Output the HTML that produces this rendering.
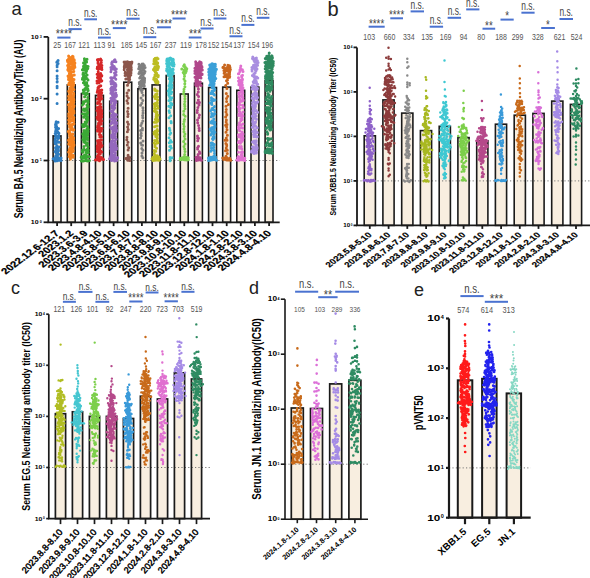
<!DOCTYPE html>
<html><head><meta charset="utf-8"><style>html,body{margin:0;padding:0;background:#fff;overflow:hidden}svg{display:block}text{font-family:"Liberation Sans",sans-serif}</style></head><body>
<svg width="590" height="578" viewBox="0 0 590 578" font-family="Liberation Sans, sans-serif">
<rect width="590" height="578" fill="#fff"/>
<rect x="53.1" y="135.9" width="7.9" height="86.4" fill="#f8eee0"/>
<rect x="67.3" y="84.9" width="7.9" height="137.4" fill="#f8eee0"/>
<rect x="81.4" y="93.6" width="7.9" height="128.7" fill="#f8eee0"/>
<rect x="95.5" y="95.4" width="7.9" height="126.9" fill="#f8eee0"/>
<rect x="109.7" y="101.2" width="7.9" height="121.1" fill="#f8eee0"/>
<rect x="123.8" y="82.2" width="7.9" height="140.1" fill="#f8eee0"/>
<rect x="137.9" y="88.7" width="7.9" height="133.6" fill="#f8eee0"/>
<rect x="152.1" y="84.9" width="7.9" height="137.4" fill="#f8eee0"/>
<rect x="166.2" y="75.5" width="7.9" height="146.8" fill="#f8eee0"/>
<rect x="180.3" y="94" width="7.9" height="128.3" fill="#f8eee0"/>
<rect x="194.5" y="83.2" width="7.9" height="139.1" fill="#f8eee0"/>
<rect x="208.6" y="87.5" width="7.9" height="134.8" fill="#f8eee0"/>
<rect x="222.7" y="87.1" width="7.9" height="135.2" fill="#f8eee0"/>
<rect x="236.8" y="90.3" width="7.9" height="132" fill="#f8eee0"/>
<rect x="251" y="87.1" width="7.9" height="135.2" fill="#f8eee0"/>
<rect x="265.1" y="80.6" width="7.9" height="141.7" fill="#f8eee0"/>
<line x1="48.3" y1="160.5" x2="279.7" y2="160.5" stroke="#777" stroke-width="1" stroke-dasharray="1.2 2.2"/>
<rect x="53.1" y="135.9" width="7.9" height="86.4" fill="none" stroke="#1a1a1a" stroke-width="1.6"/>
<rect x="67.3" y="84.9" width="7.9" height="137.4" fill="none" stroke="#1a1a1a" stroke-width="1.6"/>
<rect x="81.4" y="93.6" width="7.9" height="128.7" fill="none" stroke="#1a1a1a" stroke-width="1.6"/>
<rect x="95.5" y="95.4" width="7.9" height="126.9" fill="none" stroke="#1a1a1a" stroke-width="1.6"/>
<rect x="109.7" y="101.2" width="7.9" height="121.1" fill="none" stroke="#1a1a1a" stroke-width="1.6"/>
<rect x="123.8" y="82.2" width="7.9" height="140.1" fill="none" stroke="#1a1a1a" stroke-width="1.6"/>
<rect x="137.9" y="88.7" width="7.9" height="133.6" fill="none" stroke="#1a1a1a" stroke-width="1.6"/>
<rect x="152.1" y="84.9" width="7.9" height="137.4" fill="none" stroke="#1a1a1a" stroke-width="1.6"/>
<rect x="166.2" y="75.5" width="7.9" height="146.8" fill="none" stroke="#1a1a1a" stroke-width="1.6"/>
<rect x="180.3" y="94" width="7.9" height="128.3" fill="none" stroke="#1a1a1a" stroke-width="1.6"/>
<rect x="194.5" y="83.2" width="7.9" height="139.1" fill="none" stroke="#1a1a1a" stroke-width="1.6"/>
<rect x="208.6" y="87.5" width="7.9" height="134.8" fill="none" stroke="#1a1a1a" stroke-width="1.6"/>
<rect x="222.7" y="87.1" width="7.9" height="135.2" fill="none" stroke="#1a1a1a" stroke-width="1.6"/>
<rect x="236.8" y="90.3" width="7.9" height="132" fill="none" stroke="#1a1a1a" stroke-width="1.6"/>
<rect x="251" y="87.1" width="7.9" height="135.2" fill="none" stroke="#1a1a1a" stroke-width="1.6"/>
<rect x="265.1" y="80.6" width="7.9" height="141.7" fill="none" stroke="#1a1a1a" stroke-width="1.6"/>
<path fill="none" stroke="#2f7dc0" stroke-width="3" stroke-linecap="round" d="M57.1 61.7h0M57.1 78.4h0M57.1 158.2h0M56.8 62.3h0M58.1 159.3h0M57.1 62.4h0M59.1 158h0M58.1 60.5h0M55.1 158h0M57.1 70.7h0M57.1 82.1h0M57.1 94h0M57.2 81.6h0M57.1 86.2h0M61.1 158h0M57.1 76.1h0M53.1 158.7h0M57.1 160.7h0M56.1 159.6h0M59.4 158.7h0M59.1 160.3h0M57.1 103.6h0M55.1 160.9h0M53.9 159.1h0M61.1 160.5h0M57.1 65.2h0M58.1 63.4h0M57.6 157.8h0M57.1 66.7h0M57.1 87.7h0M59 142.3h0M55.6 131.6h0M55.9 132.3h0M56.6 142.4h0M55.3 141.2h0M56.8 128.5h0M56.9 132.5h0M57.9 132h0M57.2 129.9h0M56.2 153.4h0M56.7 157.3h0M57.1 149h0M58.1 122.3h0M56.3 142.1h0M57.4 146.7h0M58.9 137.8h0M55.4 138.4h0M59.2 146.9h0M56.6 151.4h0M56.9 145.7h0M55.5 127.1h0M56 149.4h0M55.5 135.3h0M58.6 137.5h0M56.2 151.3h0M58.6 136.2h0M55.7 156.4h0M57 129.4h0M55.1 142.7h0M57.4 136.4h0M57.2 156.3h0M55.3 143.8h0M58.7 154.3h0M56.7 150.5h0M55.5 124.7h0M55.9 123.3h0M55.2 133.4h0M56.6 126.4h0M56.1 143.6h0M55.6 133.7h0M55.5 138.1h0M56.2 124.6h0M55.1 151.6h0M55.6 156.2h0M57.2 141h0M58 157.2h0M55.8 130.5h0M58.3 149.5h0M58.3 133.1h0M58.4 157.4h0M55.9 151.2h0M55.2 140.1h0M56.2 121.8h0M56.5 157.6h0M56 129h0M58.6 128.4h0M57.8 152.1h0M57.8 150.5h0M58.2 154.6h0M58.3 138.6h0M58.9 133.2h0M58.8 135.5h0M55.5 147.8h0M58.5 150.8h0M56.4 157.3h0M55.1 141.2h0"/>
<path fill="none" stroke="#f5821f" stroke-width="3" stroke-linecap="round" d="M73 56.5h0M73.1 57.7h0M72.1 59.6h0M72.6 57.7h0M71.1 57.5h0M74.2 59.7h0M71.7 59.7h0M68.4 59.7h0M68.6 56h0M72.3 56.5h0M68.6 59h0M68.6 58.7h0M69.1 59.5h0M71.1 59.8h0M68.5 60h0M70.1 57.4h0M72.6 56.3h0M70.8 60.3h0M72.2 60.3h0M74.9 67.2h0M67.6 61.5h0M68.6 70.9h0M73.6 65.9h0M74.5 63.6h0M68.2 68h0M70.6 60.8h0M72.3 61h0M73.8 71.2h0M70.9 60.9h0M74.5 64.7h0M71.4 63.8h0M68.6 63.3h0M69.7 60.7h0M69.6 64.3h0M70.1 67h0M67.4 60.3h0M69 70.3h0M68.3 66.6h0M71.2 71.5h0M71.3 71.7h0M72.8 64.8h0M70.1 68.9h0M67.8 60.8h0M68.8 70.4h0M74.2 61.2h0M69.3 69.4h0M68.6 64.1h0M74.7 66.2h0M69.4 73.6h0M70.2 73.5h0M71 60h0M71.3 67h0M68 60.1h0M67.6 65.6h0M71.9 64.3h0M72.4 67.4h0M70.4 70h0M72.4 62.1h0M74.3 60.6h0M73.5 68.8h0M71.3 62h0M73.6 71.7h0M72.6 68.2h0M67.8 69.7h0M68.1 61.9h0M72.1 71.7h0M71.2 68.8h0M73.2 60h0M72.4 67h0M69.3 60.9h0M73 61h0M74.9 62.9h0M71.1 66.9h0M71.9 78.1h0M69.1 77.9h0M69.9 75.5h0M68.5 77.4h0M72.5 75.6h0M71.3 78.1h0M68.8 76.8h0M74 79.4h0M71 79.6h0M69.4 76.7h0M71.7 79.7h0M74.3 74.9h0M71.3 74.8h0M69.7 79.3h0M68.5 79.4h0M70.9 74h0M70.2 75.8h0M68 75.9h0M69 78.5h0M73.5 79.6h0M70.6 102.9h0M70.4 158.9h0M68.7 113.8h0M70 88h0M69.9 153.9h0M70.5 120.4h0M73 155.5h0M73.7 129.8h0M68.7 123.4h0M72.6 137.9h0M68.7 130.9h0M71.1 153.2h0M72.6 107.1h0M72.1 157.1h0M70.6 103.8h0M69.6 93.2h0M69.7 151.6h0M70.9 151.6h0M68.9 91h0M69.8 107h0M73.4 100.4h0M70.7 139.2h0M70.3 121.4h0M73.8 84.9h0M72 89.9h0M69.9 148.2h0M70.9 99.6h0M73.3 155.4h0M72.4 81.7h0M71.7 150.8h0M73.6 80h0M73.9 145.2h0M69.3 99.6h0M73.7 121.3h0M72.7 137h0M68.7 116.1h0M73.6 141.8h0M69.1 131h0M72.3 99.9h0M71.4 88.9h0M69.7 126h0M70.1 127.5h0M72 116.4h0M69.7 149.8h0M72.4 99.5h0M71.2 104.3h0M69.9 133.3h0M69.7 132.7h0M70.8 82.7h0M72.9 133.9h0M69.6 138.4h0M73 156.6h0M72.7 98.2h0M71.2 103.3h0M70.8 94.8h0M69.2 132.6h0M73.9 111.1h0M68.8 91.2h0M73.4 111.1h0M73.6 137.9h0M73.7 106h0M72.2 139h0M70.3 109.9h0M70 93.4h0M69.1 107.8h0M70.4 156.2h0M70.9 144.9h0M70.5 83.9h0M70.5 152.6h0M70.7 150.9h0M68.7 144.1h0M73.6 82.8h0M73.5 100.3h0M73.8 106.8h0M72.4 128.7h0M68.5 105h0M72 139.7h0M69.7 154.5h0M73.8 117.5h0M70.8 110.5h0M69.5 119h0M73 143.4h0M70.3 141.1h0M72.8 105.2h0M72.6 86.2h0M68.6 99.5h0M73.9 123.7h0M69.9 149.8h0M71.2 86.6h0M69.7 136.1h0M72.2 112.9h0M72.2 139.1h0M70.1 89.6h0M72.6 124.8h0M69.8 95.7h0M71.7 92.1h0M74 105.8h0M73 120.1h0M69 131.6h0M73.1 117.5h0M70.1 152.2h0M73.9 89.4h0M70.5 126.1h0M69.9 148.4h0M69 141.4h0M69.6 127.1h0M69.6 109.1h0M72.1 100.1h0M70.3 96.1h0M70.2 133.6h0M71.5 96.1h0M70.6 85h0M68.9 123.5h0M70.7 92.9h0M73.8 102.4h0M70.4 104.7h0M74 112.9h0M72.5 108.7h0M73.5 96.1h0M70.7 113.5h0M69.3 149.7h0M72 81.2h0M71.9 151.9h0M69.2 109.3h0M73.6 102.4h0M72.9 88.6h0M69.1 156.4h0M71.1 154.5h0M70.6 84.2h0M73 151.4h0M69.7 92.7h0M73.1 112h0M70.7 94.5h0M69.1 120.9h0M73.5 99.5h0M72.7 83.2h0M69.1 83h0M71.9 127.4h0M71.7 104.2h0M70.9 113.6h0M71.9 114.6h0M72.7 118.7h0M69.4 141.6h0M69.1 117.4h0M70.9 114h0M72 120.3h0M72.8 86.5h0M71.3 120.4h0M69.2 109.9h0M72.5 147.7h0M73.9 144.4h0M73.6 118.9h0M73.6 93h0M72.7 85.2h0M70 92.5h0M71.2 144.4h0M69.9 152.7h0M68.6 120h0M73.7 94.4h0M69.4 133.7h0M71.4 142h0M73.3 130.3h0M73.4 123.9h0M72 88.3h0M69.9 111.1h0M70.4 158.2h0M69.4 140.4h0M73 138.7h0M73.9 100h0M70.2 126.3h0M69.3 80.1h0M71.3 128.7h0M69.7 150.7h0M68.4 131.6h0M70.4 108h0M71.7 97.7h0M71.1 96.1h0M69.8 90.6h0M72 91.8h0M70.7 148.8h0M72 100.9h0M72 124.4h0M72.5 115.1h0M68.7 99.6h0M69.8 122h0M68.5 84.6h0M69.2 123.5h0M71.3 95.8h0M69.4 130.7h0M68.7 104.4h0M72.4 150.3h0M72.6 80.5h0M71 116.8h0M69.7 97.8h0M72.6 83.1h0M72.4 134.9h0M70.9 101h0M69.9 142.3h0M69.6 130.7h0M69.9 149.5h0M73.7 98.7h0M73.4 138.9h0M73.5 106h0M72.2 129.8h0M73.1 157.3h0M70.9 135.1h0M70.2 137.2h0M68.9 96.7h0M68.6 152h0M70.4 88.4h0M68.7 91.2h0M72.3 134.7h0M71.7 138.2h0M73 108.7h0M73.3 150.4h0M69 152.2h0M68.6 96.3h0M72 147h0M70 145.2h0M72.7 87.9h0M70.8 96.2h0M70 81.7h0M70.2 136.5h0M73.2 156.2h0M70.7 128.8h0M70.4 114.5h0M69.6 135.7h0M73 148.1h0M69.6 93.5h0M68.5 140.2h0M72.9 118.8h0M70.4 94.6h0M73.7 145.7h0M72.3 102.4h0M72 119.4h0M72.3 86.4h0M70.4 142.2h0M73.4 111.7h0"/>
<path fill="none" stroke="#3aa935" stroke-width="3" stroke-linecap="round" d="M85.4 156.7h0M85.4 160.4h0M87.4 156.5h0M86.4 157.9h0M86.4 155.6h0M83.4 156.2h0M87.4 160.9h0M83.4 160.9h0M89.4 156.8h0M81.4 156.7h0M86.4 159.4h0M81.2 157.2h0M89.4 160.6h0M84.4 155.3h0M81.4 161h0M84.5 156.3h0M84.4 58.7h0M84.7 64.4h0M85.1 64.2h0M86.6 62h0M84.4 62.7h0M83.6 62.8h0M85.7 61.4h0M87 59.3h0M84.5 60h0M83.5 63.1h0M84.3 79.7h0M84.3 114.1h0M86.7 82.8h0M83 74.6h0M87.1 101.1h0M83.5 133.9h0M83.6 125h0M84.8 101.5h0M85.4 139.4h0M83.2 124.4h0M86.8 121.7h0M85.8 150.4h0M83.7 135.4h0M87 132.9h0M86.4 130.8h0M84.2 125.3h0M84.9 124.1h0M86.1 138.5h0M85.1 88.5h0M86.4 123.4h0M86.3 152.4h0M85.3 138.1h0M85.6 156.6h0M88 80.1h0M85.8 113.8h0M85.4 115.9h0M85.5 125.1h0M83.6 103.6h0M86.9 129.3h0M84.5 76.5h0M84.8 70.3h0M84.9 66.3h0M84 130.6h0M88 86.1h0M87.2 114.5h0M83.1 101.8h0M86.2 138h0M83.7 109.1h0M86.2 155.6h0M85.2 142h0M83.1 92.7h0M87.5 143.4h0M83.9 90.1h0M82.4 105.1h0M83.8 132.8h0M84.9 93.4h0M84.5 124.9h0M82.7 152.3h0M87.1 142.8h0M86.2 78.2h0M88.1 66.4h0M83 126.7h0M87 78.4h0M87.8 97.6h0M87.7 139.4h0M86.4 122.2h0M87.4 149h0M85.5 83.6h0M87.7 134.7h0M83.8 117.2h0M82.7 78.1h0M85.3 108.9h0M87.5 111.8h0M85.2 65.6h0M87.4 117.9h0M88.1 100.2h0M86.2 72.1h0M86.5 67.7h0M88.3 152.6h0M87.7 113h0M86.1 68.2h0M84.6 96.8h0M87 109.6h0M84.9 84.8h0M84.1 117.1h0M85.4 142.8h0M88.2 90.5h0M84.3 126.5h0M85.9 94.8h0M82.6 124.7h0M85.6 132.9h0M82.4 69.7h0M86 82.9h0M87.8 126.9h0M86.1 122.5h0M86.4 130.5h0M85.1 85h0M83.4 136.7h0M87.8 68.5h0M87.3 126.6h0M83.9 138.9h0M84.3 93.4h0M88 105.5h0M82.6 70.1h0M85.8 76.2h0M82.4 151.4h0M88 101.4h0M84.8 157.2h0M83.6 74.6h0M82.4 79.3h0M88.2 129.3h0M83.1 73.3h0M83.8 66.7h0M82.7 134h0M87.5 137.8h0M86.1 133.6h0M88 131.7h0M86.7 88.9h0M86.3 66.1h0M84.2 141.8h0M87.5 133.6h0M84.6 110.7h0M86.4 119h0M84.5 78.6h0M84.9 125.6h0M88 101.3h0M84.1 138.8h0M86.6 70.7h0M86 142.8h0M86 156.9h0M87.7 94h0M86 100.4h0M84.1 149.2h0M84.9 65.2h0M87.7 120.1h0M87.2 69h0M84 146.5h0M86.5 145h0M82.9 150.9h0M83.6 117h0M83.8 135.5h0M85.2 122h0M86.9 84.4h0M82.9 139.4h0M83.8 140.8h0M87.7 119.5h0M85.9 114.1h0M83.4 82.8h0M85.7 130.9h0M83.3 102.8h0M84.6 69.2h0M87.1 75h0M84.4 79.7h0M82.6 113.8h0M85.3 158.1h0M87 118.3h0M87 105h0M83.9 142h0M83.4 68.6h0M85.7 72.9h0M88 146.8h0M85.9 150.5h0M88.1 102.4h0M86.2 89.2h0M84.7 154.9h0M88.2 107.1h0M82.6 158.2h0M87.8 89.1h0M82.6 150h0M86.2 138.9h0M83.2 157.6h0M86.4 136h0M86.9 93.1h0M83.9 74.9h0M83.4 76.7h0M86.4 87.4h0M83.5 66.2h0M83.7 68.4h0M87.7 152.8h0M82.9 78.1h0M86.1 152.3h0M87.3 107.5h0M83.2 109.9h0M86.6 85.8h0M87.6 117h0M83.3 90h0M84.4 90.5h0M84.3 80.8h0M88.2 149.9h0M86.4 70.3h0"/>
<path fill="none" stroke="#d62728" stroke-width="3" stroke-linecap="round" d="M99.5 157.1h0M99.5 158.6h0M100.5 159.5h0M101.5 157.6h0M97.5 159.1h0M102.5 158.5h0M103.5 159.6h0M98.5 160h0M97.5 157.3h0M95.5 159.9h0M96.2 159.8h0M99.5 160.8h0M101 60.3h0M98 61.9h0M101.3 62.4h0M98 63.3h0M100 59.4h0M97.4 59.7h0M101.1 63h0M98.7 64.5h0M101.4 60.3h0M100.6 59.1h0M98.4 59.4h0M97.2 117.9h0M101.3 131h0M101.8 98.5h0M98.2 71.7h0M100.9 143h0M101.5 146.6h0M100.6 92.4h0M101 107h0M97.4 77.6h0M98.5 123.2h0M97.1 117.2h0M98.3 152.1h0M99.3 143.7h0M98.7 87.4h0M98.4 73.8h0M100.8 108.7h0M101.4 75.3h0M98.1 115.9h0M99 127.9h0M100.2 154.1h0M100 130.2h0M97.2 68.4h0M101.2 99.1h0M99.8 132.3h0M99 157.7h0M97.7 117.7h0M101.3 128.9h0M97.5 127.3h0M98 82.6h0M99.1 127.9h0M99.3 102.3h0M101.9 69.4h0M100.1 68.8h0M100.1 151.3h0M97.5 140.8h0M98.2 76.4h0M98.7 68.7h0M101.8 80.7h0M97.4 151.6h0M99.2 120.5h0M101.6 113.1h0M100.7 119.3h0M99.3 134.6h0M98.9 130.3h0M101.4 116.6h0M101.1 93.5h0M97.9 67.9h0M99 116.3h0M101.8 151.9h0M98.3 95.5h0M97.3 147.6h0M100 67h0M99.6 97.7h0M100.8 143.4h0M100.4 114h0M100.3 152.8h0M100 78.2h0M97.5 91h0M102 145.5h0M100.2 90.3h0M97.5 131.1h0M97.6 103.6h0M97.7 102.4h0M100.1 144.9h0M100.5 75.4h0M98.8 92.1h0M100.2 114.5h0M101.9 65.6h0M99.7 100.8h0M98.9 140.5h0M98.6 86.8h0M98.2 156.1h0M101.4 95.6h0M98.3 154.9h0M99.7 149.2h0M99.2 94.4h0M99.1 142.6h0M100.4 108.6h0M97.3 107.6h0M99.5 86.6h0M97.8 126h0M99 82.7h0M99.9 137.1h0M97.5 130h0M97.4 99.1h0M100.3 94.2h0M101.7 92.7h0M100.1 112.8h0M98 114.3h0M97.3 149h0M99.8 118.1h0M100.4 124.3h0M100.5 66h0M99 117h0M97.1 74.3h0M99.8 81.5h0M99.6 146.9h0M100 78.5h0M99.5 78.7h0M101.7 67.7h0M99.1 111.1h0M100.4 140.2h0M98.2 119.4h0M100.1 90.9h0M97.3 145.8h0M97.1 83h0M100.8 85.7h0M98.2 69.1h0M99.9 86h0M101.3 81.3h0M98.2 107.8h0M97.3 148.4h0M99.9 128.7h0M100.5 103.9h0M97.4 67.1h0M97 81h0M98.8 147.9h0M98.7 96.5h0M99.1 126.2h0M98.9 150.8h0M99.2 108.9h0M101 91.2h0M98 87.7h0M99.8 116.2h0M98.2 108.9h0M99 99.6h0M98.5 124.2h0M101.3 109.7h0M102 128.5h0M101.9 121h0M99.5 115.3h0M100.4 76.8h0M100.7 73.6h0M100.6 136.9h0M100.5 78.6h0M98.1 130.3h0M97.3 82.7h0M100.8 150.9h0M97.4 83.1h0M99 92.1h0M99.3 98.5h0M101.3 124h0M98.8 153.1h0M101.5 140.1h0M99.3 67.4h0M101.5 159h0M98.3 74.2h0M100.4 122.2h0M99.1 103h0M100.7 136.2h0M101.7 116.9h0M99.5 118.1h0M100.3 114h0M97.5 119.1h0M101.5 136.8h0M100.5 147.3h0M97.2 156.6h0M98.7 94.9h0M100.7 150.9h0M98.1 158.8h0M101.7 114.6h0M99.5 106.6h0M100.1 129.7h0M98 112.8h0M100.9 128.3h0M101.8 111h0M97.9 142.6h0M98.2 80.4h0M97.8 89.5h0M100.2 97.6h0M99.4 77.9h0M97 110.4h0M100.2 130h0M100.5 130.6h0M100.1 120.2h0M101.7 76.1h0M101.9 128.6h0M98 143.9h0M99.4 129.9h0M98.5 69.1h0M101.8 75.4h0M99.8 80.2h0M97.2 92.2h0M99.4 109h0M100.7 135.2h0M101.8 89.9h0M98.6 110.9h0M98.4 98.8h0"/>
<path fill="none" stroke="#9467bd" stroke-width="3" stroke-linecap="round" d="M113.6 159.9h0M113.6 157.5h0M115.6 159.4h0M112.6 158.6h0M115.6 157.5h0M110.6 157.8h0M114.6 160.9h0M111.6 160.4h0M117.6 157.8h0M109.6 158.8h0M110.4 157.8h0M117.4 157.8h0M111 157.7h0M116.6 160.5h0M112.3 64.6h0M114.9 59.8h0M112.3 61.7h0M115.9 61.8h0M111.8 62.8h0M114.2 60.8h0M112.1 64.2h0M114.1 61.5h0M111.7 64.1h0M114.5 59.9h0M110.7 148.7h0M115 154.9h0M115.4 100.6h0M113.4 128.5h0M113.2 116h0M111.6 115.3h0M111.2 102.7h0M112.6 141.1h0M113.2 126.9h0M111.5 99.7h0M114.4 146.3h0M115 144.7h0M114.1 130h0M112.8 117.2h0M112.3 87.6h0M112 84.1h0M111.8 143.7h0M112 128h0M114.8 108.1h0M114 134.1h0M115.4 145h0M113.7 77.6h0M114.4 143.8h0M113.4 155.3h0M116.4 129.5h0M111.3 83h0M113.1 100.1h0M114.8 69.4h0M111.3 154.8h0M111.3 77.7h0M111.3 157.9h0M112.8 133.5h0M115 144.1h0M112.2 66.1h0M112.8 113.2h0M112.8 111h0M114.2 98.4h0M112.2 68.2h0M110.9 98.3h0M115.4 157.9h0M112.2 110.9h0M115.7 79.1h0M114.1 127.9h0M113.3 136.6h0M110.9 110.8h0M114.3 143.7h0M115.6 125.6h0M113.3 155.9h0M113.8 113.6h0M114.3 94.3h0M114.9 84.9h0M116.1 96.1h0M113.5 94.5h0M115.8 86.3h0M114.9 122.2h0M111.2 78.5h0M114.1 158.2h0M114.8 119.9h0M111.2 151h0M114 83.7h0M115.3 74.3h0M111.6 87.4h0M115.6 97.1h0M114.8 88h0M114.6 96.4h0M113.6 148.1h0M116.6 149.1h0M115.8 79.2h0M113 128.1h0M114.1 137.6h0M112.2 78.5h0M116.3 118.8h0M116 71.9h0M112.8 120h0M116.1 129.9h0M111.7 143.8h0M115.2 149.4h0M110.8 123.9h0M115.8 69.5h0M111.3 91.6h0M111.5 87.7h0M115.4 69.6h0M110.7 119.1h0M110.9 90.4h0M112.6 95.4h0M113.5 146.6h0M111.7 122.3h0M111.2 146.2h0M116.5 122.6h0M115.8 102.6h0M114.5 67.4h0M114.8 94.5h0M110.8 143.5h0M115.6 84.8h0M112.7 98.6h0M111.6 128.9h0M112 157.3h0M113.5 123.2h0M114.5 68h0M114 116.7h0M112.3 99h0M111.3 88.8h0M111.6 141.1h0M116.4 124.1h0M111.4 153.1h0M115.2 116.1h0M115 89.4h0M115.7 149.9h0M112.7 138.2h0M115.7 131.7h0M115.9 85h0M115.3 101.6h0M110.9 67.5h0M114.7 140.8h0M112.9 98h0M114.6 150.3h0M110.8 145.9h0M112.8 131.7h0M112.4 95.6h0M116.5 147.7h0M116.2 139.3h0M111.5 137.3h0M110.8 93.2h0M112.5 147h0M111.9 122.4h0M115.6 69.9h0M115.2 134.1h0M111.5 106.3h0M115.4 153h0M111.5 79.3h0M112.8 93.5h0M113 135.6h0M114.6 103.9h0M115.9 102.3h0M114.4 120h0M114.2 66.4h0M115 119h0M111.2 69.5h0M110.6 156.2h0M114.4 86h0M116.3 114.8h0M112 145.2h0M110.9 71.8h0M115.3 83.5h0M112.6 154.5h0M112.4 68.9h0M116.4 96.1h0M113.2 135.1h0M111.6 115.8h0M115.4 136.5h0M112.1 149.4h0M116.5 130.2h0M111.2 142.6h0M114.9 123.4h0M114.7 103.1h0M113.4 106.6h0M114.5 119.3h0M113.9 109.2h0M115.3 100.7h0M111 146.7h0M114.6 156.7h0M115.4 142.7h0M115.2 127.4h0M115.7 89.7h0M114 97.7h0M115.2 158.9h0M111.7 99.2h0M111.6 99.4h0M116.2 127.2h0M116.1 145.4h0M115.7 95.3h0M114.8 105.2h0M114.6 100.3h0M114.6 114.1h0M113.3 90.9h0M114.9 75.5h0M110.8 81.4h0M114.5 77.3h0M115.4 123.5h0M110.8 88.8h0M112.5 89.4h0M112.2 116.2h0M113.8 89.9h0M111.5 111.4h0M115.3 155.1h0M112.9 151.5h0M116.3 68.9h0M112.2 105.5h0M111.5 87.4h0M111 145.1h0M111.2 84.1h0M113.1 106.9h0M115.4 153h0M116.1 75.1h0M116.5 130.9h0M113 81.6h0M110.8 77.7h0M113.9 86.8h0M112.6 152h0M111.3 101.4h0M110.7 144.7h0M112 111.7h0M111.9 107.7h0M113.9 96.5h0M111.5 135.3h0M114.3 103.3h0M116.4 95.1h0M113.7 82.5h0M114.5 73.1h0M115.8 93.1h0M112.1 129h0M113.8 100.7h0M111.9 93.7h0M114.5 126.3h0M116.2 131.7h0M114.8 97.1h0M110.7 127.4h0M112 142.4h0"/>
<path fill="none" stroke="#8c564b" stroke-width="3" stroke-linecap="round" d="M127.8 160.2h0M128.8 159.1h0M127.8 157.6h0M125.8 158.4h0M129.8 160.5h0M129.8 157.6h0M130.3 62.6h0M129 71.5h0M129.4 64.3h0M129.5 63.2h0M125.9 62h0M126.2 64h0M131.2 67.4h0M124.7 65h0M126.7 65.7h0M128.1 68.3h0M129.8 62.6h0M124.4 66.1h0M131.2 70.2h0M126.5 67.1h0M131.3 69.4h0M131 62.6h0M124.3 67.8h0M131.2 63.1h0M131.2 70.4h0M131.9 61.9h0M129.1 65.2h0M127.3 62.1h0M124.9 64.2h0M124.2 69.8h0M128.2 67.4h0M127.4 69.8h0M124.1 62h0M128.4 68.3h0M129.2 65.3h0M131.7 63.3h0M131 65h0M124.3 66.6h0M127.7 70.7h0M127.5 67.2h0M127.8 63.3h0M126.9 65.4h0M125.5 63.7h0M130.9 70.7h0M127.6 61.8h0M129.3 69.8h0M124.7 64h0M126.8 64.3h0M131.1 67h0M125.4 62.5h0M129.5 67.8h0M128.6 62.2h0M128.7 71.8h0M127.5 74.8h0M129.7 79.6h0M125.1 75.4h0M129 74h0M125.1 73.3h0M126.5 73.6h0M127.7 78.6h0M130.2 73.7h0M128.8 78.5h0M130.8 74.9h0M131 73.1h0M129.6 76.9h0M129.4 78.5h0M127.5 73.9h0M130.6 74h0M129.6 75.3h0M125.8 78.9h0M130 74.8h0M127.7 78.6h0M130.2 72.1h0M127.5 75.5h0M126.8 74.8h0M126.2 74.4h0M128.6 77.8h0M128.6 78.7h0M125.3 72.3h0M128.7 79.9h0M128.5 82.7h0M127.5 85.2h0M128.7 90.2h0M127.1 93h0M127.1 96h0M128.4 98h0M127 100.8h0M127.8 103.3h0M128.1 108.3h0M127.6 111.6h0M128.1 113.9h0M127.8 116.5h0M127.5 122h0M128.4 124.3h0M127.6 127h0M128.2 129.6h0M127.4 131.7h0M127 137.3h0M126.8 139.7h0M128 142.2h0M127.3 145h0M128.7 147.7h0M128.1 150.1h0M128.1 155.2h0M127.9 158.3h0"/>
<path fill="none" stroke="#7f7f7f" stroke-width="3" stroke-linecap="round" d="M145.1 67.6h0M143.2 67h0M141.7 64.9h0M141.2 66.4h0M140.7 66.6h0M139.2 67.1h0M141.9 67.7h0M144.4 65.5h0M142.1 63.9h0M141.3 66.5h0M143.2 64h0M144.1 65.4h0M138.9 64.2h0M140.6 71.2h0M145 71.6h0M144.1 68.6h0M144.5 73h0M143.4 69h0M141.3 72.5h0M144 73h0M140.8 70.4h0M139.7 73.2h0M144.6 72.4h0M143.1 69.7h0M138.9 73.5h0M141.4 71.4h0M143.8 69.3h0M139.6 72.1h0M140.1 69.3h0M138.7 68.7h0M142.9 70.3h0M144.3 73.3h0M142.4 84.4h0M144.1 81.4h0M142.3 78.5h0M139.4 87h0M144.4 81.6h0M143.4 77.2h0M144.5 80.5h0M139.3 82.6h0M141.8 81.9h0M144.5 78.3h0M142.2 81.7h0M144.3 86h0M140.4 82.4h0M140.5 76.5h0M139.7 78h0M144 80h0M142.1 74.8h0M142.6 83.6h0M144.4 82.4h0M140.3 86.9h0M140.1 83h0M144 85.1h0M143.6 74.2h0M140.3 84.8h0M140.8 85h0M143.1 85.5h0M141.1 83h0M142.7 80.1h0M142.2 84.9h0M140.9 83.2h0M143.2 79.2h0M139.4 84.1h0M141 84.4h0M143.9 86.5h0M141 81.1h0M144.6 78.7h0M140.6 86.4h0M142.8 79.7h0M140.8 87.7h0M143.3 85.9h0M141 88.3h0M140.9 90.2h0M142 92.6h0M143.1 95.2h0M141.1 98.1h0M142.8 100.4h0M141.8 103.2h0M140.6 105.3h0M142.9 107.7h0M143 110.5h0M143 113.1h0M142.6 115.6h0M142.8 117.7h0M142.8 120.9h0M141.8 123.3h0M140.9 125.5h0M142.4 128.2h0M140.6 130.6h0M141.2 133.2h0M141.2 135.8h0M140.6 138h0M143 140.9h0M140.7 143h0M141.7 145.1h0M141.8 148.4h0M142.9 150.2h0M142 153.1h0M141.9 155.9h0M142.9 157.7h0M142.3 89.7h0M142.4 130h0M140.9 135h0M142.5 145.2h0"/>
<path fill="none" stroke="#bcbd22" stroke-width="3" stroke-linecap="round" d="M156 158.8h0M158 158.2h0M156 157.3h0M154 158.2h0M159 157.1h0M160 158.9h0M157 160h0M152 158.7h0M153 157.3h0M155 160.3h0M153.7 158.9h0M159 160.2h0M153 160.4h0M153.8 157.6h0M156.1 60.4h0M154.8 60.7h0M155.2 58.3h0M156.3 59.1h0M154.2 59.3h0M157.1 58.1h0M158 58.8h0M154.6 61.7h0M154 61h0M157.2 62.5h0M158.1 76.7h0M156.6 79.6h0M154.2 68.5h0M153.7 79.3h0M154.3 70.4h0M155.9 82.8h0M157.3 75.7h0M153.6 69.2h0M156.2 73.8h0M153.5 69.8h0M155.2 79h0M153.7 63.7h0M155.2 80.7h0M155.8 63.4h0M156.8 66.7h0M158.2 67.4h0M156.7 73.4h0M157.3 76.3h0M155.7 81.5h0M156.6 64.6h0M158.3 75.5h0M155.2 68.3h0M157.8 83.1h0M156.8 76.1h0M153.9 78.3h0M153.9 63.5h0M153.9 78.1h0M157.1 63.6h0M157.9 76.3h0M158 82.3h0M157 67.6h0M157.9 65.8h0M155.1 80.9h0M157.4 66.5h0M155.3 64.3h0M157.7 69.4h0M157.4 63.6h0M154.8 76.6h0M157.7 63h0M154 63.3h0M155 74.8h0M158.2 67.9h0M154.4 69.8h0M155.4 70.1h0M157.9 65.7h0M157.3 82h0M156.8 82.5h0M157.8 81.5h0M154.8 67.3h0M155.4 62.2h0M155.9 70.1h0M156.3 72.7h0M155.9 72.8h0M155.6 82.3h0M154.8 63.3h0M155.2 71.8h0M155.9 63.3h0M158.5 66.7h0M154.2 153.6h0M156.1 116.4h0M154.4 122.3h0M157.8 119.8h0M157.2 142.9h0M155.1 131.3h0M156.8 143.2h0M156 119.6h0M157.6 131.1h0M154.1 132.3h0M156.7 132.6h0M155.6 94.4h0M154.2 150.5h0M156.6 148.3h0M155.8 136.5h0M157.4 138.3h0M157.4 105.4h0M154.8 106.8h0M154.7 89h0M154.3 111h0M157 112h0M157.6 134.4h0M155.2 98.4h0M157.9 142.8h0M154.7 140.7h0M156.3 115h0M157.4 141.8h0M156.4 95.6h0M155.6 119.6h0M155.1 103.6h0M158 115.2h0M157 94.1h0M154.3 96.6h0M155 145.5h0M154.6 126.8h0M156.9 139.8h0M157.3 91.1h0M154.3 156.6h0M154.6 140.5h0M155.2 89.5h0M156.3 133.7h0M156.1 117.5h0M156.1 135h0M156.4 125.9h0M157.4 103h0M155.7 155.7h0M157.3 155.7h0M156.7 136.6h0M157.7 99.9h0M157.1 117.4h0M155.9 155.7h0M157.9 108.3h0M156.2 90.7h0M157 114.1h0M155.5 111.8h0M158 121.1h0M154.5 132h0M156.5 122.2h0M155.8 132.5h0M155.4 108.9h0M157.3 140.9h0M157.1 136h0M156.5 113.6h0M154.8 105.9h0M157.1 102.6h0M156.6 111.7h0M155.8 96.3h0M154.2 133.9h0M155.7 151.3h0M157.2 126h0M155 146.8h0M157.6 97h0M154.1 142.9h0M154.8 90.2h0M155.4 119.2h0M157.5 105.9h0M155.1 109h0M154.2 103.9h0M157.5 157h0M154.6 108.6h0M157.2 129.4h0"/>
<path fill="none" stroke="#40c4cf" stroke-width="3" stroke-linecap="round" d="M170.1 159.2h0M170.1 157.6h0M170.1 160.7h0M172.1 157.7h0M171.7 59.4h0M171.1 58.5h0M173.2 60.6h0M171.2 58.4h0M168.3 58.7h0M171.8 61h0M168.6 61.8h0M167.1 58.9h0M166.8 60.2h0M173.3 59.8h0M167.7 61.4h0M170.3 58h0M170.3 59.1h0M166.8 61h0M168.4 59.2h0M168.8 60.5h0M172.1 59.6h0M173.1 59.2h0M167.3 71.3h0M168.4 66.6h0M173.6 62.4h0M171.1 63.3h0M172.1 65h0M167.1 69.7h0M173.8 65.9h0M172.4 62.5h0M166.6 63.4h0M172.9 63.6h0M172.3 63.7h0M167.2 66.3h0M172.1 63.2h0M169.9 68h0M167.4 69.2h0M166.9 63.9h0M168.3 70.1h0M174.1 64.6h0M168.7 63.5h0M168.8 63.7h0M172.8 63.9h0M166.6 70.6h0M173.1 69.6h0M172.6 71.5h0M169.2 70.2h0M169.2 65.7h0M173.5 63.1h0M173.2 66.1h0M173.2 69.6h0M172.5 69.3h0M169.2 64.5h0M170.4 70.4h0M168.9 65.4h0M172.9 70.4h0M172.1 63.4h0M166.8 68.8h0M169.8 70.7h0M172.4 65.4h0M169 70.7h0M168.7 64.5h0M167.9 62.3h0M172.1 62.7h0M169.3 64h0M173.3 65.1h0M171.9 74.9h0M170.6 74.3h0M170.1 75.3h0M169.5 74.7h0M172.2 74.8h0M169.7 72.1h0M168.2 74.9h0M168.9 75.2h0M173.3 72.9h0M171.3 73.7h0M169.3 75.7h0M168.3 73.3h0M170.8 93.5h0M172.1 80.6h0M168.9 94h0M171.2 105.1h0M171.8 103.8h0M170.1 82.6h0M172 104.8h0M170.4 92.3h0M171.4 80.6h0M169.2 89.6h0M170.2 84.8h0M168.2 91h0M171.1 86.9h0M170.2 83.6h0M171.8 81.6h0M171 82.5h0M171 100h0M171.8 84.7h0M169.9 77.7h0M171.3 78.8h0M170 97.7h0M169.5 96.4h0M168.9 100.5h0M170.6 81.2h0M169 85.7h0M169.4 78.7h0M170.1 92.1h0M170.1 90.1h0M168.9 106.2h0M168.8 94.9h0M172 78.3h0M169.8 88.9h0M169.7 87.3h0M170.4 80.9h0M171.1 76.2h0M171.8 87.3h0M169.3 88.9h0M171.1 93.7h0M169.6 106.4h0M170.5 103.3h0M171.9 97.7h0M168.9 93.6h0M171.3 79.7h0M170.1 76.9h0M171.7 91.9h0M171.9 87.2h0M169.5 96.5h0M171.3 88.4h0M169.7 84.3h0M170.3 87.6h0M171.4 84.8h0M170.6 107.6h0M169.1 110.7h0M169.5 112.6h0M170.7 115.7h0M171.2 122.7h0M169.4 128.2h0M169.9 130.2h0M170.7 133.1h0M169.1 137.7h0M170.6 140.6h0M169.3 142.7h0M170.6 145.9h0M171.3 147.9h0M169.5 150.3h0M169 117.7h0M171 121.6h0M169.9 134.2h0M171.5 142.1h0M169.8 146.4h0"/>
<path fill="none" stroke="#7ed14f" stroke-width="3" stroke-linecap="round" d="M184.3 159.8h0M185.3 158.7h0M186.3 160h0M184.3 157.8h0M182.3 159.3h0M186.3 157.3h0M182.3 157.8h0M188.3 159.7h0M188.3 157.7h0M180.3 158.2h0M184.4 157.9h0M180.3 159.8h0M182.9 159.1h0M186.2 157.8h0M184.3 64.7h0M186.8 68.8h0M185.4 68.5h0M185 66.6h0M184.6 67h0M186.6 68.9h0M184.8 66.6h0M183.6 66h0M185.9 67.9h0M184.5 70h0M185.9 72h0M181.8 69.1h0M184.3 70.2h0M184.7 71.1h0M186.5 69.4h0M186.3 70.8h0M184 71.4h0M185.6 72.7h0M183.2 72.6h0M184.3 73.6h0M184.3 74.2h0M184.5 76.3h0M184 79.1h0M185 81.1h0M184.8 83.8h0M184.9 86.7h0M184 89.3h0M183.9 91.5h0M183.5 93.7h0M184.9 96.3h0M184.9 98.7h0M184.8 101.6h0M184.5 104.2h0M184.8 106.3h0M184.9 108.8h0M183.8 111.3h0M183.7 114.4h0M185.1 116.2h0M184.5 119.4h0M184.1 121.5h0M183.6 123.9h0M184.2 126.5h0M183.9 129h0M184 131.8h0M184.9 134h0M184.4 136.2h0M185 138.9h0M183.6 141.4h0M185 144h0M184 146.6h0M184.7 148.9h0M185 151.5h0M184.7 154.4h0M184.2 156.8h0M185 159.1h0"/>
<path fill="none" stroke="#b0468a" stroke-width="3" stroke-linecap="round" d="M198.4 160h0M200.4 159.2h0M198.4 158.3h0M200.4 157.7h0M196.4 159h0M196.4 160.4h0M196.4 157.5h0M201.4 160.3h0M196.1 157.2h0M200.7 159.7h0M198.9 66.1h0M196.2 69.9h0M198.9 63.4h0M202 67.3h0M199.6 61.8h0M201.1 65.2h0M201 65.9h0M195.7 61.8h0M197.6 65.2h0M195.9 64.7h0M198.7 69.3h0M195.9 63h0M197 68.3h0M198.4 66.4h0M200 65.5h0M201.2 63.6h0M200.6 64.6h0M198.2 66.5h0M202.3 69.9h0M201.2 63.6h0M200.2 63.3h0M195.2 67.9h0M200.5 67.9h0M196.1 65.4h0M201.1 62.5h0M201.9 66.5h0M200.8 67.8h0M194.9 68.2h0M199.9 62h0M196.7 63.2h0M198.1 63.4h0M199.9 74h0M197.8 80.9h0M197.5 78.8h0M197.1 74.1h0M201.1 70.6h0M194.9 71.1h0M199.4 73.2h0M196.6 76.3h0M198.9 71.6h0M199 77.4h0M195.7 84.7h0M195 77.2h0M200.3 81.9h0M196.4 71.2h0M200.9 74.4h0M196 76.7h0M195.8 77.2h0M196.6 79h0M196.9 85h0M195.2 71.9h0M201.2 73.6h0M199.1 71.4h0M198.8 84h0M201.2 85.4h0M196.3 78.8h0M197.4 82h0M195.9 80.2h0M199.2 70.4h0M195.4 70.7h0M197.6 80.4h0M201 77.9h0M197 79h0M196.9 83.7h0M200.1 75.3h0M198.1 84.2h0M199.6 71.4h0M196.7 77.1h0M198.8 76h0M197.9 75.6h0M200.2 84.3h0M200 75.6h0M195.8 82.2h0M194.9 73.3h0M197.8 72.2h0M196.3 85.8h0M200 72.5h0M199.7 75.8h0M195.9 74h0M195.7 70.9h0M195.9 82.9h0M202.1 74.5h0M200.4 76.5h0M197.2 82.1h0M200.1 72.1h0M199 73.4h0M200 73.8h0M198.2 84h0M198.5 72h0M198.1 84h0M202.1 73.9h0M196.7 85.1h0M199.5 75.5h0M198 86.3h0M198.4 89.1h0M198.3 91.9h0M197.2 94.4h0M198.6 96.6h0M198.3 99.9h0M199.5 102.5h0M199 105.1h0M197.9 107.6h0M197.4 110.2h0M197.2 112.4h0M199.4 115h0M198.9 117.4h0M197.5 120.1h0M197.7 122.8h0M198.6 125.5h0M199 128.2h0M199.2 130.6h0M197.5 136h0M197.6 138.1h0M197.7 140.7h0M198.5 146.2h0M197.6 149.1h0M199.4 151.8h0M198.1 154.4h0M198.2 156.3h0M197.2 102.7h0M198.5 138.2h0M197.6 147.8h0M200.1 153.2h0"/>
<path fill="none" stroke="#3ba0d8" stroke-width="3" stroke-linecap="round" d="M212.5 159.8h0M212.5 157.1h0M214.5 159.6h0M213.5 157.9h0M210.5 160.2h0M210.5 157.2h0M216.5 160.2h0M211.5 158.3h0M208.5 160.5h0M215.5 157.1h0M215.5 158.5h0M208.5 158h0M215.3 66.5h0M213.8 65.9h0M210.4 66.5h0M208.8 69.2h0M209.7 65.1h0M210.1 67.2h0M215.3 64.8h0M216.4 69.3h0M211 65.9h0M214.4 69.5h0M215.3 64.3h0M215.1 66.7h0M212.3 63.7h0M210.2 68.4h0M214.5 69.7h0M214 68.8h0M210.6 65.5h0M212.6 69.7h0M214.3 66.3h0M211.5 68.1h0M214 64.2h0M212.7 67.5h0M214.5 66.1h0M211.6 64.1h0M210.8 68.6h0M211.6 67.3h0M212.1 66.9h0M210.6 70h0M213.2 83.7h0M214.4 80.3h0M214.7 74.8h0M212.1 81.2h0M211.9 73.1h0M210.6 78.4h0M210.3 84.3h0M210.2 73h0M212.1 77.8h0M209.2 78.3h0M209.7 85.3h0M212.8 82.7h0M211.1 73.6h0M213 82h0M212.4 80.7h0M214 71.1h0M214.3 72.5h0M215.4 71.7h0M209.2 70.8h0M212.5 74.2h0M212.2 74.1h0M214.1 76.1h0M208.7 71.9h0M214 75.4h0M214.5 73.4h0M209.4 76.5h0M212.2 85.6h0M214.9 77.2h0M211.9 77.9h0M213.5 84.7h0M213 79.2h0M215.3 74h0M215.5 71.3h0M213.3 86.1h0M211.1 77.8h0M210.6 81.8h0M213.6 80.6h0M211.1 70.4h0M210 79.9h0M214.5 81.1h0M214.8 75h0M209.2 71.9h0M213.9 85.4h0M211.8 76.1h0M209.9 78.3h0M215.8 78.6h0M210.6 76.3h0M213.4 86h0M214.1 83.7h0M209.1 74.6h0M210.4 77.4h0M210.9 77.3h0M212 72.5h0M211.9 73.9h0M215.8 70.6h0M214.1 75h0M209.5 71h0M209 75h0M212.3 76.2h0M210.3 70.3h0M210.1 71.3h0M214.1 124h0M211.2 116.7h0M213.7 147.4h0M212.1 93.6h0M210.5 129.8h0M213 91.1h0M212.5 138.8h0M211.4 100h0M211.4 129h0M214 133.1h0M210.6 122.4h0M213.6 123.4h0M214.5 113.6h0M214.5 106.4h0M211.3 158.3h0M211 145.5h0M214.1 158.8h0M214.3 127h0M213.1 99.2h0M213.6 100.6h0M210.6 93.5h0M213.5 121h0M214.8 89.6h0M211.9 114.9h0M213.3 137h0M212.6 115.7h0M214.9 100.1h0M212.4 142.9h0M213.7 147.3h0M214.2 138.3h0M214 150.3h0M211.9 121h0M214.3 144.4h0M210.8 135h0M211.7 127.7h0M213.6 93.9h0M211.7 102.7h0M211.4 148h0M212.2 115.1h0M214.3 114h0M214.8 113.7h0M210.2 103.1h0M212.9 93.7h0M211.5 123h0M215 156.8h0M214.3 150.8h0M214.1 88h0M214.1 136.9h0M211.4 97.7h0M213.6 115.4h0M213.2 128.1h0M214.1 129.9h0M214.7 127.6h0M211.7 113.4h0M213.3 137.7h0M213.9 134.5h0M213.8 118.8h0M213.1 109.5h0M213.4 145.2h0M210.7 151.2h0M214.8 122.2h0M214 158.8h0M214.9 132.3h0M212.3 99.2h0M212.1 87.8h0M214.3 155.7h0M211.2 143h0M212 108.6h0M211.6 133.3h0M211 130.5h0M210.5 110.8h0M214.2 90.5h0M214.2 137.1h0M210.1 129h0M213.1 114.3h0M211.9 91.2h0M210.5 122.2h0M213 139.5h0M214.4 94.9h0M210.3 158h0M211.4 150.2h0M214.5 153.2h0M211.9 104.4h0M213.1 108h0M214.7 110.6h0M212.9 127.6h0M212.3 158.4h0M214.9 126.5h0M213.2 131.7h0M214.8 125.2h0"/>
<path fill="none" stroke="#c8661e" stroke-width="3" stroke-linecap="round" d="M226.7 160.1h0M226.7 157.4h0M227.7 158.5h0M224.7 157.9h0M229.7 158.3h0M222.7 157.9h0M225.7 158.9h0M228.7 159.5h0M223.7 159.6h0M230.7 160.2h0M230.2 159.3h0M224.9 158.5h0M228.7 160.1h0M228.2 159.9h0M227.1 67.4h0M223 67.3h0M229.5 65.7h0M229.6 66.1h0M224.6 65.1h0M227.9 65.3h0M228.8 66.7h0M228.9 66.5h0M230 67.4h0M222.9 67.4h0M223.5 67.6h0M227.5 75.6h0M229.8 71.2h0M228 71.1h0M225.2 76.4h0M223.9 70.5h0M228 70.4h0M228.7 69.2h0M225 71h0M228.7 75.6h0M225.5 69.6h0M224 76.7h0M227.7 75.5h0M227.9 68.8h0M226.3 76.6h0M224.6 68.3h0M228.5 75.8h0M224.1 73.3h0M225.1 71.8h0M225.5 75.3h0M227.7 70.8h0M229.6 72.8h0M227.1 77.3h0M225.1 76.5h0M228.8 69h0M230.4 69.5h0M229 72.8h0M224.3 76.8h0M229.5 74.3h0M226.8 74.5h0M226.4 70.8h0M229.5 77.2h0M227.7 69.4h0M229.7 76.6h0M229.2 68.2h0M224.6 71.7h0M226.1 75.4h0M228.4 69.9h0M227.8 77.8h0M226.5 80.7h0M227.7 83.3h0M225.7 85.5h0M226.9 88.4h0M226.3 93.5h0M227.7 96.3h0M226.5 98.6h0M226.6 101.4h0M226 106.2h0M226.3 109.4h0M226 112h0M226.8 114.4h0M225.6 117.1h0M226.4 119.9h0M226.2 121.9h0M227 124.6h0M226.6 127h0M227 129.8h0M226 132.3h0M227.4 135.2h0M226.3 138h0M227 140.3h0M225.9 143.4h0M226.7 145.7h0M226.3 148h0M225.5 150.8h0M227.3 153.6h0M226 156.2h0M227.5 79.9h0M228.4 104.6h0M226.8 114.9h0M225.6 125.2h0M225 140.2h0M226.6 144.6h0M227.3 150.2h0"/>
<path fill="none" stroke="#e070d0" stroke-width="3" stroke-linecap="round" d="M240.8 159.8h0M240.8 158.3h0M242.8 159.7h0M238.8 160.2h0M244.8 160.4h0M236.8 160.1h0M242.8 157.6h0M238.8 158.6h0M244.8 158.2h0M237.8 157.5h0M239.8 157.4h0M237.8 159.4h0M240.8 66h0M239.9 69.9h0M240.5 68h0M242.4 69.7h0M242.8 97.5h0M238.9 94.2h0M239.2 102.7h0M240.5 92.3h0M242.2 97.1h0M242.9 134.4h0M240.7 140.4h0M242.7 99.3h0M242.9 124.1h0M241.8 149h0M242.5 91.2h0M241.6 101.2h0M240.4 87.1h0M241.8 157.4h0M238.9 73.7h0M239.2 83.3h0M241.4 140.7h0M239.4 146.6h0M243 138.1h0M243.1 100.1h0M242.7 100.6h0M243 87.8h0M242.2 80.4h0M238.8 136.7h0M242.2 155.3h0M241.7 134.4h0M238.5 106.5h0M242.3 153.1h0M239.8 112h0M240.7 118.5h0M241.7 77h0M243 107.8h0M241.8 155.1h0M238.4 134.8h0M241.3 152.2h0M238.4 142.5h0M238.5 152.2h0M242 82.2h0M242.8 88.7h0M238.9 129.2h0M238.3 106.8h0M243.3 107.3h0M242.5 79.3h0M241.8 135.1h0M239 113.9h0M238.9 115.6h0M239.6 148h0M241.5 91.3h0M240.8 120.7h0M239.4 115.6h0M239.9 71.5h0M238.5 81h0M242.7 152h0M242.1 132.1h0M239.3 96.8h0M242.2 119.4h0M242.4 84.9h0M238.9 141.6h0M241.9 88.7h0M242.2 136.3h0M242.9 115.9h0M241.2 127.7h0M241.2 114h0M240.4 81.5h0M240.1 108.5h0M240.1 104.8h0M238.4 156.5h0M240.5 134.2h0M239.5 122.7h0M243 71.4h0M239.9 95.4h0M242.5 75.2h0M241.8 91.5h0M240.2 140.9h0M242.6 90.8h0M241.3 146.4h0M240.6 157.7h0M241.9 82.9h0M241.6 76.1h0M243 112.1h0M241.2 124.9h0M242.9 107.5h0M239.4 135h0M239.9 100.5h0M239.2 109.1h0M243 134.1h0M241.3 154.7h0M241.4 79.9h0M238.5 126.8h0M239.1 81.1h0M242.8 97.2h0M241.2 115.9h0M239.1 94.5h0M242.8 93.3h0M238.9 84.7h0M240.3 89h0M240.7 137.6h0M242.8 105.3h0M239.5 107.9h0M241.7 157h0M239 103.9h0M241.8 148.8h0M239.3 111h0M241.7 85.8h0M241.8 118.4h0M239.6 108.5h0M241 88.8h0M239.7 99.1h0M242.2 94.9h0M242.7 140.2h0M238.5 128.2h0M240.9 84.6h0M240.4 143.2h0M242.1 91.6h0M243.2 100.4h0M238.9 92.8h0M242.7 128.1h0M239.3 96.4h0M241.5 141.7h0M239.7 130.7h0M238.5 77.7h0M239.2 124.5h0M239.5 108.8h0M241.6 84.7h0M242.7 115.4h0M239.5 79.9h0M241.1 115.7h0M240.6 134.7h0M238.4 73.7h0"/>
<path fill="none" stroke="#a98ee0" stroke-width="3" stroke-linecap="round" d="M255.2 58.4h0M252.5 58.5h0M256.7 61.2h0M255.4 59.3h0M252.8 56.9h0M254.3 61.3h0M256.2 59.3h0M257.4 60.8h0M256.4 58h0M253.9 60.2h0M254 58.9h0M256.6 63.9h0M256.1 67.3h0M256.6 64.4h0M253.5 65.3h0M253.7 67.3h0M258.1 62.5h0M255.1 62.2h0M254.3 65.3h0M257.6 65.3h0M256.1 62.6h0M256.1 65.8h0M251.9 67.6h0M252.9 87h0M253 110.7h0M256.3 110.4h0M253.7 100h0M255.8 145.1h0M254.8 92.4h0M256.9 132.1h0M255.3 123h0M257.3 132.6h0M256.2 68.6h0M253 107.3h0M256.8 95.1h0M252.9 120.1h0M253.9 74.1h0M252.5 89h0M255.2 141h0M255.5 103.7h0M256.6 144.8h0M254 74h0M257.8 78.1h0M252.2 85.8h0M255.1 90h0M255.3 92.1h0M256.2 116h0M254.8 123.3h0M252.4 105.2h0M253.2 105.4h0M254.9 136.5h0M256.3 82.1h0M252.4 147.1h0M255.5 96.4h0M254 77h0M253.9 141h0M255.4 82.1h0M255.1 134.3h0M254.3 143.2h0M257.2 148.2h0M257.5 88.4h0M254.1 89.2h0M252.2 88.6h0M255.4 88.4h0M255.8 87h0M252.4 75.6h0M253 123.9h0M256.5 132.2h0M255 110.8h0M255.8 146.8h0M255.2 135.7h0M256.8 136.2h0M255.4 70h0M254.6 79.7h0M255.5 82.9h0M252.6 102.5h0M253.6 125.3h0M256.9 132.8h0M256.4 82h0M252.3 116.1h0M255.4 102.6h0M252.8 146.7h0M253.5 123.8h0M254.8 94h0M256.1 81h0M253.1 94h0M254.6 76.2h0M256.2 141.7h0M252.9 121.8h0M254.8 117.1h0M255.5 105.9h0M254.7 102h0M257.6 112.2h0M253.4 112.7h0M253.6 118.6h0M257 103.1h0M257.7 84.3h0M254.8 73.2h0M257.2 127.8h0M252.6 121.8h0M252.1 70.9h0M253.3 110.2h0M257.3 136.7h0M255.2 96.7h0M252.1 89.1h0M257.1 88h0M253.8 108.2h0M252.8 116.9h0M255 130.6h0M257.7 101.8h0M253 127.1h0M256 70.8h0M253.7 118.6h0M252.5 141.9h0M252.5 95.3h0M254.5 133.4h0M256.7 77h0M252.9 131.4h0M257 69.1h0M253.5 134.6h0M254 136.8h0M254.4 68.2h0M255.3 129.9h0M257.1 147.3h0M256.2 145.4h0M254 86.2h0M254.6 147.4h0M255 107.8h0M254.5 129.6h0M257 127.8h0M256.3 92.8h0M255.3 114h0M253.8 74.2h0M256.2 77.9h0M253.4 126.7h0M255.5 126h0M254.3 86.3h0M257 89.6h0M255 81.8h0M255.2 72.7h0M255.3 106.7h0M256.5 119.2h0M257.6 97.4h0M252.9 131.6h0M252.8 85.8h0M252 69.6h0M253.2 88.8h0M253.4 68.2h0M254.1 94h0M256.8 94h0M252.3 127.3h0M254.7 86.7h0M257.2 84.5h0M255.3 77.8h0M255.6 77.4h0M255.6 122.1h0M252.2 98.3h0M256.3 140.7h0M253.2 81.8h0M256.6 137.1h0M253.6 98.6h0M253.5 114.1h0M256.6 98.7h0M253.6 82.8h0M255.1 149.9h0M252.7 150.6h0M253.1 149.6h0M254 148.4h0M251.7 150.7h0M255.1 148.7h0M255.3 148.1h0M256.9 149.8h0M255.1 148.7h0M255.2 149.2h0M256.6 150.3h0M252.7 150.9h0M253.1 152.5h0M256.3 153.1h0M256.4 152.3h0M254.9 151.7h0M254 153.5h0M255.2 151.1h0M254.8 151.8h0M254.5 151.2h0M255.1 151.9h0M251.4 152h0M253.6 151.8h0"/>
<path fill="none" stroke="#2e8a5f" stroke-width="3" stroke-linecap="round" d="M269.2 53h0M265.3 58.5h0M268.2 55.9h0M272.4 57.8h0M272.4 58.1h0M271.7 59.5h0M272.3 57.3h0M265.8 58.7h0M270.2 60.2h0M271.8 57.6h0M269 56.6h0M266.5 61.9h0M268.3 60.6h0M271.5 60.5h0M266.5 58.3h0M266.5 58.5h0M272.2 61.1h0M268.8 56.1h0M271.7 55.8h0M269.9 60.1h0M271.9 59.2h0M266.7 56.2h0M268.8 58.6h0M270.7 58.3h0M271.6 58.8h0M273.3 61.6h0M268.7 55.5h0M271.8 56.8h0M272 56h0M266.2 78.9h0M271.4 70.7h0M273.2 65.5h0M265.4 62.2h0M272.2 76.3h0M266.7 66.2h0M265.3 62.9h0M265.2 68.7h0M265.8 71.8h0M267.7 73h0M266.3 77.8h0M267 64h0M271.3 64.4h0M266.8 73.4h0M270.1 64.5h0M265.5 78.3h0M267.4 80.5h0M271.2 78.5h0M269.8 79h0M270.1 62.1h0M266.2 76.6h0M265.5 66.2h0M271.7 64h0M272.7 72.4h0M269.6 73h0M268.6 78.3h0M269.7 74.1h0M270.8 68.1h0M267.4 62.4h0M268.8 73.4h0M267.2 74h0M266.8 71.7h0M268 76.5h0M272.5 66.8h0M266 79.8h0M271.8 74h0M268.6 74.9h0M268 75h0M269.7 76.9h0M266.9 64h0M269.7 62.6h0M272 79.6h0M267.3 70.9h0M267.9 71.3h0M269.1 65.8h0M265.5 76.5h0M270.2 75.3h0M268.7 71.5h0M265.7 77.9h0M269.4 64.4h0M272.7 65.1h0M271.3 78.4h0M271.8 63.7h0M272.1 68.5h0M265.7 75.4h0M266.3 64h0M268.7 68.3h0M270.4 62.9h0M266 79.2h0M272.2 78.5h0M270.7 71.3h0M270.4 71.4h0M267.3 75.5h0M266.8 70h0M270.4 65h0M273.2 63.3h0M267.4 67.1h0M272.3 63.6h0M270.6 76.8h0M270.3 73.8h0M270.6 71.9h0M272.1 64.4h0M270.7 72.8h0M269.5 71.4h0M264.9 62.4h0M271.8 74.4h0M270.3 67.4h0M267.2 73.5h0M270.9 77.9h0M268.4 78h0M272.2 68.9h0M269.4 75h0M268.2 88.9h0M269 87.2h0M270.2 83.3h0M271.7 84.1h0M269.1 89.7h0M266.1 81.9h0M267.7 87.9h0M271.1 89.4h0M271.8 88.7h0M268.6 86.8h0M271.4 86.5h0M266.1 89.1h0M270 88h0M271.8 81.7h0M272.2 84.3h0M266.1 82.8h0M266.8 86.1h0M271.8 88.4h0M271.1 87.5h0M270.1 88.3h0M267.9 82.6h0M267.8 88.7h0M266.4 89.9h0M272.1 83.9h0M271.4 84.2h0M268.7 85.8h0M268.9 83.5h0M269.1 82.3h0M266.3 88.2h0M271.4 89.4h0M266.6 81.4h0M270.6 105.1h0M268.5 115.2h0M271.8 120.2h0M269.3 101h0M266.3 110.4h0M271.6 129.2h0M268 107.4h0M270.1 120.9h0M267.8 113.9h0M270.4 116.5h0M266.6 127.8h0M267.2 96.5h0M268.1 100.6h0M267.5 142.7h0M270.1 100.6h0M270.9 123.5h0M269.7 129.2h0M266.6 128.1h0M268.3 111.1h0M270.7 127.1h0M268.3 140.1h0M267.3 119.7h0M269.1 97.5h0M271.3 145.5h0M266.2 144.8h0M271.3 97.5h0M268.7 125.7h0M269.3 114.6h0M271.3 105.9h0M267.8 123.3h0M271 123.5h0M269.4 102.1h0M269 108.9h0M267.3 120.3h0M270.9 100.8h0M266.2 103.5h0M269 94.8h0M271.7 96.5h0M268.6 112.7h0M271.3 119.3h0M267.8 123.6h0M271.1 100.8h0M269.4 111.9h0M270.5 101.6h0M266.2 99.4h0M270 91.3h0M270 125.5h0M271.8 120.3h0M266.3 118.4h0M267.4 138.4h0M269.5 113.6h0M267.1 102.7h0M270.3 130h0M270.1 145.1h0M271 113h0M267.6 134.3h0M271.7 142.7h0M270.1 109.6h0M268.8 138.7h0M270 112.9h0M266.2 121.3h0M266.6 90.8h0M271.3 138.8h0M270.6 103.1h0M269.6 129.3h0M269.1 122.1h0M268.5 121.3h0M270.2 130h0M269.3 143.9h0M266.6 110.5h0M271.2 121.3h0M270.9 100.6h0M267.2 117.8h0M270.4 109.5h0M271.3 116h0M267.4 112.7h0M268.2 118h0M266.1 128.4h0M269.3 145.8h0M266.4 145.6h0M271.2 101.9h0M267.7 120h0M267.9 119.6h0M267.4 142.5h0M269.2 124.7h0M269.3 127.6h0M269.7 107.9h0M267.1 142.7h0M270.9 100.8h0M267.7 93.6h0M269.4 117.1h0M267.7 133.2h0M268.9 125.9h0M267.1 120.8h0M267.9 138.6h0M268.3 139.3h0M271.8 145.2h0M270.6 101.7h0M266.1 99.4h0M266.6 97.2h0M270.5 117.3h0M271.1 118.6h0M271.4 99.9h0M267.1 122.8h0M267.2 108.6h0M270.7 125.6h0M266.6 123.2h0M269.8 139.1h0M268.5 103.8h0M266.9 131.8h0M266.1 107.4h0M270.7 149.9h0M268.9 149h0M269.1 150.2h0M267.4 148.8h0M271.7 148.6h0M269.5 150.2h0M269.2 149.9h0M267.5 149.5h0M265.3 150.7h0M267.4 150.5h0M272.2 150.1h0M272.3 150.1h0M271.1 150.9h0M269 152.8h0M267.1 152.4h0M269.1 152.9h0M265.2 152.5h0M265.4 151.6h0M265.1 151.7h0M271.8 153.2h0M268 151.7h0M266 152.5h0M265.5 151h0M272.4 153.2h0M270.7 152.8h0"/>
<path d="M48.3 36.9 V222.3 H279.7" fill="none" stroke="#1a1a1a" stroke-width="1.8"/>
<line x1="43.6" y1="222.3" x2="48.3" y2="222.3" stroke="#1a1a1a" stroke-width="1.8"/>
<text x="38.6" y="224.3" font-size="6.2" text-anchor="end" font-weight="bold" textLength="7.8" lengthAdjust="spacingAndGlyphs">10</text>
<text x="39.8" y="223" font-size="3.7" text-anchor="start" font-weight="bold">0</text>
<line x1="43.6" y1="160.5" x2="48.3" y2="160.5" stroke="#1a1a1a" stroke-width="1.8"/>
<text x="38.6" y="162.5" font-size="6.2" text-anchor="end" font-weight="bold" textLength="7.8" lengthAdjust="spacingAndGlyphs">10</text>
<text x="39.8" y="161.2" font-size="3.7" text-anchor="start" font-weight="bold">1</text>
<line x1="43.6" y1="98.7" x2="48.3" y2="98.7" stroke="#1a1a1a" stroke-width="1.8"/>
<text x="38.6" y="100.7" font-size="6.2" text-anchor="end" font-weight="bold" textLength="7.8" lengthAdjust="spacingAndGlyphs">10</text>
<text x="39.8" y="99.4" font-size="3.7" text-anchor="start" font-weight="bold">2</text>
<line x1="43.6" y1="36.9" x2="48.3" y2="36.9" stroke="#1a1a1a" stroke-width="1.8"/>
<text x="38.6" y="38.9" font-size="6.2" text-anchor="end" font-weight="bold" textLength="7.8" lengthAdjust="spacingAndGlyphs">10</text>
<text x="39.8" y="37.6" font-size="3.7" text-anchor="start" font-weight="bold">3</text>
<line x1="57.1" y1="222.3" x2="57.1" y2="226.1" stroke="#1a1a1a" stroke-width="1.8"/>
<line x1="71.2" y1="222.3" x2="71.2" y2="226.1" stroke="#1a1a1a" stroke-width="1.8"/>
<line x1="85.4" y1="222.3" x2="85.4" y2="226.1" stroke="#1a1a1a" stroke-width="1.8"/>
<line x1="99.5" y1="222.3" x2="99.5" y2="226.1" stroke="#1a1a1a" stroke-width="1.8"/>
<line x1="113.6" y1="222.3" x2="113.6" y2="226.1" stroke="#1a1a1a" stroke-width="1.8"/>
<line x1="127.8" y1="222.3" x2="127.8" y2="226.1" stroke="#1a1a1a" stroke-width="1.8"/>
<line x1="141.9" y1="222.3" x2="141.9" y2="226.1" stroke="#1a1a1a" stroke-width="1.8"/>
<line x1="156" y1="222.3" x2="156" y2="226.1" stroke="#1a1a1a" stroke-width="1.8"/>
<line x1="170.1" y1="222.3" x2="170.1" y2="226.1" stroke="#1a1a1a" stroke-width="1.8"/>
<line x1="184.3" y1="222.3" x2="184.3" y2="226.1" stroke="#1a1a1a" stroke-width="1.8"/>
<line x1="198.4" y1="222.3" x2="198.4" y2="226.1" stroke="#1a1a1a" stroke-width="1.8"/>
<line x1="212.5" y1="222.3" x2="212.5" y2="226.1" stroke="#1a1a1a" stroke-width="1.8"/>
<line x1="226.7" y1="222.3" x2="226.7" y2="226.1" stroke="#1a1a1a" stroke-width="1.8"/>
<line x1="240.8" y1="222.3" x2="240.8" y2="226.1" stroke="#1a1a1a" stroke-width="1.8"/>
<line x1="254.9" y1="222.3" x2="254.9" y2="226.1" stroke="#1a1a1a" stroke-width="1.8"/>
<line x1="269.1" y1="222.3" x2="269.1" y2="226.1" stroke="#1a1a1a" stroke-width="1.8"/>
<text x="0" y="0" font-size="8.6" text-anchor="end" font-weight="bold" stroke="#000" stroke-width="0.2" transform="translate(60.1 233.8) scale(1.33 1) rotate(-45)">2022.12.6-12.7</text>
<text x="0" y="0" font-size="8.6" text-anchor="end" font-weight="bold" stroke="#000" stroke-width="0.2" transform="translate(74.2 233.8) scale(1.33 1) rotate(-45)">2023.1.2</text>
<text x="0" y="0" font-size="8.6" text-anchor="end" font-weight="bold" stroke="#000" stroke-width="0.2" transform="translate(88.4 233.8) scale(1.33 1) rotate(-45)">2023.3.6-3.9</text>
<text x="0" y="0" font-size="8.6" text-anchor="end" font-weight="bold" stroke="#000" stroke-width="0.2" transform="translate(102.5 233.8) scale(1.33 1) rotate(-45)">2023.4.8-4.10</text>
<text x="0" y="0" font-size="8.6" text-anchor="end" font-weight="bold" stroke="#000" stroke-width="0.2" transform="translate(116.6 233.8) scale(1.33 1) rotate(-45)">2023.5.8-5.10</text>
<text x="0" y="0" font-size="8.6" text-anchor="end" font-weight="bold" stroke="#000" stroke-width="0.2" transform="translate(130.8 233.8) scale(1.33 1) rotate(-45)">2023.6.8-6.10</text>
<text x="0" y="0" font-size="8.6" text-anchor="end" font-weight="bold" stroke="#000" stroke-width="0.2" transform="translate(144.9 233.8) scale(1.33 1) rotate(-45)">2023.7.8-7.10</text>
<text x="0" y="0" font-size="8.6" text-anchor="end" font-weight="bold" stroke="#000" stroke-width="0.2" transform="translate(159 233.8) scale(1.33 1) rotate(-45)">2023.8.8-8.10</text>
<text x="0" y="0" font-size="8.6" text-anchor="end" font-weight="bold" stroke="#000" stroke-width="0.2" transform="translate(173.1 233.8) scale(1.33 1) rotate(-45)">2023.9.8-9.10</text>
<text x="0" y="0" font-size="8.6" text-anchor="end" font-weight="bold" stroke="#000" stroke-width="0.2" transform="translate(187.3 233.8) scale(1.33 1) rotate(-45)">2023.10.8-10.10</text>
<text x="0" y="0" font-size="8.6" text-anchor="end" font-weight="bold" stroke="#000" stroke-width="0.2" transform="translate(201.4 233.8) scale(1.33 1) rotate(-45)">2023.11.8-11.10</text>
<text x="0" y="0" font-size="8.6" text-anchor="end" font-weight="bold" stroke="#000" stroke-width="0.2" transform="translate(215.5 233.8) scale(1.33 1) rotate(-45)">2023.12.8-12.10</text>
<text x="0" y="0" font-size="8.6" text-anchor="end" font-weight="bold" stroke="#000" stroke-width="0.2" transform="translate(229.7 233.8) scale(1.33 1) rotate(-45)">2024.1.8-1.10</text>
<text x="0" y="0" font-size="8.6" text-anchor="end" font-weight="bold" stroke="#000" stroke-width="0.2" transform="translate(243.8 233.8) scale(1.33 1) rotate(-45)">2024.2.8-2.10</text>
<text x="0" y="0" font-size="8.6" text-anchor="end" font-weight="bold" stroke="#000" stroke-width="0.2" transform="translate(257.9 233.8) scale(1.33 1) rotate(-45)">2024.3.8-3.10</text>
<text x="0" y="0" font-size="8.6" text-anchor="end" font-weight="bold" stroke="#000" stroke-width="0.2" transform="translate(272.1 233.8) scale(1.33 1) rotate(-45)">2024.4.8-4.10</text>
<text x="57.2" y="48.1" font-size="9.5" text-anchor="middle" font-weight="normal" fill="#555" textLength="7.8" lengthAdjust="spacingAndGlyphs" >25</text>
<text x="70.1" y="48.1" font-size="9.5" text-anchor="middle" font-weight="normal" fill="#555" textLength="11.7" lengthAdjust="spacingAndGlyphs" >167</text>
<text x="84" y="48.1" font-size="9.5" text-anchor="middle" font-weight="normal" fill="#555" textLength="11.7" lengthAdjust="spacingAndGlyphs" >121</text>
<text x="99.4" y="48.1" font-size="9.5" text-anchor="middle" font-weight="normal" fill="#555" textLength="11.7" lengthAdjust="spacingAndGlyphs" >113</text>
<text x="111.4" y="48.1" font-size="9.5" text-anchor="middle" font-weight="normal" fill="#555" textLength="7.8" lengthAdjust="spacingAndGlyphs" >91</text>
<text x="126.7" y="48.1" font-size="9.5" text-anchor="middle" font-weight="normal" fill="#555" textLength="11.7" lengthAdjust="spacingAndGlyphs" >185</text>
<text x="141.3" y="48.1" font-size="9.5" text-anchor="middle" font-weight="normal" fill="#555" textLength="11.7" lengthAdjust="spacingAndGlyphs" >145</text>
<text x="155.6" y="48.1" font-size="9.5" text-anchor="middle" font-weight="normal" fill="#555" textLength="11.7" lengthAdjust="spacingAndGlyphs" >167</text>
<text x="170.6" y="48.1" font-size="9.5" text-anchor="middle" font-weight="normal" fill="#555" textLength="11.7" lengthAdjust="spacingAndGlyphs" >237</text>
<text x="185.9" y="48.1" font-size="9.5" text-anchor="middle" font-weight="normal" fill="#555" textLength="11.7" lengthAdjust="spacingAndGlyphs" >119</text>
<text x="201" y="48.1" font-size="9.5" text-anchor="middle" font-weight="normal" fill="#555" textLength="11.7" lengthAdjust="spacingAndGlyphs" >178</text>
<text x="213.6" y="48.1" font-size="9.5" text-anchor="middle" font-weight="normal" fill="#555" textLength="11.7" lengthAdjust="spacingAndGlyphs" >152</text>
<text x="226.6" y="48.1" font-size="9.5" text-anchor="middle" font-weight="normal" fill="#555" textLength="11.7" lengthAdjust="spacingAndGlyphs" >154</text>
<text x="239" y="48.1" font-size="9.5" text-anchor="middle" font-weight="normal" fill="#555" textLength="11.7" lengthAdjust="spacingAndGlyphs" >137</text>
<text x="253.7" y="48.1" font-size="9.5" text-anchor="middle" font-weight="normal" fill="#555" textLength="11.7" lengthAdjust="spacingAndGlyphs" >154</text>
<text x="267.3" y="48.1" font-size="9.5" text-anchor="middle" font-weight="normal" fill="#555" textLength="11.7" lengthAdjust="spacingAndGlyphs" >196</text>
<line x1="57.3" y1="37.6" x2="70.5" y2="37.6" stroke="#4a72d0" stroke-width="2"/>
<text x="63.9" y="38.4" font-size="13" text-anchor="middle" font-weight="normal" fill="#444" textLength="16.4" lengthAdjust="spacingAndGlyphs" >****</text>
<line x1="68.5" y1="29.1" x2="81.7" y2="29.1" stroke="#4a72d0" stroke-width="2"/>
<text x="75.1" y="26.3" font-size="12.5" text-anchor="middle" font-weight="normal" fill="#444" textLength="13.5" lengthAdjust="spacingAndGlyphs" >n.s.</text>
<line x1="84.3" y1="19.3" x2="97" y2="19.3" stroke="#4a72d0" stroke-width="2"/>
<text x="90.7" y="16.5" font-size="12.5" text-anchor="middle" font-weight="normal" fill="#444" textLength="13.5" lengthAdjust="spacingAndGlyphs" >n.s.</text>
<line x1="98" y1="37.6" x2="110.8" y2="37.6" stroke="#4a72d0" stroke-width="2"/>
<text x="104.4" y="34.8" font-size="12.5" text-anchor="middle" font-weight="normal" fill="#444" textLength="13.5" lengthAdjust="spacingAndGlyphs" >n.s.</text>
<line x1="112.8" y1="28.1" x2="125.8" y2="28.1" stroke="#4a72d0" stroke-width="2"/>
<text x="119.3" y="28.9" font-size="13" text-anchor="middle" font-weight="normal" fill="#444" textLength="16.4" lengthAdjust="spacingAndGlyphs" >****</text>
<line x1="126.4" y1="18.7" x2="139.7" y2="18.7" stroke="#4a72d0" stroke-width="2"/>
<text x="133.1" y="15.9" font-size="12.5" text-anchor="middle" font-weight="normal" fill="#444" textLength="13.5" lengthAdjust="spacingAndGlyphs" >n.s.</text>
<line x1="143.3" y1="37.2" x2="156.3" y2="37.2" stroke="#4a72d0" stroke-width="2"/>
<text x="149.8" y="34.4" font-size="12.5" text-anchor="middle" font-weight="normal" fill="#444" textLength="13.5" lengthAdjust="spacingAndGlyphs" >n.s.</text>
<line x1="157.1" y1="27.3" x2="170.9" y2="27.3" stroke="#4a72d0" stroke-width="2"/>
<text x="164" y="28.1" font-size="13" text-anchor="middle" font-weight="normal" fill="#444" textLength="16.4" lengthAdjust="spacingAndGlyphs" >****</text>
<line x1="172.5" y1="18.5" x2="185.6" y2="18.5" stroke="#4a72d0" stroke-width="2"/>
<text x="179.1" y="19.3" font-size="13" text-anchor="middle" font-weight="normal" fill="#444" textLength="16.4" lengthAdjust="spacingAndGlyphs" >****</text>
<line x1="188.7" y1="37.5" x2="201.5" y2="37.5" stroke="#4a72d0" stroke-width="2"/>
<text x="195.1" y="38.3" font-size="13" text-anchor="middle" font-weight="normal" fill="#444" textLength="12.3" lengthAdjust="spacingAndGlyphs" >***</text>
<line x1="200.5" y1="28.5" x2="213.6" y2="28.5" stroke="#4a72d0" stroke-width="2"/>
<text x="207.1" y="25.7" font-size="12.5" text-anchor="middle" font-weight="normal" fill="#444" textLength="13.5" lengthAdjust="spacingAndGlyphs" >n.s.</text>
<line x1="213.6" y1="18.5" x2="226.4" y2="18.5" stroke="#4a72d0" stroke-width="2"/>
<text x="220" y="15.7" font-size="12.5" text-anchor="middle" font-weight="normal" fill="#444" textLength="13.5" lengthAdjust="spacingAndGlyphs" >n.s.</text>
<line x1="229.5" y1="36.3" x2="242.5" y2="36.3" stroke="#4a72d0" stroke-width="2"/>
<text x="236" y="33.5" font-size="12.5" text-anchor="middle" font-weight="normal" fill="#444" textLength="13.5" lengthAdjust="spacingAndGlyphs" >n.s.</text>
<line x1="241.4" y1="24.9" x2="254.4" y2="24.9" stroke="#4a72d0" stroke-width="2"/>
<text x="247.9" y="22.1" font-size="12.5" text-anchor="middle" font-weight="normal" fill="#444" textLength="13.5" lengthAdjust="spacingAndGlyphs" >n.s.</text>
<line x1="256.8" y1="17.8" x2="269.4" y2="17.8" stroke="#4a72d0" stroke-width="2"/>
<text x="263.1" y="15" font-size="12.5" text-anchor="middle" font-weight="normal" fill="#444" textLength="13.5" lengthAdjust="spacingAndGlyphs" >n.s.</text>
<text x="0" y="0" font-size="12" text-anchor="middle" font-weight="bold" textLength="178.5" lengthAdjust="spacingAndGlyphs" transform="translate(22.7 129) rotate(-90)">Serum BA.5 Neutralizing AntibodyTiter (AU)</text>
<text x="11.5" y="14.8" font-size="18.5" text-anchor="start" font-weight="normal" fill="#222" >a</text>
<rect x="364.2" y="135.8" width="11.2" height="89.6" fill="#f8eee0"/>
<rect x="382.9" y="99.9" width="11.2" height="125.5" fill="#f8eee0"/>
<rect x="401.7" y="113.1" width="11.2" height="112.3" fill="#f8eee0"/>
<rect x="420.4" y="130.6" width="11.2" height="94.8" fill="#f8eee0"/>
<rect x="439.2" y="126.3" width="11.2" height="99.1" fill="#f8eee0"/>
<rect x="457.9" y="137.6" width="11.2" height="87.8" fill="#f8eee0"/>
<rect x="476.7" y="140.7" width="11.2" height="84.7" fill="#f8eee0"/>
<rect x="495.4" y="124.2" width="11.2" height="101.2" fill="#f8eee0"/>
<rect x="514.2" y="115.2" width="11.2" height="110.2" fill="#f8eee0"/>
<rect x="532.9" y="113.4" width="11.2" height="112" fill="#f8eee0"/>
<rect x="551.7" y="101.1" width="11.2" height="124.3" fill="#f8eee0"/>
<rect x="570.4" y="104.4" width="11.2" height="121" fill="#f8eee0"/>
<line x1="357" y1="180.9" x2="590" y2="180.9" stroke="#777" stroke-width="1" stroke-dasharray="1.2 2.2"/>
<rect x="364.2" y="135.8" width="11.2" height="89.6" fill="none" stroke="#1a1a1a" stroke-width="1.6"/>
<rect x="382.9" y="99.9" width="11.2" height="125.5" fill="none" stroke="#1a1a1a" stroke-width="1.6"/>
<rect x="401.7" y="113.1" width="11.2" height="112.3" fill="none" stroke="#1a1a1a" stroke-width="1.6"/>
<rect x="420.4" y="130.6" width="11.2" height="94.8" fill="none" stroke="#1a1a1a" stroke-width="1.6"/>
<rect x="439.2" y="126.3" width="11.2" height="99.1" fill="none" stroke="#1a1a1a" stroke-width="1.6"/>
<rect x="457.9" y="137.6" width="11.2" height="87.8" fill="none" stroke="#1a1a1a" stroke-width="1.6"/>
<rect x="476.7" y="140.7" width="11.2" height="84.7" fill="none" stroke="#1a1a1a" stroke-width="1.6"/>
<rect x="495.4" y="124.2" width="11.2" height="101.2" fill="none" stroke="#1a1a1a" stroke-width="1.6"/>
<rect x="514.2" y="115.2" width="11.2" height="110.2" fill="none" stroke="#1a1a1a" stroke-width="1.6"/>
<rect x="532.9" y="113.4" width="11.2" height="112" fill="none" stroke="#1a1a1a" stroke-width="1.6"/>
<rect x="551.7" y="101.1" width="11.2" height="124.3" fill="none" stroke="#1a1a1a" stroke-width="1.6"/>
<rect x="570.4" y="104.4" width="11.2" height="121" fill="none" stroke="#1a1a1a" stroke-width="1.6"/>
<path fill="none" stroke="#8e62c9" stroke-width="2.5" stroke-linecap="round" d="M369.8 113.4h0M369.8 105.8h0M369.8 181.5h0M372.2 181h0M368.6 180.2h0M369.8 111.7h0M366.2 180.4h0M371 180.1h0M374.6 181.1h0M369.8 101.3h0M363.8 180.5h0M373.4 180h0M367.3 180.5h0M364.9 180.2h0M370.6 114.2h0M367.3 181.3h0M369.8 109h0M370.8 181.5h0M366.5 180.6h0M371 109.9h0M373.5 180.6h0M369.7 87.8h0M370.7 119.4h0M368.3 119.4h0M369.7 118.3h0M371.7 127.5h0M371.4 125.3h0M368.8 129.5h0M369.3 125.8h0M371.2 129.9h0M371.4 119.1h0M368.9 126h0M369.8 125.2h0M367.6 121.2h0M367.6 128.2h0M374.3 128.8h0M369 121.5h0M370.2 118h0M368.1 119.7h0M371.8 119.3h0M370.2 128.1h0M370.8 118.8h0M365.9 129h0M371 125.7h0M370 120.6h0M368.7 125.5h0M370.2 128.6h0M369.2 123.8h0M367.2 124.1h0M368.7 128.4h0M369.7 124.9h0M370.8 126.2h0M368.3 126.1h0M370.7 122.1h0M372 126.8h0M371.8 132.4h0M367.5 143.2h0M369 142.1h0M373.1 140.9h0M365.5 132.6h0M368.2 135.1h0M369.5 139.8h0M372.4 134.9h0M369.6 143.2h0M366.4 139.8h0M369.5 132.2h0M369.5 141.2h0M368.3 133.6h0M373.1 132.8h0M370.6 132.4h0M371.1 131.5h0M368.7 135h0M367.5 137.6h0M369.2 133.2h0M368.7 140.9h0M369.3 141.5h0M368.6 130.6h0M369.3 142.6h0M370.5 139.8h0M367.2 141.5h0M368.3 136.2h0M371.5 134.7h0M370.9 142.7h0M370.2 141.7h0M367.6 139.1h0M372.4 138.6h0M369.4 141.3h0M368.9 144.9h0M371.4 131.4h0M371.5 133.8h0M369 143.6h0M367.2 139.4h0M367.6 140h0M373.7 141.9h0M367 135.1h0M372.4 136.3h0M368.3 144.3h0M369.3 136.3h0M370 131.7h0M370.1 130.5h0M371.3 131.4h0M367.9 130.7h0M368 144.4h0M368.5 140.6h0M368.4 137.9h0M372.1 136h0M369.5 155.8h0M367.6 154h0M368.6 150.1h0M372.8 146.3h0M371.6 145.5h0M370.3 147.2h0M371.5 155h0M373 148.7h0M368.3 151.4h0M369.9 146.1h0M369.3 151.5h0M369.7 157.1h0M374.2 151.1h0M369.1 159h0M371.9 156.5h0M368.7 154.1h0M370.3 151.7h0M367.9 150.6h0M369.2 153.9h0M370.6 158.5h0M366.6 152.1h0M372 152.6h0M370.8 156.6h0M366.7 146.7h0M368.7 158.6h0M369.8 156h0M371.8 145.6h0M370.4 147h0M368.5 158.6h0M371.4 157.4h0M366.9 145.7h0M368.6 148.5h0M372.9 149.2h0M368.3 159.3h0M370.8 154.2h0M371.9 152.7h0M369.1 145.7h0M373.1 153.5h0M370.2 149.9h0M369.2 153.9h0M368 146.2h0M370.2 153.2h0M370.8 154h0M370.1 167h0M369.7 174.1h0M370.1 159.7h0M369.9 164.9h0M369.1 174.6h0M368.4 168.3h0M370 169.9h0M368 173.7h0M369.2 168.7h0M372.6 159.7h0M369.9 160.7h0M371.3 173.4h0M370.1 174.6h0M369.5 166h0M369.9 168.4h0M369.9 169.5h0M369.8 174.4h0M369.2 173.4h0M371.3 170.3h0M368.2 171.6h0M371.5 169h0M368.8 167.1h0M369.3 170.3h0M370.4 168.9h0M370.1 169.8h0M369.5 165.4h0M369.5 159.7h0M369.6 167.8h0M370.2 169.9h0M369.7 164.2h0M368.7 161.7h0"/>
<path fill="none" stroke="#8c3b3b" stroke-width="2.5" stroke-linecap="round" d="M388.6 176.2h0M388.6 58.7h0M388.6 69.6h0M390.9 59.1h0M388.6 152h0M388.6 164.6h0M389.8 153.3h0M390.9 69.9h0M388.6 150.2h0M386.2 57.8h0M388.6 168.4h0M388.6 56.8h0M388.6 158h0M389.8 68.2h0M388.6 63.7h0M388.6 66h0M386.2 70.5h0M389.8 174.8h0M388.6 159.7h0M387.9 163.8h0M388.6 170.6h0M389.8 163.6h0M388.5 47.7h0M389.7 85.6h0M388.9 76.1h0M387.6 75.8h0M386.1 83.7h0M390.3 75.8h0M388.1 75.8h0M387.9 80.4h0M390.9 85.5h0M390.3 86h0M392.1 77.6h0M386.3 76.6h0M387.2 80h0M393.4 82.3h0M387.1 85.2h0M384.7 83.9h0M388.4 82.4h0M392.1 82.2h0M384.9 82h0M385 78h0M387.9 84.6h0M387.9 75.7h0M389.6 80.9h0M391.7 85.2h0M389.5 75.3h0M385 84.5h0M387.6 87.2h0M389.1 82h0M388.3 84.6h0M386.7 79.6h0M388.6 79.4h0M390.7 87.9h0M387.8 76.6h0M391.2 77.9h0M385.2 80.1h0M387 84.9h0M389.6 80.7h0M385.1 78.4h0M392.7 79.3h0M394.4 86.2h0M390.6 80.1h0M392.7 87.9h0M387 81.7h0M387.9 86.1h0M384.9 84h0M389.8 82.1h0M390.1 77h0M390.7 87.4h0M390.6 87h0M390.2 92.9h0M387.2 95h0M392.7 94.3h0M388.7 96.9h0M389.2 97.7h0M388.7 97.2h0M393.7 94h0M386.3 92.6h0M387.7 90.1h0M389.1 97.3h0M389.3 88.5h0M383.4 89.9h0M388 94h0M392.8 93.9h0M387.8 91.8h0M387.7 97.8h0M389.7 96.6h0M395.1 88h0M391.5 96.1h0M390.1 94.2h0M395.1 96.4h0M384.9 94h0M386.3 96.5h0M387.1 88.5h0M387.6 97.4h0M390.1 90.3h0M388.6 90.8h0M388.1 93h0M384.3 94.9h0M386.2 95.7h0M386.6 89.1h0M390.3 92.5h0M386.9 89.8h0M386.2 96.4h0M386.8 95.7h0M388.3 97.2h0M384.7 88.5h0M388.7 94.5h0M391.5 90.8h0M387.9 91.1h0M388.8 94.2h0M390.9 100.3h0M387 136.2h0M384.5 134.2h0M383.5 104.3h0M385.5 114.7h0M394.9 102.9h0M391.1 121.7h0M386.1 113.2h0M390.8 103.9h0M389.7 133.5h0M388.1 115.9h0M392.1 103.4h0M385.1 121.1h0M386.4 116.3h0M388 106.2h0M390 129.9h0M390 126.6h0M394.1 122.8h0M391.3 137.1h0M390.4 114.9h0M388.3 114.7h0M393.7 108.9h0M391.5 106.2h0M387.9 122.8h0M388.8 129.7h0M384.6 105.9h0M386.7 101.1h0M389 101.9h0M392.8 104.1h0M388.4 113.4h0M387.8 139.3h0M392.4 122.3h0M387 136.2h0M388.4 100.1h0M391.5 128.9h0M390.3 101.6h0M389.5 108.9h0M390.2 103.5h0M386.2 139.8h0M390.2 133.2h0M390.9 126.7h0M385.6 130.5h0M390.7 104.2h0M385.8 101.4h0M392.8 118.5h0M387.7 120.6h0M390.2 102.6h0M387.6 138.4h0M386.6 122.2h0M387.3 104h0M390.7 107.6h0M392.8 122.1h0M387.2 117.6h0M391.2 125.2h0M384.7 109h0M390.6 136.4h0M387.7 99.5h0M393.1 109.2h0M388.1 106.2h0M388.3 131.8h0M388.7 125.6h0M386.9 128.5h0M389.4 126.2h0M389.8 117h0M388.3 101h0M389.2 114.8h0M389.1 112.4h0M389.2 116.6h0M395.4 115h0M387.8 119.2h0M384.1 116.4h0M391.8 135.3h0M392.1 116.5h0M389.1 98.5h0M390.5 98.2h0M390.8 102.3h0M387.6 100.8h0M385.6 109.2h0M387.7 129.6h0M387.7 103.4h0M388.7 111.7h0M387.6 115.2h0M386.5 134.5h0M390.4 120h0M394.6 116h0M386.2 119.4h0M385.2 101.7h0M386.5 114.6h0M386.7 125.2h0M390.8 127.7h0M384 103.1h0M390.1 98.6h0M385.9 110.5h0M386 124.6h0M388.1 139h0M381.9 126.3h0M388.1 116.7h0M389.9 137h0M385.4 118.6h0M386.7 129.2h0M386.8 139.9h0M390.1 133h0M391 117.7h0M392 100.3h0M384.4 102.5h0M389 130.5h0M386 117.6h0M390.1 117.4h0M389 116h0M388.1 135h0M390.3 119.2h0M384.3 134.1h0M388.2 107.6h0M389.1 102.5h0M388.8 128.1h0M387 116.4h0M383.9 127.2h0M384.8 103.1h0M390.4 116h0M388.6 136.9h0M387.4 129.8h0M386.6 112.5h0M387.7 139.1h0M388.2 119.7h0M390.4 137.5h0M388.1 106.7h0M390.4 137h0M386.7 111.5h0M391.2 116.4h0M389.3 132h0M391.1 120.7h0M392.9 112.6h0M386.4 123.4h0M388.7 119.7h0M386.1 139.2h0M386.9 129.4h0M390.3 128.3h0M387.3 134.4h0M390.9 127.7h0M389.2 106.4h0M387.9 120.5h0M388.3 111.3h0M389.3 113.3h0M388 99h0M390.8 137.8h0M389.9 132.8h0M388.6 126.4h0M387.5 125.6h0M387.6 129.8h0M386.6 111h0M389.9 115.3h0M391.2 101.7h0M385.8 105.7h0M384.8 130.3h0M386.9 104.7h0M387.9 106.8h0M391.4 121.3h0M387 111.6h0M386.2 118.7h0M389.3 110.1h0M386.4 115h0M392.9 102.3h0M384.4 116h0M386.8 131.7h0M386.4 137.3h0M384.3 129.3h0M386 120.5h0M386.7 105.1h0M388.2 149.2h0M387.3 144.6h0M388.9 144.1h0M386.4 140.3h0M385.6 148.4h0M389.3 147.2h0M387.8 143.3h0M390.1 142.8h0M388.7 148.7h0M387.8 145h0M385.3 144.2h0M389.9 144.7h0M387.1 147h0M388.8 144h0M391.8 140.8h0M387.7 149.5h0M389.6 143.8h0M389 149.1h0M389.4 144.1h0M389 143.9h0M390.6 146h0M389.4 143.5h0M388.2 144.1h0M386.3 146.1h0M394.3 143.2h0M388.5 144.1h0M391 143.8h0M389.7 143.4h0M389.2 149.4h0M385.3 144.9h0M387.5 149.1h0M387 145.3h0"/>
<path fill="none" stroke="#8a8a8a" stroke-width="2.5" stroke-linecap="round" d="M407.3 87.1h0M407.3 75.6h0M407.3 84.6h0M409.7 85.2h0M407.3 181.1h0M409.7 181.2h0M407.3 67.7h0M404.9 181.5h0M403.7 180.5h0M407.3 82.5h0M410.9 180.3h0M407.3 58.8h0M408.5 66.5h0M407.3 62.3h0M409.3 181.9h0M409.7 83.2h0M408.7 103.7h0M405.8 102.6h0M406.9 97.5h0M407.9 98.5h0M406.7 96h0M407.5 100.5h0M409.1 100.3h0M407.2 103.8h0M406.5 102.3h0M407.8 98.7h0M408.5 110.3h0M410.2 125.6h0M408.3 141.3h0M407.6 148.9h0M406.1 127.2h0M406.4 115.2h0M407.5 131.5h0M408.3 130.4h0M405.6 137.8h0M405.4 109.9h0M407.9 141.8h0M408.6 145.2h0M407.3 112h0M406.8 128.5h0M407.6 111.9h0M408.5 131.1h0M405.1 168.3h0M408.7 104.3h0M408.8 110.6h0M404.9 130.4h0M408.2 144.7h0M407.4 104.2h0M406.7 152.6h0M408.9 145.3h0M407.2 142.6h0M409 147.8h0M408.4 136.6h0M406.9 124.1h0M407.5 132.5h0M407 110.7h0M407.7 120.4h0M406.3 131.2h0M409.3 107.5h0M406.5 133.4h0M405.3 154.5h0M408.1 150.7h0M407.5 129.7h0M406.4 150.6h0M408.8 135.8h0M408.6 121.4h0M408.9 151.4h0M407.3 107.8h0M408.9 118.3h0M407.5 123.7h0M409.5 145.5h0M406.8 166.6h0M410.4 127.2h0M408.8 163.9h0M407.6 132.4h0M405.6 127.7h0M410 116.8h0M408.5 158.1h0M405.4 133.1h0M407 126.7h0M409.3 119.7h0M408.2 155.4h0M407.5 157.2h0M408.4 104.7h0M407 133.5h0M407.9 109.6h0M408.6 154.8h0M408.8 167.8h0M406.2 155.3h0M406.5 109.9h0M407.1 122h0M408.5 152.9h0M409.8 154.6h0M406.9 134.6h0M409.5 124.2h0M407.6 149.3h0M407.7 146.8h0M407.9 122.4h0M408.4 130h0M408.5 122.3h0M408 143.3h0M408 167.8h0M406.8 145.2h0M408 116.5h0M407.4 118.2h0M406.2 143.4h0M405.7 117.9h0M409 129.5h0M407.8 130.6h0M406.2 130.3h0M406.4 146.3h0M408.5 143.7h0M405.1 130.7h0M407.4 145h0M407.9 164.3h0M407.9 125.7h0M406 132.8h0M407.9 123.4h0M407.5 138.7h0M405.4 168.8h0M406.6 149.9h0M407.8 120h0M406.8 141.3h0M409.8 139.1h0M407.2 121.3h0M406.7 149.4h0M407.2 109.8h0M407.1 168.2h0M406.1 129.4h0M407.4 124h0M408.7 129h0M409.7 114.3h0M406.4 125.7h0M408.6 128.9h0M408.8 156.2h0M407.1 163.9h0M406.2 137h0M407.3 156h0M408 138.9h0M408.2 122.2h0M406.5 157.4h0M406.7 108.3h0M405.2 106.8h0M406.9 109.7h0M407 175.9h0M406.5 175.2h0M406.8 178.3h0M408.3 174h0M406.5 174.1h0M407.1 170.5h0M406.8 172.4h0M407.1 174h0M406.5 170.7h0M408.4 178.4h0M406.2 175.3h0M406.2 176.6h0M407 174.6h0"/>
<path fill="none" stroke="#a8b820" stroke-width="2.5" stroke-linecap="round" d="M426.1 181.4h0M426.1 98.6h0M426.1 149.8h0M428.4 150.3h0M423.7 149h0M427.2 180.3h0M429.7 149.1h0M421.2 149.4h0M427.2 97.5h0M428.4 181.4h0M426.1 96.3h0M424.9 180.3h0M432.1 149.9h0M427.2 97.8h0M423.7 181.2h0M425.7 77.2h0M426.2 79.7h0M426 90.7h0M424.8 108.3h0M424.3 116.9h0M426.8 110.1h0M425.5 113.1h0M425.4 108.9h0M425.6 118.2h0M425 118.8h0M425.2 115.8h0M427.1 106.2h0M429.1 122h0M428.9 122.4h0M428.8 110.9h0M425 114.1h0M427.3 113.7h0M424.9 119.4h0M424.6 119.1h0M426.8 106.3h0M426.1 120.8h0M425.2 122.7h0M424.4 117.6h0M425.4 113.6h0M425.8 113.8h0M425.5 109.6h0M424.5 117.5h0M425.1 121.4h0M426.1 109.2h0M424.5 110.1h0M428.1 118.5h0M425.8 114.7h0M426.2 112.5h0M428.4 118.2h0M427.8 115h0M424.9 122.4h0M426.5 106.5h0M425.8 121.8h0M428.6 131.6h0M422.9 125h0M427.6 129h0M426.1 123.9h0M424.4 126.8h0M427.5 127.1h0M426.3 125.4h0M429 127.8h0M426.2 128.6h0M426 124.6h0M424.6 124.3h0M423.4 124.5h0M426.6 131h0M423.4 125.2h0M425.4 129.7h0M426.5 129.5h0M424.3 131.4h0M429.3 131.6h0M425.2 130.3h0M425.8 131.2h0M426.2 129.5h0M427.2 126.8h0M423.1 124h0M424.2 126.2h0M426.5 126.3h0M425.8 128.5h0M430.6 123.1h0M425.1 129.8h0M426.6 126.8h0M426.1 127.5h0M427.8 132h0M426.7 131.6h0M428.2 142h0M429.9 144h0M426.3 139.5h0M421 143.4h0M425.5 143.9h0M428.2 140.9h0M428.6 133.8h0M424.8 142.3h0M428.1 132.6h0M422.1 143.9h0M428.5 143.5h0M428 141.1h0M426.7 141.2h0M426.6 146.9h0M426 141.7h0M428.5 139.3h0M426.6 139.7h0M421.5 141.6h0M422.7 143.5h0M428.7 133.1h0M425.8 146.2h0M426.7 133.2h0M429.7 142.6h0M425 140.2h0M426.8 136.6h0M425.6 140h0M425.9 144.8h0M424.6 142.9h0M423.8 135h0M425.2 134.6h0M427.7 144.4h0M427.5 136.9h0M425.4 141.1h0M421.5 146.4h0M421.8 144.5h0M429.1 145.5h0M423 134.7h0M423.7 144.8h0M426.1 132.8h0M426.2 133.9h0M423.4 135.1h0M424.2 146h0M426.6 136.2h0M430.7 139.3h0M427.2 132.9h0M432.5 134.1h0M428.8 138.8h0M424.9 153.6h0M424.2 147.1h0M425.9 152.8h0M425.3 155h0M425.6 148.3h0M425.2 147.5h0M426 161.7h0M424.2 159.6h0M429.3 153.2h0M424.1 159.3h0M429.9 157.2h0M429.9 154.2h0M424.9 152.5h0M427.6 157.2h0M423.5 149.4h0M428.9 154.3h0M426.9 160.3h0M426.5 148.3h0M429.5 148.4h0M424.9 161.7h0M425.8 152.1h0M426.1 160.4h0M426.2 152.9h0M429.2 160.3h0M425.6 161.4h0M424.6 160.5h0M424.2 154.2h0M423.7 151.8h0M428.2 151.6h0M426.5 159h0M425.8 152.2h0M427.1 149.5h0M424.4 157.2h0M426.4 151.1h0M425.4 150.9h0M424.4 150.5h0M424.5 149.6h0M423.9 161h0M425.9 161h0M426.7 152.8h0M426.3 164.1h0M426 173.8h0M426.1 168.5h0M426.6 170.1h0M424.9 172.8h0M426.4 167.5h0M427 169.2h0M427.7 167.6h0M424.4 167.7h0M427.8 170h0M424.3 165.2h0M426.3 166.5h0M427.2 162.1h0M425.1 166.3h0M427.4 175.8h0M429.3 162.5h0M426.5 176.8h0M426.6 167h0M425.3 165.3h0M426.3 175.8h0M427 175.3h0M426.9 170.4h0M426.3 164.6h0M424.1 170h0M425 173h0M425.5 164.9h0M428.6 173.3h0M425.5 175.3h0"/>
<path fill="none" stroke="#3ec8d2" stroke-width="2.5" stroke-linecap="round" d="M444.8 139.7h0M444.8 109.9h0M444.8 169.3h0M447.2 139.8h0M444.8 175.9h0M447.2 110.3h0M442.4 139.7h0M444.8 172.7h0M446 173.9h0M442.4 110.2h0M444.8 178.2h0M444.8 96h0M445.7 177.6h0M446.8 109.5h0M443.6 140.7h0M449.6 139.6h0M443.6 175h0M443.4 174.4h0M441.2 140.7h0M444 178.3h0M445.7 96.6h0M444.5 60.5h0M444.5 82.1h0M444.9 89.5h0M444.9 103.2h0M442.9 108.8h0M445.7 106.4h0M444.2 107.2h0M446.2 104.8h0M444.1 103.3h0M443.3 102.2h0M446.4 105.8h0M445 109.7h0M443.4 102.9h0M446.2 105.3h0M443.8 106.6h0M446 102h0M443.5 107.5h0M444.9 106.7h0M446.1 114.4h0M443.4 123.4h0M442.6 124.3h0M440.4 116.9h0M442.2 117.5h0M443.3 114.9h0M443.8 113.3h0M447.5 117.5h0M444.9 122.6h0M445.2 121.3h0M446.3 123.6h0M440.3 112.5h0M442.8 124.3h0M445.6 124h0M446 116.9h0M445.9 118.6h0M447.1 110.3h0M447.2 122.7h0M446.8 118.6h0M446.1 123.5h0M444.5 120.3h0M446.4 124.9h0M443.5 111.7h0M446.7 116.9h0M444.8 119.5h0M442.4 118.6h0M443.5 114.9h0M442 115.9h0M442.9 117.8h0M445.5 111.9h0M444.7 113.6h0M443.7 123.7h0M447.4 113.2h0M445.8 116h0M449.2 120h0M442.2 116.1h0M446.1 117.7h0M443.8 118.7h0M444.2 112.6h0M443.8 112.8h0M447.6 129.8h0M444.1 130.2h0M444.6 126.7h0M439.2 136h0M443.7 132.9h0M444.5 130.2h0M442.3 128.4h0M451.4 136.3h0M444.6 135.5h0M443 131.3h0M441 135.7h0M449.6 134.6h0M446.5 134.5h0M447.3 130.2h0M447.2 136.6h0M441.7 134h0M446.9 133.4h0M443.3 138.4h0M441.7 134.3h0M444.8 132.4h0M444.5 131.7h0M440.6 137.4h0M449.9 139.3h0M445.7 125.3h0M443.5 138.4h0M445.1 127.4h0M441.3 127.8h0M442.9 135h0M450.4 138.2h0M443.3 139.5h0M438.9 139.6h0M448.8 126.6h0M441.3 129.9h0M448.3 130.8h0M443.3 139.9h0M443.9 133.4h0M441.4 125.2h0M449.4 125.8h0M446.4 137.5h0M443.8 137.8h0M447.3 128.4h0M443.8 139.7h0M447.9 133.8h0M441.8 139.4h0M440.8 129.9h0M448.9 126.7h0M442.7 126.7h0M444.8 129.5h0M443.9 126h0M446.3 138.4h0M444.5 131.8h0M444.7 154.7h0M444.2 147h0M447.5 147.6h0M445.7 143.9h0M440.1 153.3h0M448.6 150.4h0M444.5 153.1h0M445.6 157.7h0M443.7 142.4h0M442.6 150.6h0M450 145h0M450.8 147.2h0M447.9 141.9h0M441 148.8h0M445.3 144.8h0M448.4 146.7h0M442.1 151.5h0M445.6 142.1h0M442.8 140.1h0M444.4 153.9h0M440.5 157.6h0M446.4 144.1h0M443.9 147.5h0M441.9 141.8h0M448.2 143.7h0M442.2 154.2h0M444.3 146.8h0M443.7 147.7h0M441.4 152.3h0M440.4 140.3h0M448.7 151.9h0M446.3 145.7h0M441.5 140.8h0M443.8 143.3h0M444.7 154.5h0M444.1 149.4h0M441.6 154.7h0M447.7 144.5h0M441.6 158.3h0M449.4 149.6h0M446.2 150.8h0M446.8 156h0M442 155.4h0M445 151.6h0M445 159.7h0M445.9 146.7h0M441.3 150h0M444 141.3h0M443.9 144h0M442.3 149.2h0M449 141.3h0M443.9 148h0M442.2 153.8h0M444.8 154h0M446 156.7h0M442.5 143h0M447.3 140.4h0M444.9 149.5h0M439.9 153.8h0M445.7 157h0M445.7 158.6h0M446.1 151.4h0M445.2 154.4h0M444.3 157.7h0M440.1 156.6h0M447.9 142h0M446 153.9h0M444.7 144.6h0M444.3 156.7h0M443 146.3h0M444.2 156.9h0M447.4 144.7h0M443.9 167.5h0M445.3 162.4h0M442.5 165.7h0M443.8 168h0M445.8 166.1h0M442.8 160.1h0M444.5 165.2h0M449.1 160.6h0M445 165.9h0M444.6 163.5h0M443.6 165h0M444.9 165.4h0M443.5 167h0M443.4 163.2h0M444.6 161.1h0M442.8 166h0M446.2 164.5h0M444.1 162.9h0M448.8 161h0M445.4 164.7h0"/>
<path fill="none" stroke="#7ccf4a" stroke-width="2.5" stroke-linecap="round" d="M463.6 179.7h0M463.6 124.4h0M463.3 178.3h0M461.9 180.2h0M463.6 119.1h0M462.9 177.6h0M463.6 108.8h0M463.9 118.7h0M463.9 108.1h0M463.6 111.2h0M463.5 109.3h0M463 180.2h0M465.5 180.5h0M462.4 117.9h0M464.3 178.8h0M463.7 90.7h0M463.3 103h0M458.9 127.1h0M458.2 136h0M461.8 125.7h0M462.4 137.2h0M464.3 134.8h0M466.2 129h0M465.2 133.2h0M463.2 133.8h0M467.3 133.2h0M463.4 128.6h0M459.7 131.8h0M466.2 138.7h0M463.3 136.5h0M461.6 137.1h0M463 133.9h0M464.1 126.6h0M460.7 132h0M465.5 133.8h0M460.9 132h0M461.9 125.8h0M460.7 129.5h0M466.5 136.8h0M465.1 134.7h0M463.1 127.1h0M464.1 127.7h0M461.7 134.8h0M466.3 133.6h0M466.7 132h0M462.2 128.4h0M466.1 137h0M460.7 138h0M463.3 137.9h0M460.6 139.6h0M464.9 138.8h0M461.9 137.5h0M463.9 138.1h0M466.2 127.9h0M461.8 126.7h0M462.9 127.4h0M466.8 130.6h0M464.4 137.6h0M461.8 133.3h0M465.2 135h0M465.7 139.4h0M465.1 134.8h0M467.2 142.4h0M465.5 146.5h0M463.7 150.8h0M461 143.6h0M465.6 143.6h0M461.4 142h0M462.5 149.7h0M465.4 147.8h0M462.4 140.2h0M464.4 148h0M461.7 145.9h0M468.9 140.6h0M462.6 143.6h0M466.7 150.7h0M464.1 149.3h0M465.9 140.2h0M465.1 149.4h0M460.7 147.4h0M465.6 148.4h0M462.6 147.6h0M463.7 149h0M463.5 143.8h0M460.6 141.3h0M459.8 144.2h0M466.4 148.3h0M463.6 145.3h0M461.5 142.3h0M460.9 141.9h0M466.2 144.7h0M468.3 140.8h0M461 151.8h0M462.2 142.8h0M461.5 149.7h0M461.3 147.7h0M464.1 141.6h0M467.6 151.3h0M460.1 145.7h0M460.2 141.4h0M462.1 143.5h0M465 150.2h0M463.1 140.4h0M462.7 151.5h0M463 140.4h0M461.7 152.3h0M462.8 158.9h0M465.6 157.8h0M462.1 157.2h0M462.4 155.4h0M461.5 152.4h0M464.1 154.6h0M463.6 153.3h0M463.1 155.3h0M464.4 154.4h0M465.5 156.8h0M466.1 157.9h0M462.5 157.4h0M463.2 154.9h0M465.3 153.6h0M466.9 152.2h0M460.9 154.8h0M464.2 152.6h0M465.1 154.3h0M461.5 154.5h0M462.1 155h0M461.5 161.8h0M463.3 166.3h0M461.8 160.7h0M463.4 163.5h0M463.5 167.6h0M464.1 171.2h0M462.3 165.7h0M464.6 162.4h0M463.1 169.6h0M464.3 170.9h0M464 166.3h0M462.1 166.9h0M461.7 171.7h0M466.1 167h0M466.1 160.9h0M464.1 171.4h0M463.9 169.6h0M464.5 169.5h0"/>
<path fill="none" stroke="#b5498a" stroke-width="2.5" stroke-linecap="round" d="M482.3 119.4h0M483.5 118.3h0M482.3 121.1h0M482 120.8h0M481.1 118.2h0M482.3 120.1h0M481.9 101h0M482 109.9h0M482.1 128h0M482.8 127h0M481.2 127h0M480.4 131.5h0M485.3 134.1h0M483.7 132.4h0M485 127.2h0M482.4 129.9h0M483.1 130.9h0M482.4 128.6h0M481.2 133.3h0M484.9 129.7h0M484.3 130.5h0M477.5 131.8h0M482.9 128.5h0M481.3 132.4h0M484 132.3h0M483.2 128.1h0M481.2 128.1h0M480.6 131.7h0M479.1 128.3h0M484.8 132.3h0M484.9 132.2h0M481 129.6h0M480.2 132.5h0M481 129.8h0M481.3 133.3h0M483.6 131.7h0M482.7 133.7h0M481.8 130.1h0M483.2 129.4h0M484.3 132.1h0M481.8 127.5h0M481.6 128.4h0M483.5 139.7h0M484.2 135.3h0M483.1 138.4h0M486.6 135.4h0M484.7 135.3h0M482.7 137.8h0M481.9 137h0M478.7 137h0M478 139.4h0M478.5 136.8h0M483.6 136.1h0M481.2 136.6h0M484.7 136.3h0M481.4 136.5h0M477.4 138.7h0M482.7 137.8h0M480.5 136.3h0M482.2 137h0M483.5 137.1h0M477.9 137.6h0M482.9 139.7h0M482.6 138.5h0M480.1 138h0M481.2 136.6h0M482.5 136.6h0M483.7 135.9h0M482.1 137h0M484.5 135.4h0M485.8 146.5h0M485.8 152.4h0M485.7 148.9h0M476.4 140.7h0M485.6 147.8h0M480.5 140.3h0M481.2 145.9h0M478.6 142.1h0M483.7 154.8h0M487.2 145.3h0M480.8 144.7h0M479.1 151.6h0M480.6 140.5h0M483.4 153.4h0M481.8 154h0M482.2 152.2h0M483.3 141.8h0M482.8 152.3h0M483.2 148.6h0M482 150.5h0M487.3 146.9h0M484.2 148h0M481 141.8h0M484 143.4h0M480.2 152.9h0M483.3 148.1h0M481 148.2h0M481.7 152.2h0M484.8 141.2h0M479.8 153.3h0M481.2 154.2h0M484.9 140.6h0M486 143h0M484 153.4h0M480.8 152.8h0M481.1 145.6h0M484.2 153h0M481.8 154.4h0M480.3 147.9h0M481.9 152.3h0M483.8 154.2h0M483.4 140.7h0M483.4 151.3h0M482.2 146.7h0M477.6 145.2h0M483.7 141.9h0M482.8 148.9h0M479 144.3h0M482.7 148.6h0M478.6 149.9h0M479.3 142.6h0M483.7 154h0M485.1 146.9h0M485.1 144.9h0M486.5 141.4h0M485 143.1h0M487.2 141h0M478.2 141.9h0M485.4 145.4h0M482.3 150.1h0M481.8 150.4h0M482.7 154.9h0M482.6 142.9h0M481.3 140.1h0M482.6 154.9h0M486 140h0M481.4 148.9h0M484.2 140.2h0M480.2 154.3h0M481.4 154.6h0M480.4 154.8h0M483.5 154.7h0M481.4 143.6h0M487.5 146.8h0M480.1 149.9h0M480.4 153h0M482.4 145.5h0M480.4 152.6h0M479.4 150.9h0M483.8 140.3h0M486.9 140.9h0M483.7 144.6h0M484.6 150.7h0M481.3 146.4h0M482.7 141.4h0M483.8 141.5h0M482.6 162h0M481.8 159.5h0M483.5 160.9h0M479.6 157.7h0M480.6 161.3h0M481 161.1h0M481.1 155.1h0M482.6 157h0M483.3 157.7h0M486.9 156.6h0M479.3 155.5h0M484.4 156.7h0M479.9 156.4h0M481 159.2h0M485.5 156.4h0M481.4 156.5h0M483.2 157.5h0M482.1 160h0M482.6 159.7h0M481.9 160.7h0M483.1 157.9h0M481.7 158.8h0M480.9 156.6h0M478.7 159.6h0M482.8 160.4h0M480 158.8h0M483.4 156.8h0M481 158h0M483.3 160.8h0M483.1 176.7h0M482.1 173.2h0M483.8 174.3h0M482 176.4h0M482.4 176.1h0M482 167.4h0M481.2 167.1h0M481.8 177.1h0M481.1 164.1h0M483 169.3h0M482.6 172.2h0M483.1 162.4h0"/>
<path fill="none" stroke="#3a9ad9" stroke-width="2.5" stroke-linecap="round" d="M501.1 180.6h0M503.4 180.7h0M501.1 110.6h0M501.1 107.1h0M498.7 180.3h0M505.9 180.1h0M501.1 113.4h0M496.2 180.9h0M495.3 180.4h0M505.2 180.9h0M497.8 180.1h0M501.1 173.8h0M501.1 180.9h0M502 180.9h0M495.5 180.5h0M501.6 180h0M501.1 168.7h0M502.2 108.4h0M502 168.1h0M500 112.6h0M502.2 112.4h0M501.1 170.3h0M501.6 110.6h0M503.7 180.2h0M501.8 180.7h0M500.9 94.4h0M502 117.9h0M502.3 115h0M499.1 119.7h0M500 119.3h0M500 118h0M502.7 117.7h0M501.2 118.4h0M500.2 117.8h0M499.6 119h0M499.8 116.5h0M500.6 115.3h0M502.1 113.2h0M501.2 119.6h0M500.6 132.1h0M501.9 120.5h0M499.8 132.1h0M501.7 126h0M500.7 143.6h0M502.7 143.2h0M501.1 132.1h0M501.1 145.5h0M502.4 128.2h0M501.2 131.5h0M502.4 145.9h0M500.2 126.4h0M500.9 131.7h0M501.1 145.1h0M499.6 122.5h0M501.3 125.1h0M501.9 126.3h0M499.4 123.9h0M501.3 132.9h0M503.7 129.3h0M500.8 121.9h0M498.6 125.6h0M502.8 140.2h0M503 142.2h0M499.4 120h0M499.7 122.2h0M502.1 145.3h0M501.4 136.8h0M499.4 135.4h0M500.5 127.8h0M500.2 124.6h0M502.6 145.9h0M497.7 136h0M500.9 133.9h0M502 122.1h0M500.4 143.4h0M499.6 126.7h0M501.5 126.7h0M499.3 141.9h0M502.1 129.4h0M499.4 138h0M500.6 141h0M501.7 149.6h0M500.4 142.4h0M499.1 132.7h0M501.1 136.2h0M502.8 128.8h0M504.7 127.4h0M498.7 129.7h0M501.4 145.9h0M501.3 143.1h0M499.8 136.8h0M501.1 145.6h0M502.7 132.9h0M497.7 144.7h0M500.3 136.6h0M500.8 143.3h0M502 150h0M500.1 154.4h0M502.9 159h0M501.3 150.8h0M502.4 156.2h0M501.8 162.5h0M500 155.1h0M500.1 156.2h0M499.3 151.9h0M503 160.6h0M501.5 155h0M502.4 163.6h0M499.7 156.8h0M502.1 157h0M498.2 153h0M500.1 151.1h0M502.1 160.3h0M501.2 161.3h0M500.1 158.6h0M499.7 150.2h0M501.8 152.8h0M501.2 164.4h0M500.3 159.7h0M501 154h0M499.5 164h0"/>
<path fill="none" stroke="#c86a1a" stroke-width="2.5" stroke-linecap="round" d="M519.8 168.9h0M519.8 159.4h0M519.8 172.7h0M521 158.2h0M519.8 167h0M522.2 159.4h0M519.8 176.6h0M519.8 152.4h0M521 153.7h0M519.8 156.2h0M521 160.8h0M518.6 158.2h0M519.8 164.1h0M521 170.3h0M519.7 66.1h0M519.8 78.4h0M519.9 83.3h0M519.7 88.3h0M520 93.2h0M520 96.9h0M516.3 104.6h0M517.1 102.1h0M519.8 101.3h0M521.5 100.8h0M517.4 105.3h0M519.2 104.3h0M519.4 102.6h0M519.6 103.9h0M522.1 101.8h0M522 104.1h0M516.2 104.3h0M516.6 103.1h0M517.3 100.7h0M519.3 104.1h0M519.3 100.8h0M519.7 104.8h0M520.4 103.3h0M521.6 110.8h0M520.9 110.6h0M518.9 107.7h0M516.4 110.8h0M517.7 110.5h0M522.9 107.9h0M517.3 108.6h0M523.8 110.1h0M518.9 106.2h0M521.2 113.6h0M518.1 114.1h0M522.1 109.5h0M524 107.3h0M519.5 109.5h0M517.8 107h0M520.6 111.6h0M521 107.7h0M517.7 113.5h0M519.2 113.4h0M519.6 114.3h0M515 111.8h0M521 112.6h0M521.6 109.2h0M521.4 109.5h0M520.8 109.1h0M523.8 112.9h0M521.4 109.1h0M521.2 108.2h0M522.8 113.7h0M524.6 112.8h0M520.4 114.2h0M522.4 107.7h0M519.7 109.1h0M518.3 113.5h0M518.2 114.7h0M519.5 132.9h0M520.8 144.5h0M520.6 142.4h0M520.1 128h0M522.4 141h0M518.9 149.1h0M519.2 122.9h0M522.2 136.2h0M519.8 134.7h0M519.3 127.8h0M522 131.6h0M519.9 126.9h0M520.8 132.2h0M518.7 144.9h0M519.8 150h0M518.6 139.6h0M516.9 116.3h0M517.6 125.5h0M521 121.1h0M519.9 135.7h0M518.6 137.5h0M521.2 128.8h0M519.7 128.4h0M521.6 133.5h0M520.9 128.1h0M517.8 146.7h0M519.5 143.9h0M520.4 147.1h0M518 124.9h0M520.9 126.5h0M518.6 135h0M519.7 132.1h0M520.4 149.4h0M519 142.7h0M518.6 119.9h0M522.2 145.2h0M516.8 140h0M522.1 118.8h0M522.2 129.3h0M521.5 151.3h0M520.7 144.6h0M519.5 141.7h0M520.4 117.3h0M519.9 123.5h0M520.3 149.4h0M516.3 129h0M518.4 120.9h0M519.1 148.9h0M519.6 130.6h0M519.7 149.2h0M517.7 141.3h0M518.3 144.4h0M518.7 148.3h0M518.2 150.1h0M518 138.2h0"/>
<path fill="none" stroke="#d86fd8" stroke-width="2.5" stroke-linecap="round" d="M538.5 102.3h0M538.5 107.2h0M538.5 90.5h0M538.5 162.4h0M538.5 168.5h0M539.8 169.7h0M540.9 107.7h0M538.5 95h0M538.5 92.3h0M538.5 98.5h0M540.9 168.5h0M538.5 164.1h0M539.8 97.4h0M538.3 72.3h0M538.3 83.3h0M539.1 110.2h0M540.7 113.2h0M539.6 109.3h0M536.2 111.6h0M541.6 114.8h0M534.9 111.5h0M535.7 112h0M539.8 111h0M538.3 112.9h0M539.7 107.2h0M538.7 110h0M538.1 109.1h0M539.2 107.6h0M538.7 112.3h0M536.5 107.6h0M538.1 114.2h0M537.6 110h0M537.3 124.9h0M536.3 123.9h0M533.5 124.4h0M534.6 116.4h0M539.8 120.4h0M539.8 124.8h0M537.9 120.9h0M539.3 124.5h0M538.1 118.9h0M539.1 117.3h0M534 116h0M537.7 127.1h0M537.3 121h0M542.3 117h0M539.8 120.4h0M537.2 119.4h0M537.3 121.7h0M539.2 126h0M535.5 120.8h0M535.9 125.4h0M541.9 116.4h0M535.3 120.6h0M536.2 121.4h0M539 126.6h0M539.5 125.3h0M539.6 121.2h0M535.5 120.5h0M539 121.6h0M538.1 119.4h0M540.8 123.1h0M538.7 132.9h0M538.4 128.4h0M536.3 134.4h0M536.8 134.4h0M534.1 140h0M541.6 143.3h0M535.6 142.3h0M540.4 138.5h0M541 140.2h0M540.5 142.3h0M542.9 128h0M538.8 131.8h0M541.9 143.3h0M538.4 136.7h0M537 127.7h0M537.5 134.9h0M540.8 142.8h0M537.7 135.5h0M537.2 141.2h0M536.3 141.3h0M536.7 138.4h0M537.8 141h0M538.9 140.9h0M539.8 140.1h0M538.4 132.4h0M540.4 133h0M543.1 128.6h0M541.6 129.8h0M539.5 135.3h0M537.9 142.5h0M538.9 141.1h0M537.7 134.3h0M538.8 136.3h0M540.7 132.8h0M536.6 159.1h0M535.9 149.4h0M538.5 147.5h0M538.5 155h0M539.7 147.6h0M535.8 161h0M537.4 157.3h0M540.2 147.1h0M538.5 153.7h0M535.7 160.6h0M538.5 151.8h0M537.9 158.6h0M537.5 152h0M536.8 149.3h0M538 153h0M537.8 147.8h0M537 156.9h0M539.6 161.1h0M540.5 151.5h0M538.5 158.4h0M539.4 156.5h0M539.3 148.2h0M539.5 155h0M537.2 159.7h0M540.3 151h0M538 161.1h0"/>
<path fill="none" stroke="#a58be6" stroke-width="2.5" stroke-linecap="round" d="M557.3 87.6h0M557.4 87.2h0M558.6 87.9h0M557.3 84.5h0M557.2 51.4h0M557.3 61.2h0M557.5 67.4h0M557.6 72.3h0M557.6 79.7h0M557.7 92.2h0M558.6 92.6h0M556.3 92.3h0M558.1 90.9h0M556.1 92h0M557.5 92.5h0M557.7 90.4h0M557.7 90.9h0M556.8 93h0M555.9 89.9h0M556.7 100.8h0M556.7 98.3h0M555.2 99.1h0M558.8 101.7h0M557.4 95.1h0M558.6 96.1h0M557.8 100.2h0M555.9 97.4h0M557.7 97.5h0M557.2 102h0M557.9 97.3h0M559 98.9h0M554.9 95.8h0M558.3 101.8h0M560.2 96.8h0M555.5 98.3h0M556 113.7h0M554.2 114.8h0M555.9 107.6h0M561 112.7h0M556.6 103.1h0M556.3 103.8h0M559.8 110.3h0M557.3 112.1h0M558.7 111.4h0M558.2 104.9h0M556.4 109.5h0M554.1 112.2h0M557.8 113.8h0M560.6 106.1h0M560.3 104h0M557.5 112.3h0M556.5 112.6h0M556.4 107.7h0M557 102.5h0M554 103.5h0M557.6 108.3h0M558.5 114.4h0M556.3 106.2h0M557.2 107h0M555.2 112h0M556.9 110.5h0M560.5 107.2h0M559.3 112h0M560.8 114.7h0M558 109.8h0M556 112.7h0M555.8 113.7h0M556.9 117.3h0M557.7 123.9h0M560.1 118.6h0M558.2 121.5h0M557 117h0M558.5 122.4h0M558.7 116.2h0M558.8 124.7h0M561.9 121.8h0M560.4 122.8h0M559 115.4h0M555.3 122.6h0M554.3 115.3h0M556.2 115.4h0M557.4 124.3h0M558.7 117.8h0M555.7 121.3h0M554.6 122.6h0M557.4 122.7h0M559 123h0M558.2 117.2h0M558.3 116.2h0M555.5 116.7h0M557.5 128.5h0M558.4 125.7h0M557.1 138h0M555.3 130.3h0M555.9 132h0M558 128.6h0M558.6 138.3h0M558.6 127.3h0M558.4 127.1h0M555.1 126.2h0M559.1 125.6h0M557.6 139.1h0M557.8 131.1h0M557.6 139.9h0M558.3 137.9h0M556.1 125.5h0M558.4 132h0M558.5 131.8h0M559.4 128.9h0M556.8 131.4h0M557.5 129.5h0M557.5 135.8h0M559.6 125.5h0M558.5 128.8h0M557.6 137.3h0M556 134.5h0M557 131.2h0M558.3 154h0M554.6 140.6h0M558.3 143.8h0M558.5 147.1h0M558.3 153h0M556.1 144.8h0M556.4 153h0M558.9 143.9h0M558 148.5h0M557.6 151.5h0M557.7 147.4h0M559.1 151.2h0M558 142.5h0M558.1 149.1h0M557.9 146.6h0M559.1 144.5h0M558 148.6h0M556 141.1h0"/>
<path fill="none" stroke="#2e8b62" stroke-width="2.5" stroke-linecap="round" d="M576 86h0M576 134.8h0M576 136.6h0M578.4 135.5h0M576 83.6h0M578.4 83.2h0M576 129h0M577.2 87.4h0M576 142.4h0M576 79.7h0M578.4 128.6h0M573.6 136.4h0M573.6 83.4h0M573.6 128.8h0M578.4 79h0M576 146.4h0M576 90.2h0M576 130.5h0M576 127.2h0M576.4 128.1h0M576.4 68.6h0M574.4 98.6h0M570.6 98.6h0M573.5 98.9h0M578.4 98.2h0M579.9 99.4h0M574.5 91h0M576.8 98.1h0M575.4 99h0M575 100h0M576.9 94.1h0M573.1 93.9h0M576 96h0M572 98.5h0M576 98.4h0M574 97.9h0M574.2 98.3h0M578.7 95.4h0M575.3 91.4h0M577.3 102.9h0M575.2 101.7h0M581.8 101.3h0M576.9 110.3h0M576.9 104.7h0M573.2 105.3h0M579.2 115.7h0M573.2 105.1h0M576.5 106.1h0M575.7 118.3h0M582 103.1h0M578 116.4h0M577.1 110.6h0M576.4 104.3h0M579 119.5h0M577.2 118.4h0M576.7 103.3h0M575.6 108.6h0M571.9 109.5h0M578.1 113h0M571.9 111h0M580.9 101.8h0M578.8 106.3h0M574.6 106.7h0M572.5 117.8h0M575 115h0M575.9 111.2h0M577 106.3h0M577.8 111.8h0M577.3 116.8h0M577.2 111.6h0M579.5 111.7h0M577.2 102.5h0M576.7 115h0M576.1 113.6h0M574.1 112.8h0M571.3 114.9h0M576.7 100.3h0M576.2 119.1h0M576 113.5h0M571.7 109.4h0M575.9 112.6h0M578.5 118.2h0M580.9 118.5h0M571.4 112.1h0M572.9 115.5h0M579.9 107.4h0M580 119.8h0M577.9 118.1h0M578.9 108h0M581.1 104h0M574.3 104.3h0M571.8 123.5h0M574.3 123.2h0M575.1 120.6h0M577.4 122.6h0M579.9 125.7h0M573.2 124.6h0M577.5 125.8h0M575.3 126.2h0M578.3 123.8h0M577.5 127h0M577.4 124.8h0M574.9 125.6h0M574.8 120h0M573.9 120.1h0M580.9 121.3h0M576.1 149.7h0M575.8 154.6h0M576 159.6h0M575.7 164.5h0"/>
<path d="M357 47.4 V225.4 H590" fill="none" stroke="#1a1a1a" stroke-width="1.8"/>
<line x1="353.5" y1="225.4" x2="357" y2="225.4" stroke="#1a1a1a" stroke-width="1.8"/>
<text x="350.1" y="227.2" font-size="5.6" text-anchor="end" font-weight="bold" textLength="6.9" lengthAdjust="spacingAndGlyphs">10</text>
<text x="350.7" y="226.1" font-size="3.1" text-anchor="start" font-weight="bold">0</text>
<line x1="353.5" y1="180.9" x2="357" y2="180.9" stroke="#1a1a1a" stroke-width="1.8"/>
<text x="350.1" y="182.7" font-size="5.6" text-anchor="end" font-weight="bold" textLength="6.9" lengthAdjust="spacingAndGlyphs">10</text>
<text x="350.7" y="181.6" font-size="3.1" text-anchor="start" font-weight="bold">1</text>
<line x1="353.5" y1="136.4" x2="357" y2="136.4" stroke="#1a1a1a" stroke-width="1.8"/>
<text x="350.1" y="138.2" font-size="5.6" text-anchor="end" font-weight="bold" textLength="6.9" lengthAdjust="spacingAndGlyphs">10</text>
<text x="350.7" y="137.1" font-size="3.1" text-anchor="start" font-weight="bold">2</text>
<line x1="353.5" y1="91.9" x2="357" y2="91.9" stroke="#1a1a1a" stroke-width="1.8"/>
<text x="350.1" y="93.7" font-size="5.6" text-anchor="end" font-weight="bold" textLength="6.9" lengthAdjust="spacingAndGlyphs">10</text>
<text x="350.7" y="92.6" font-size="3.1" text-anchor="start" font-weight="bold">3</text>
<line x1="353.5" y1="47.4" x2="357" y2="47.4" stroke="#1a1a1a" stroke-width="1.8"/>
<text x="350.1" y="49.2" font-size="5.6" text-anchor="end" font-weight="bold" textLength="6.9" lengthAdjust="spacingAndGlyphs">10</text>
<text x="350.7" y="48.1" font-size="3.1" text-anchor="start" font-weight="bold">4</text>
<line x1="369.8" y1="225.4" x2="369.8" y2="228.9" stroke="#1a1a1a" stroke-width="1.8"/>
<line x1="388.6" y1="225.4" x2="388.6" y2="228.9" stroke="#1a1a1a" stroke-width="1.8"/>
<line x1="407.3" y1="225.4" x2="407.3" y2="228.9" stroke="#1a1a1a" stroke-width="1.8"/>
<line x1="426.1" y1="225.4" x2="426.1" y2="228.9" stroke="#1a1a1a" stroke-width="1.8"/>
<line x1="444.8" y1="225.4" x2="444.8" y2="228.9" stroke="#1a1a1a" stroke-width="1.8"/>
<line x1="463.6" y1="225.4" x2="463.6" y2="228.9" stroke="#1a1a1a" stroke-width="1.8"/>
<line x1="482.3" y1="225.4" x2="482.3" y2="228.9" stroke="#1a1a1a" stroke-width="1.8"/>
<line x1="501.1" y1="225.4" x2="501.1" y2="228.9" stroke="#1a1a1a" stroke-width="1.8"/>
<line x1="519.8" y1="225.4" x2="519.8" y2="228.9" stroke="#1a1a1a" stroke-width="1.8"/>
<line x1="538.5" y1="225.4" x2="538.5" y2="228.9" stroke="#1a1a1a" stroke-width="1.8"/>
<line x1="557.3" y1="225.4" x2="557.3" y2="228.9" stroke="#1a1a1a" stroke-width="1.8"/>
<line x1="576" y1="225.4" x2="576" y2="228.9" stroke="#1a1a1a" stroke-width="1.8"/>
<text x="0" y="0" font-size="7.4" text-anchor="end" font-weight="bold" stroke="#000" stroke-width="0.2" transform="translate(372.3 235.4) scale(1.33 1) rotate(-45)">2023.5.8-5.10</text>
<text x="0" y="0" font-size="7.4" text-anchor="end" font-weight="bold" stroke="#000" stroke-width="0.2" transform="translate(391.1 235.4) scale(1.33 1) rotate(-45)">2023.6.8-6.10</text>
<text x="0" y="0" font-size="7.4" text-anchor="end" font-weight="bold" stroke="#000" stroke-width="0.2" transform="translate(409.8 235.4) scale(1.33 1) rotate(-45)">2023.7.8-7.10</text>
<text x="0" y="0" font-size="7.4" text-anchor="end" font-weight="bold" stroke="#000" stroke-width="0.2" transform="translate(428.6 235.4) scale(1.33 1) rotate(-45)">2023.8.8-8.10</text>
<text x="0" y="0" font-size="7.4" text-anchor="end" font-weight="bold" stroke="#000" stroke-width="0.2" transform="translate(447.3 235.4) scale(1.33 1) rotate(-45)">2023.9.8-9.10</text>
<text x="0" y="0" font-size="7.4" text-anchor="end" font-weight="bold" stroke="#000" stroke-width="0.2" transform="translate(466.1 235.4) scale(1.33 1) rotate(-45)">2023.10.8-10.10</text>
<text x="0" y="0" font-size="7.4" text-anchor="end" font-weight="bold" stroke="#000" stroke-width="0.2" transform="translate(484.8 235.4) scale(1.33 1) rotate(-45)">2023.11.8-11.10</text>
<text x="0" y="0" font-size="7.4" text-anchor="end" font-weight="bold" stroke="#000" stroke-width="0.2" transform="translate(503.6 235.4) scale(1.33 1) rotate(-45)">2023.12.8-12.10</text>
<text x="0" y="0" font-size="7.4" text-anchor="end" font-weight="bold" stroke="#000" stroke-width="0.2" transform="translate(522.3 235.4) scale(1.33 1) rotate(-45)">2024.1.8-1.10</text>
<text x="0" y="0" font-size="7.4" text-anchor="end" font-weight="bold" stroke="#000" stroke-width="0.2" transform="translate(541 235.4) scale(1.33 1) rotate(-45)">2024.2.8-2.10</text>
<text x="0" y="0" font-size="7.4" text-anchor="end" font-weight="bold" stroke="#000" stroke-width="0.2" transform="translate(559.8 235.4) scale(1.33 1) rotate(-45)">2024.3.8-3.10</text>
<text x="0" y="0" font-size="7.4" text-anchor="end" font-weight="bold" stroke="#000" stroke-width="0.2" transform="translate(578.5 235.4) scale(1.33 1) rotate(-45)">2024.4.8-4.10</text>
<text x="369.2" y="40.1" font-size="8.8" text-anchor="middle" font-weight="normal" fill="#555" textLength="11.7" lengthAdjust="spacingAndGlyphs" >103</text>
<text x="389.5" y="40.1" font-size="8.8" text-anchor="middle" font-weight="normal" fill="#555" textLength="11.7" lengthAdjust="spacingAndGlyphs" >660</text>
<text x="408.8" y="40.1" font-size="8.8" text-anchor="middle" font-weight="normal" fill="#555" textLength="11.7" lengthAdjust="spacingAndGlyphs" >334</text>
<text x="427.1" y="40.1" font-size="8.8" text-anchor="middle" font-weight="normal" fill="#555" textLength="11.7" lengthAdjust="spacingAndGlyphs" >135</text>
<text x="445.6" y="40.1" font-size="8.8" text-anchor="middle" font-weight="normal" fill="#555" textLength="11.7" lengthAdjust="spacingAndGlyphs" >169</text>
<text x="463.6" y="40.1" font-size="8.8" text-anchor="middle" font-weight="normal" fill="#555" textLength="7.8" lengthAdjust="spacingAndGlyphs" >94</text>
<text x="481.2" y="40.1" font-size="8.8" text-anchor="middle" font-weight="normal" fill="#555" textLength="7.8" lengthAdjust="spacingAndGlyphs" >80</text>
<text x="501" y="40.1" font-size="8.8" text-anchor="middle" font-weight="normal" fill="#555" textLength="11.7" lengthAdjust="spacingAndGlyphs" >188</text>
<text x="517.5" y="40.1" font-size="8.8" text-anchor="middle" font-weight="normal" fill="#555" textLength="11.7" lengthAdjust="spacingAndGlyphs" >299</text>
<text x="537.9" y="40.1" font-size="8.8" text-anchor="middle" font-weight="normal" fill="#555" textLength="11.7" lengthAdjust="spacingAndGlyphs" >328</text>
<text x="559.5" y="40.1" font-size="8.8" text-anchor="middle" font-weight="normal" fill="#555" textLength="11.7" lengthAdjust="spacingAndGlyphs" >621</text>
<text x="576.5" y="40.1" font-size="8.8" text-anchor="middle" font-weight="normal" fill="#555" textLength="11.7" lengthAdjust="spacingAndGlyphs" >524</text>
<line x1="368.6" y1="26.7" x2="384.7" y2="26.7" stroke="#4a72d0" stroke-width="2"/>
<text x="376.6" y="27.5" font-size="12.5" text-anchor="middle" font-weight="normal" fill="#444" textLength="15.2" lengthAdjust="spacingAndGlyphs" >****</text>
<line x1="390.3" y1="18.3" x2="403" y2="18.3" stroke="#4a72d0" stroke-width="2"/>
<text x="396.6" y="19.1" font-size="12.5" text-anchor="middle" font-weight="normal" fill="#444" textLength="15.2" lengthAdjust="spacingAndGlyphs" >****</text>
<line x1="410.6" y1="11.4" x2="424" y2="11.4" stroke="#4a72d0" stroke-width="2"/>
<text x="417.3" y="8.6" font-size="12.5" text-anchor="middle" font-weight="normal" fill="#444" textLength="13.5" lengthAdjust="spacingAndGlyphs" >n.s.</text>
<line x1="429.7" y1="26.7" x2="443.1" y2="26.7" stroke="#4a72d0" stroke-width="2"/>
<text x="436.4" y="23.9" font-size="12.5" text-anchor="middle" font-weight="normal" fill="#444" textLength="13.5" lengthAdjust="spacingAndGlyphs" >n.s.</text>
<line x1="447.6" y1="17.8" x2="461.1" y2="17.8" stroke="#4a72d0" stroke-width="2"/>
<text x="454.4" y="15" font-size="12.5" text-anchor="middle" font-weight="normal" fill="#444" textLength="13.5" lengthAdjust="spacingAndGlyphs" >n.s.</text>
<line x1="466.2" y1="9.4" x2="479.4" y2="9.4" stroke="#4a72d0" stroke-width="2"/>
<text x="472.8" y="6.6" font-size="12.5" text-anchor="middle" font-weight="normal" fill="#444" textLength="13.5" lengthAdjust="spacingAndGlyphs" >n.s.</text>
<line x1="482.5" y1="28.7" x2="495.2" y2="28.7" stroke="#4a72d0" stroke-width="2"/>
<text x="488.9" y="29.5" font-size="12.5" text-anchor="middle" font-weight="normal" fill="#444" textLength="7.6" lengthAdjust="spacingAndGlyphs" >**</text>
<line x1="500.5" y1="19.6" x2="513.7" y2="19.6" stroke="#4a72d0" stroke-width="2"/>
<text x="507.1" y="20.4" font-size="12.5" text-anchor="middle" font-weight="normal" fill="#444" textLength="3.8" lengthAdjust="spacingAndGlyphs" >*</text>
<line x1="521.4" y1="12.7" x2="534.6" y2="12.7" stroke="#4a72d0" stroke-width="2"/>
<text x="528" y="9.9" font-size="12.5" text-anchor="middle" font-weight="normal" fill="#444" textLength="13.5" lengthAdjust="spacingAndGlyphs" >n.s.</text>
<line x1="541.2" y1="28" x2="554.9" y2="28" stroke="#4a72d0" stroke-width="2"/>
<text x="548" y="28.8" font-size="12.5" text-anchor="middle" font-weight="normal" fill="#444" textLength="3.8" lengthAdjust="spacingAndGlyphs" >*</text>
<line x1="559.5" y1="19" x2="573" y2="19" stroke="#4a72d0" stroke-width="2"/>
<text x="566.2" y="16.2" font-size="12.5" text-anchor="middle" font-weight="normal" fill="#444" textLength="13.5" lengthAdjust="spacingAndGlyphs" >n.s.</text>
<text x="0" y="0" font-size="9.6" text-anchor="middle" font-weight="bold" textLength="158" lengthAdjust="spacingAndGlyphs" transform="translate(336.3 136.6) rotate(-90)">Serum XBB1.5 Neutralizing Antibody Titer (IC50)</text>
<text x="327.5" y="16" font-size="20" text-anchor="start" font-weight="normal" fill="#222" >b</text>
<rect x="55.4" y="413.7" width="10.2" height="104.9" fill="#f8eee0"/>
<rect x="72.4" y="411.8" width="10.2" height="106.8" fill="#f8eee0"/>
<rect x="89.4" y="416.4" width="10.2" height="102.2" fill="#f8eee0"/>
<rect x="106.4" y="416.4" width="10.2" height="102.2" fill="#f8eee0"/>
<rect x="123.4" y="418.5" width="10.2" height="100.1" fill="#f8eee0"/>
<rect x="140.4" y="396.2" width="10.2" height="122.4" fill="#f8eee0"/>
<rect x="157.4" y="399" width="10.2" height="119.6" fill="#f8eee0"/>
<rect x="174.4" y="372.8" width="10.2" height="145.8" fill="#f8eee0"/>
<rect x="191.4" y="379" width="10.2" height="139.6" fill="#f8eee0"/>
<line x1="48.8" y1="467.5" x2="210" y2="467.5" stroke="#777" stroke-width="1" stroke-dasharray="1.2 2.2"/>
<rect x="55.4" y="413.7" width="10.2" height="104.9" fill="none" stroke="#1a1a1a" stroke-width="1.7"/>
<rect x="72.4" y="411.8" width="10.2" height="106.8" fill="none" stroke="#1a1a1a" stroke-width="1.7"/>
<rect x="89.4" y="416.4" width="10.2" height="102.2" fill="none" stroke="#1a1a1a" stroke-width="1.7"/>
<rect x="106.4" y="416.4" width="10.2" height="102.2" fill="none" stroke="#1a1a1a" stroke-width="1.7"/>
<rect x="123.4" y="418.5" width="10.2" height="100.1" fill="none" stroke="#1a1a1a" stroke-width="1.7"/>
<rect x="140.4" y="396.2" width="10.2" height="122.4" fill="none" stroke="#1a1a1a" stroke-width="1.7"/>
<rect x="157.4" y="399" width="10.2" height="119.6" fill="none" stroke="#1a1a1a" stroke-width="1.7"/>
<rect x="174.4" y="372.8" width="10.2" height="145.8" fill="none" stroke="#1a1a1a" stroke-width="1.7"/>
<rect x="191.4" y="379" width="10.2" height="139.6" fill="none" stroke="#1a1a1a" stroke-width="1.7"/>
<path fill="none" stroke="#b0bd22" stroke-width="2.4" stroke-linecap="round" d="M60.5 388.5h0M60.5 465.7h0M60.5 381h0M62.4 466.9h0M62.4 380h0M58.6 466.1h0M64.3 466.4h0M56.7 465.7h0M63.2 466.5h0M62.1 466.6h0M55.8 466.7h0M58.6 380.4h0M64.9 466h0M59.5 466.3h0M61 380.1h0M65.3 466.5h0M63.9 465.5h0M60.6 344.6h0M60.6 399.1h0M61.4 397h0M60.6 393.3h0M57.1 391.1h0M57.9 395.4h0M60.5 395.6h0M63.5 394.9h0M58.7 391h0M61.9 392h0M64.3 397.2h0M60.2 399.5h0M57.8 390.9h0M60.9 397.8h0M61 392.3h0M60.9 398.8h0M59.7 397h0M61.1 392.2h0M57.6 399h0M58.5 390.1h0M61 391.2h0M58.9 398h0M58.9 390.9h0M61.5 392.2h0M64.3 396.5h0M59.7 395.2h0M64.5 399.6h0M57.4 397.8h0M60.1 393.3h0M58.3 394h0M63.9 396.7h0M62.4 394.6h0M57.2 398.2h0M61.3 399.4h0M59.5 390.2h0M59.9 409h0M61 409.5h0M59.8 404.2h0M61.6 420.6h0M55.6 416.7h0M61.2 417.2h0M62.6 411h0M62.4 403.2h0M61.3 424.3h0M64.1 428h0M59.2 419.2h0M59.5 427.9h0M56.2 416.8h0M62.5 402.6h0M61.8 422.9h0M60.6 406.1h0M58.8 421.5h0M60 413.6h0M63.5 418.3h0M55.8 405.9h0M62.5 408.7h0M59.3 415.8h0M60.4 428.6h0M62.3 423h0M59.3 413.6h0M63.5 419.4h0M60.5 425h0M57.8 401.5h0M61.4 406.7h0M59.2 421.7h0M59.1 406.8h0M62.7 415.7h0M63.3 430.5h0M63.5 427.2h0M58.4 417.8h0M60.1 415.9h0M58.2 430.7h0M61.5 431h0M58.4 407.3h0M58 429.7h0M62.7 425.4h0M62.4 403.2h0M62.4 400.3h0M60.4 403h0M60.6 414.3h0M58.3 401.3h0M60.8 411.3h0M57.1 407.4h0M58.6 422.9h0M63.9 422.6h0M59.5 404.8h0M61.8 428.3h0M60 409h0M59.2 408h0M59.8 407.3h0M60.4 408.6h0M61.2 410.4h0M61.3 404.4h0M61 429.4h0M58.4 408.9h0M60.3 414.2h0M56.8 412.6h0M61.4 405.8h0M63.1 426.9h0M60.7 401.8h0M57.7 423.6h0M64.7 419.8h0M60.1 409h0M62.9 425.1h0M61.1 412.4h0M63.5 430.4h0M59.4 424.5h0M60.9 429.1h0M59.9 403.7h0M61.8 400.3h0M57.8 405.3h0M59.9 401.2h0M60.2 421.6h0M65.3 406.2h0M63.3 407.9h0M62.3 411h0M62 418.7h0M56.9 417.6h0M61.5 428.6h0M58 429.5h0M59.8 406.1h0M61.9 422.4h0M58.2 415.7h0M58.8 401.2h0M59.9 430.9h0M57.8 412.6h0M61.4 406.9h0M59.9 423.1h0M61 405.8h0M59.8 424.6h0M56.9 404.1h0M63.1 418.4h0M61.9 418.9h0M61.7 414.3h0M58.3 416.3h0M62.7 401.3h0M61.5 420.9h0M61.6 418.5h0M62.3 420h0M62.4 431.3h0M61.4 413.7h0M60 409.7h0M62.4 409.5h0M56.9 428.9h0M59.5 411.8h0M61.4 415.5h0M57 426.4h0M63 418.6h0M60.2 401.7h0M62.7 408.7h0M57.1 408.7h0M59 426.3h0M63.3 429.4h0M61.9 409.6h0M60.7 404.6h0M57.5 414.4h0M59 419.5h0M59 420.1h0M61 429.6h0M61 428.4h0M64.6 410.9h0M57.9 422.4h0M60.8 418.8h0M62.1 415.4h0M60.6 429.1h0M60.2 420.4h0M56.8 405.5h0M64.4 423.4h0M60 404.4h0M60.7 401.6h0M58.6 432.5h0M61.1 432.1h0M62.6 442.5h0M59.8 437.6h0M63.6 445h0M58.8 434h0M63.1 444.5h0M62.1 441.4h0M60.2 433.9h0M60.4 433.1h0M59.4 441.1h0M60.2 438.8h0M62.5 435.7h0M62.2 437.8h0M57.8 434.1h0M57.3 440.4h0M61.2 444.6h0M61.5 440.3h0M60.2 453.4h0M59.1 452.9h0M63.4 445.5h0M59.8 457.9h0M59.9 454.2h0M61.7 460.8h0M62 457.4h0M59.9 450.5h0M60.3 455.3h0M58.6 457.3h0M62.1 461.4h0M61.3 451.6h0M60.2 448.7h0M61.8 459.4h0M59.2 460.4h0M59 454.4h0M61.5 450.1h0M60.3 447.2h0M60.6 460.6h0"/>
<path fill="none" stroke="#45c6d0" stroke-width="2.4" stroke-linecap="round" d="M77.5 423.6h0M77.5 459.4h0M79.4 423.9h0M75.6 423.4h0M81.3 423.3h0M73.7 422.7h0M77.5 462.2h0M83.3 423.2h0M71.7 422.5h0M77.6 460.1h0M84.1 423.4h0M77.4 365.3h0M77.5 368h0M77.8 370.9h0M77.8 373.2h0M78.4 375.5h0M76.5 378.7h0M78 381.1h0M78.2 383.4h0M77.7 386.4h0M77.2 388.9h0M77.6 391.3h0M76 404.6h0M76.9 398.4h0M75.7 401.6h0M77.7 400.4h0M75 402.9h0M78.2 393h0M77.2 402h0M76.4 396.9h0M76.5 399.2h0M78.2 409.6h0M79.5 405.4h0M77.6 393h0M79.7 409.5h0M77 409.7h0M78.7 401.5h0M78 408.6h0M75.4 401.5h0M79.1 408.6h0M79.8 398.6h0M77.5 402.5h0M78.8 400.2h0M78.9 399h0M78.9 396h0M77.4 393.4h0M77.5 395.7h0M79 400.3h0M80.2 407.7h0M77.1 405.1h0M76 402.7h0M80.2 397.9h0M78.5 409.6h0M78.2 395.1h0M79.3 394.9h0M80 400.6h0M78.2 404.4h0M79.6 404.5h0M77.2 400.8h0M77 405h0M78.9 394.5h0M77 406.3h0M76.5 393.4h0M80.9 406h0M77.9 399.2h0M77.3 409.9h0M76.6 395.5h0M74.7 407.6h0M78.8 405.8h0M75.1 398.3h0M76.9 409.4h0M78.3 408.3h0M76.7 397h0M74.3 396h0M74.6 404.3h0M79 409.2h0M78.2 404h0M75.6 403h0M77.1 401.8h0M77.2 402.6h0M76.5 403.6h0M79.6 399h0M77 405.4h0M75.5 422.4h0M76.7 430.7h0M78 411.5h0M78.8 415.1h0M76.9 429.6h0M77 418.6h0M76.7 416.6h0M77.5 417.6h0M79 428.5h0M81.4 430.4h0M77.8 431h0M79.7 423.2h0M78.5 421.7h0M76.8 419.1h0M78.2 413.5h0M75.9 416h0M77.9 422.1h0M74 421.4h0M78.8 422.1h0M79 411.6h0M75.8 413.7h0M75.5 416.7h0M79.8 412.7h0M74.8 413.4h0M75.7 415.4h0M81 427.4h0M77.5 412.9h0M79.9 423.1h0M76.8 430.9h0M75.5 423.2h0M77.3 424.6h0M76 419.2h0M79.8 414.5h0M77.5 418.9h0M77.6 428.8h0M78.7 418.6h0M77.5 418.6h0M79 422.7h0M75.5 414.9h0M73.9 421.2h0M78 426.7h0M78.3 422.9h0M76.5 411.1h0M76.9 429.4h0M76.8 419.3h0M78.6 415.5h0M80.6 430.2h0M78.3 424.5h0M78.4 426.9h0M75.1 430.4h0M81.6 411.4h0M75.8 412.9h0M74.5 412.5h0M79.3 428.8h0M74.1 419.3h0M75.8 411.9h0M74.7 422.2h0M79.6 418.7h0M76.9 416.5h0M74 420h0M78.9 416.5h0M75.3 423.8h0M76.5 417.6h0M79.9 418.4h0M78.3 429.9h0M79.4 430h0M77 426.6h0M79 419.8h0M78.2 417.3h0M77.4 423.2h0M79.9 422.4h0M75.1 412.5h0M77 410.7h0M79.2 414h0M76.3 411.7h0M79.6 417.3h0M73.4 425.1h0M78.9 424.4h0M75.5 418.8h0M79.6 416.4h0M78.5 428.6h0M76 426h0M80.4 420.8h0M78.6 426.8h0M76.8 425.6h0M77.8 417.9h0M78.4 413.3h0M79.1 420.6h0M77.1 416.4h0M74 416.6h0M76.8 419.8h0M79.2 417h0M80.1 430.1h0M77.5 423.3h0M77.1 422h0M77.7 429h0M76.3 420.9h0M77.6 431.9h0M75.1 439.4h0M76.6 444h0M79.1 437.8h0M78.6 437.6h0M76.8 438.1h0M77.9 441.6h0M79.2 431.8h0M75.9 438.7h0M78 441.8h0M78.6 437.7h0M79.4 433.5h0M78.2 440h0M78.6 444.6h0M76 437.9h0M78.8 456.2h0M76.7 458.7h0M76.7 445.9h0M76.7 448.3h0M76.5 457.1h0M80.1 450.6h0M76.7 453.7h0M78.1 456.9h0M77.9 456.7h0M76.9 446.7h0M77.1 458.2h0M79.3 445.9h0"/>
<path fill="none" stroke="#7ccf4a" stroke-width="2.4" stroke-linecap="round" d="M94.7 342.6h0M95.5 379h0M94.6 381.9h0M95.3 384.4h0M94.6 387.1h0M95.3 390.1h0M93.3 394.8h0M90.1 403.5h0M93.1 404h0M93 401.9h0M94.9 400.7h0M95.1 394.5h0M93.4 394.9h0M95.5 400.7h0M94.8 401.4h0M94.2 394.8h0M94.2 401.8h0M98.5 400.5h0M95.4 404.5h0M96.5 398.5h0M93.4 400.8h0M94.9 397.8h0M90.7 403.7h0M95.6 403h0M92.3 395.2h0M98.7 404.5h0M96.2 401.3h0M97.3 403.9h0M93.4 396.1h0M95.4 393.8h0M94.7 396.3h0M94.8 399.3h0M94.3 403.5h0M93.6 404h0M92.7 405h0M93.6 402.5h0M96.9 394.8h0M95 399h0M95.1 400.3h0M96.4 399h0M93.1 399.8h0M93.5 400.4h0M92 398h0M94.1 393.4h0M95.6 404.5h0M94.2 403.2h0M93.8 424.7h0M95.2 426.2h0M96.9 417.5h0M92 420.1h0M97.4 412h0M94.2 412.7h0M96.3 412.6h0M95.9 419.7h0M95.7 409.2h0M93 417.9h0M93.7 412.8h0M93.6 418.8h0M97.6 426.5h0M92 419.5h0M98.5 414.1h0M92.4 419.5h0M97.5 419.2h0M94.9 413.2h0M93.1 427h0M97 426.4h0M92.7 427h0M98.6 419.2h0M92.6 422.7h0M97.1 420.8h0M96 418.9h0M92 406.8h0M97.1 413.2h0M95.8 420.1h0M95.5 428.2h0M91.3 426h0M90.4 427.5h0M97.6 405.5h0M95.3 411.6h0M96.4 423.4h0M93.4 409.5h0M92.7 425.7h0M96.1 409.2h0M93.8 416h0M94.3 420.6h0M93 409.1h0M99.4 420.2h0M96.3 420.7h0M94 407.3h0M93.9 414.4h0M93.6 424.3h0M99.1 415.9h0M95.5 423.5h0M91.7 407h0M91.9 416.6h0M96.6 407.4h0M98.1 421.7h0M91.4 420.3h0M98.1 420.6h0M92.5 417.8h0M90.1 424.2h0M94.3 419.1h0M93.8 411.6h0M96.1 410.7h0M93 414.9h0M95.7 425.9h0M98 418.3h0M96.9 417.9h0M96.6 408.2h0M93.9 423.1h0M89.7 421.5h0M93.8 419h0M92.2 407.2h0M94.3 423.7h0M93.7 406.4h0M98 420.9h0M95 416h0M98 412.5h0M96.5 418.6h0M93.8 421.5h0M94 423.2h0M94.7 405.4h0M94.7 412.5h0M94.8 422.2h0M90.4 413.8h0M96.7 414.5h0M92 427.6h0M95.3 412.4h0M92.1 426.2h0M92.8 414.9h0M97.8 428.7h0M94 418.7h0M91.9 420.2h0M94.8 424.1h0M95.9 407.1h0M94.3 408.4h0M93.3 426.1h0M98.1 415.8h0M95.6 405.9h0M95.1 428.3h0M93.6 418.1h0M92.9 407.9h0M91.5 408.4h0M95.7 423.4h0M92.3 428.1h0M94.3 407.5h0M93.7 440.6h0M95.4 443.1h0M94.8 443.2h0M95.5 442.4h0M94.5 443h0M92.7 433.9h0M94 434.1h0M92 432.3h0M94.3 443.2h0M95.9 433.5h0M92.8 437.9h0M94.9 436.1h0M95.9 444.3h0M97.9 437.5h0M94.6 437.4h0M98 435.8h0M92.4 433.5h0M90.2 440.1h0M94.9 444.8h0M95.1 435h0M95.6 450.7h0M94.6 460.3h0M96.1 460.4h0M93.2 453.9h0M92.5 448.7h0M92.9 463.2h0M94.7 453.1h0M95.1 454.3h0M90.9 450.6h0M92.7 456.2h0M94.1 449.7h0M94.2 456.6h0M93.4 450h0M94.6 455.9h0M94.4 461.5h0M93.9 451.7h0M93.6 463.8h0M97 450.9h0M95.4 452.3h0M96.7 455.9h0"/>
<path fill="none" stroke="#b5498a" stroke-width="2.4" stroke-linecap="round" d="M111.5 445.9h0M111.5 450h0M113.4 451h0M111.5 443h0M111.5 366.1h0M111.9 378.6h0M111.5 381.3h0M112.5 384.4h0M111.1 386.7h0M110.9 389.8h0M110.6 391.9h0M112.6 414.3h0M111.3 412h0M113.2 414.4h0M111 399.5h0M113.8 408.5h0M114.5 410.1h0M109 395.1h0M111.6 404.5h0M108.7 412.1h0M110.4 406.2h0M111.2 396.3h0M110.1 404.1h0M114.1 410.1h0M110.4 398.9h0M112.8 400.6h0M113.3 413.4h0M110.8 396.4h0M108.6 414.3h0M114.6 396.4h0M108.9 413.7h0M109.6 406.2h0M111.5 408.6h0M114.7 398.1h0M111.6 410.5h0M109.1 409.6h0M110.1 411.4h0M112.3 411.5h0M110.3 401.4h0M111.8 408.6h0M113.3 404.8h0M109.3 405.1h0M111.5 401.8h0M113 410.6h0M112.9 407h0M112.6 397.7h0M112.2 395.2h0M111.3 403.6h0M110 399.6h0M113.7 411.2h0M113.3 410.2h0M110.4 404.8h0M110.3 413.3h0M110.3 395.6h0M111.7 397.2h0M111.4 409.5h0M112.2 410.3h0M113.2 396.1h0M111.3 411.8h0M109.3 409.2h0M115.3 413.6h0M113.4 395h0M112.7 397.9h0M110.7 413.5h0M110.2 412.8h0M108 403.3h0M113.3 397.5h0M113.6 403.4h0M111.8 413.3h0M110.7 401.9h0M113.7 403.2h0M109.4 410.6h0M108.9 405.5h0M110.5 396.8h0M112.2 400.3h0M112.1 403.2h0M109.9 408.3h0M111.7 394.2h0M112.7 397.8h0M113.3 414.8h0M111.4 407.8h0M111 411.7h0M112.1 395.3h0M109.6 413h0M110.6 404.3h0M111.3 407.9h0M111.3 402.3h0M112.4 402.6h0M108.6 409.6h0M111.3 397.7h0M107.3 398.3h0M111.3 400.2h0M110.8 398.2h0M109 395.4h0M111.9 414.6h0M116.3 403.1h0M111 393.8h0M111.5 399h0M112 412.8h0M113.2 413.5h0M107.9 420.1h0M109 420.1h0M112.5 422.8h0M107.9 416.7h0M116.8 416.5h0M112.8 419.1h0M110.5 424.1h0M112.6 419.9h0M112.7 420.9h0M108.7 423.9h0M112 416.8h0M108.5 416.6h0M111.3 425.9h0M113.8 420.6h0M106.7 423.8h0M117.1 419.1h0M114.2 425.5h0M110.5 425.3h0M108.2 418.3h0M112.1 424.6h0M113 423.7h0M110.9 424.1h0M110.4 421.7h0M110.6 424.3h0M113 420.1h0M108.5 420.7h0M110.8 421.8h0M114.2 420.6h0M108.9 419.8h0M114.6 415.4h0M112 420.5h0M111.1 417.1h0M112.8 415.7h0M115 423.3h0M107.1 417.4h0M108.1 425.6h0M107.1 419.4h0M109.7 415h0M111.4 422.2h0M112.9 416.1h0M111.4 421.5h0M115.6 418.8h0M112.6 423.5h0M114.6 419.9h0M114 419.7h0M111 420.2h0M114.2 417.5h0M111.5 422.5h0M109.8 423h0M110 415.7h0M108.3 423.1h0M112.7 415.2h0M108 424.9h0M111.5 415.2h0M114.9 424.2h0M112 418.5h0M115.5 420.8h0M110.2 416.4h0M110.8 423.9h0M110.1 439.7h0M114.1 428.6h0M110.8 427.8h0M108.7 427.6h0M110.5 430h0M115.3 428.5h0M113.6 431.9h0M110 439.4h0M111.1 429.7h0M109.3 429.4h0M112.2 439.6h0M112.8 428.9h0M111.1 434.1h0M112.8 434.8h0M113.5 432.9h0M108.9 437.8h0M106.7 431.9h0M109.8 426.6h0M113.6 433.8h0M109 432.5h0M112.1 439.1h0M110 442.4h0M110.9 440.6h0M112.4 429.9h0M110.6 440h0M110.2 431.2h0M107.1 432.4h0M111.3 430.9h0M111.6 441.4h0M110.6 427.9h0M107 436.9h0M110.6 431.4h0M114.7 438.4h0M112.6 437.3h0M112.9 436.5h0M114.3 437.4h0M110 434.4h0M112.9 436.3h0M109.3 426h0M110.5 427h0M111.6 436.2h0M113.7 436.3h0M114 438.2h0M110.8 438h0M111.1 432.7h0M109.7 435h0M111.2 436.6h0M111.3 442.1h0M112.1 439.9h0M115.1 428.4h0M108.4 427.5h0M114 426.9h0M112.8 429.9h0M109.4 429.5h0M108.6 437.6h0M110.5 432.4h0M108.5 435.2h0M112.6 435.9h0M110.5 430.1h0M110 427h0M110.7 430.6h0M111.3 430.3h0M111.6 428.4h0M110.9 442.4h0M112.4 430.7h0M111.7 430.1h0M110.8 426.1h0M111.5 460.7h0"/>
<path fill="none" stroke="#3a9ad9" stroke-width="2.4" stroke-linecap="round" d="M128.5 466.6h0M130.4 466.9h0M126.6 467.4h0M127.9 467.2h0M127.7 467.4h0M129.2 467.4h0M129 466.9h0M126 467.1h0M128.6 374.4h0M129.2 384.7h0M127.8 387.3h0M127.7 389.7h0M128.3 392.2h0M129.6 413.5h0M127.3 394.2h0M127.5 394.3h0M127.9 416.8h0M124.5 422.6h0M129.8 418.1h0M129.3 407.3h0M129.1 410.2h0M130.3 420.4h0M128.2 418.3h0M128.2 407.9h0M130.4 413.5h0M128.5 417h0M129.3 408.7h0M124.2 423.7h0M129.7 417.1h0M131.2 419.2h0M129.3 417.6h0M128 396.4h0M128.7 417.4h0M127.6 400.2h0M129.3 409.6h0M127.6 394.6h0M130.9 414.2h0M127.6 396.5h0M129.4 418.1h0M126.3 425h0M129.2 397.3h0M125.6 406.2h0M128.8 405.5h0M125.2 410.5h0M129.2 415.6h0M126.4 396.7h0M131.1 422.7h0M127.2 414h0M131.5 413.9h0M126.6 409.2h0M127 398.2h0M130.5 404.7h0M129.6 420.9h0M128 393.2h0M127.6 402.3h0M128.4 399.3h0M126.2 412.5h0M129.5 399.1h0M127.4 414.6h0M124.3 419.5h0M127.5 416.9h0M128.6 399.7h0M125.9 404.4h0M127.7 417.9h0M129.1 414.5h0M129.1 423.8h0M127.4 393.7h0M129.2 393.1h0M124.1 424.8h0M126.8 411.7h0M127.5 423.7h0M129.4 412.4h0M127.5 413h0M127.1 403.2h0M130.5 416.5h0M126.5 406.4h0M131.6 404h0M129.1 409.6h0M128.5 397.8h0M128.1 407h0M128.6 417.3h0M127.9 420h0M129.2 425.5h0M127 417.6h0M129 422.4h0M127.9 395.7h0M127.3 403.3h0M128.7 410.7h0M130.2 410.3h0M131 405.3h0M125.4 419.5h0M127.7 413.8h0M128.3 407.7h0M123.9 418.2h0M129.5 399.6h0M129.5 423.9h0M127.7 403.6h0M125.4 422.1h0M130.6 421.5h0M130.2 416.3h0M127.5 396.8h0M129.2 398.4h0M127.7 410.6h0M130.9 423.1h0M129.1 404.1h0M128.4 393.7h0M128.3 425.1h0M126.3 420.6h0M129.8 399.3h0M128.8 404.6h0M127.6 400.4h0M131.8 423.5h0M127 405.4h0M126.9 411h0M126.1 396.2h0M129.1 393.9h0M126.6 420.9h0M128.4 393.6h0M131 423.4h0M127.5 409.4h0M129.8 399h0M128.8 398h0M130.6 417.4h0M128.9 417.4h0M130.3 404.4h0M129.7 394.8h0M125 402.9h0M127.1 404.6h0M126.5 424.3h0M126.1 416.9h0M129.2 410.9h0M127 393.8h0M129.5 408.9h0M127.5 425.7h0M127.5 422h0M128.8 420.2h0M124 421.5h0M128.8 417.2h0M130.4 420.9h0M125.1 437h0M125.2 429.8h0M128.8 432.2h0M131.4 435.8h0M125.8 428.3h0M130.5 426.9h0M129.9 432.7h0M124.8 434.1h0M128 434.7h0M130.1 428.3h0M126.9 438.8h0M127 436.6h0M129.1 431.4h0M132.9 431.8h0M130.2 439.3h0M127 426.7h0M123.9 428.6h0M130.3 434.6h0M130.9 433.8h0M132.9 428h0M127 429.2h0M127.5 430.8h0M130.7 431.1h0M130.6 437.1h0M128 436.1h0M127 433.4h0M129.2 437.8h0M132 432.9h0M127.2 429.5h0M126.2 441.2h0M128.2 434.8h0M130.8 432.7h0M128.1 439.1h0M124.9 428.6h0M130.9 441.6h0M126.4 430.3h0M126.8 431.2h0M129.6 441.3h0M127.7 431.8h0M130.1 436.2h0M130.2 435.7h0M123.7 429.2h0M130.2 432.3h0M126.4 429.9h0M129.4 437.8h0M132.5 440.1h0M125.3 432.8h0M130.5 433h0M128.3 442.5h0M130.8 441.2h0M130.3 434.2h0M128.2 440.1h0M130 435.9h0M129.9 430.8h0M129.6 435.3h0M126.9 433.2h0M130.6 432h0M131.5 438.2h0M127.1 440.2h0M129.7 431.6h0M128.4 437.3h0M130 432.2h0M124.6 438.4h0M127.2 431.6h0M129.1 433.1h0M127.6 435.8h0M129.4 442.6h0M127.8 435.8h0M127.1 428.9h0M127.7 435.1h0M130.7 429.2h0M126.8 454.8h0M128.5 456.2h0M128.2 457.4h0M129.5 454.5h0M128.3 450.2h0M129.2 458.8h0M129.8 444.4h0M129.6 449.7h0M127.2 457.8h0M128.6 455.6h0M127.7 450.1h0M127.9 446.1h0M129.8 444h0M127.3 453.6h0M128 447.6h0M127.7 455.1h0M128.2 444.2h0M130.1 456.1h0M127.2 450.5h0"/>
<path fill="none" stroke="#c86a1a" stroke-width="2.4" stroke-linecap="round" d="M145.5 337h0M145.8 351.5h0M145.8 358.4h0M146.9 360.7h0M144.9 363.4h0M146 366.5h0M146.2 369.2h0M148.4 371.9h0M140.8 383.8h0M148.7 371.3h0M145 383.3h0M147.1 381.6h0M144.7 373.1h0M144 382.1h0M148.5 375.4h0M145.2 379.8h0M149.5 380.8h0M145.7 381.3h0M145.1 380.2h0M150 383.3h0M142.6 384.4h0M145.1 382.1h0M147.8 378.1h0M143.6 371.2h0M147.8 378.6h0M150.3 378.5h0M141.8 378.4h0M144.3 373.6h0M147.3 383.3h0M148.2 377.9h0M141.9 381.4h0M146.6 379.1h0M145.9 371.3h0M147.9 381.2h0M144.3 376.3h0M146.1 384.5h0M144.3 380h0M147.1 377.5h0M146.4 375.6h0M144.1 378.5h0M146.2 374.8h0M143.2 383.1h0M143.6 372.2h0M142.5 384h0M140.7 381.1h0M144.6 381.6h0M141.7 377.4h0M146.6 376.3h0M145.5 381.1h0M147.3 379.2h0M144.8 379.5h0M144.9 371.4h0M142.5 374.6h0M147.6 377.4h0M145.5 383.6h0M148.5 382.7h0M145.4 377.1h0M145 383.6h0M144.5 375.7h0M148.7 379.1h0M143.5 374.3h0M145.9 378.1h0M146.4 374.1h0M147.8 389.6h0M142.4 386.8h0M145.6 399.1h0M146.5 387.8h0M146.3 398.3h0M147.6 394.7h0M147 398h0M141.7 398.1h0M144.4 391.9h0M146.4 395.9h0M145.9 387.1h0M147.3 397.6h0M145.2 396.3h0M145.3 395.9h0M145.5 389.8h0M146.6 386.1h0M148.7 388h0M144.8 389.1h0M143.6 392.4h0M147.9 391.8h0M144.8 385.3h0M142.2 396.7h0M146.9 399.9h0M142.7 399.9h0M147.6 388h0M147.8 386.3h0M145 386.5h0M142.3 392.5h0M141.3 392.4h0M145.7 395.1h0M145.9 399.9h0M147.1 388.5h0M145.9 399h0M149.8 396.8h0M148.6 392h0M145.6 395.3h0M146.7 398.1h0M144.1 396.6h0M141.9 388.2h0M144.8 397.3h0M147.1 399.5h0M149.8 385.6h0M147.3 399h0M147.7 390.8h0M151.1 396.7h0M143.4 395.5h0M146.4 391.2h0M143.9 386.1h0M149 395.3h0M143 399.1h0M146.3 394.4h0M145 393.7h0M148.2 389.2h0M146 385.3h0M149.9 390.6h0M143 393.1h0M144.9 391.3h0M145.4 385.2h0M151.3 390.6h0M145.9 389.1h0M149.5 392.8h0M146.6 389.3h0M144.1 388.9h0M146.9 396.3h0M147.7 392.7h0M148.4 391.9h0M149.8 400.6h0M142.2 407.4h0M146.4 407h0M146.5 412.1h0M143.7 403.4h0M146.5 414h0M147.9 411.8h0M148.6 407.2h0M144.6 412.8h0M146.3 409.4h0M143.7 413.4h0M148.4 418.4h0M143.3 418.9h0M143.7 402.6h0M145.3 406.1h0M149 419.9h0M144 411.6h0M143.2 406.4h0M145.4 410h0M144.4 409.3h0M142.3 409h0M147.7 403.2h0M144.6 412.4h0M147.8 410.4h0M146.3 404.6h0M143.2 411.1h0M147.4 414.2h0M145.8 420.5h0M144.2 415.7h0M145.2 415.8h0M144.2 402.7h0M146 418.8h0M144 404.1h0M150 413.3h0M145.6 413h0M144.9 407.6h0M144.3 402.4h0M146.1 400.8h0M147.8 415.2h0M148 407.8h0M144.4 409.2h0M147 402.7h0M142 401.6h0M147.3 400.4h0M144.4 418.4h0M148.7 413.7h0M147.3 405.8h0M144.6 414.5h0M145.1 413.1h0M144.8 419.5h0M144.6 417.7h0M144.8 417.5h0M144.1 417.3h0M148.9 407.6h0M145.4 412.7h0M146.9 420h0M145.3 401.1h0M146.6 420.4h0M148.6 403.2h0M142.9 406.5h0M145.9 416h0M149.7 413.7h0M146.5 412.3h0M146.3 412.8h0M142.1 403.3h0M144.2 417.3h0M144.7 400.2h0M144.4 412.3h0M144.4 406.5h0M148.9 405.6h0M143.7 408.2h0M145.9 414.3h0M146 408.5h0M144.7 403.9h0M144.7 439.8h0M146 452.6h0M144.8 464.3h0M147.6 436.2h0M148 450h0M147 432.3h0M143.4 455.3h0M144.9 436.5h0M145.9 460.2h0M145 437.4h0M148 451.2h0M146 452.3h0M145.8 464.6h0M145.7 447h0M147.9 437.9h0M144.4 462h0M145.1 421.5h0M147.8 437.3h0M144.7 437.2h0M143.2 444.4h0M146.5 447.1h0M147.7 452.6h0M146.8 450.5h0M145 433.6h0M144.4 458h0M144.6 427.3h0M142.6 457.6h0M145.5 421.2h0M146.8 435.6h0M145.3 443.6h0M146.2 432.1h0M145.3 438.7h0M143.9 427.5h0M146.3 434.6h0M143.8 438.7h0M147 460.5h0M146.1 457.8h0M149.2 451h0M145 439.2h0M145.1 448.8h0M145.4 421.9h0M144 433.7h0M145.9 444.6h0"/>
<path fill="none" stroke="#e070d0" stroke-width="2.4" stroke-linecap="round" d="M162.5 373.9h0M162.5 376.1h0M162.5 370.6h0M164.4 375.6h0M162.3 351.5h0M162.7 354.2h0M162.3 362.5h0M166.5 380.8h0M160.7 385.3h0M160.9 378.4h0M162.2 393.8h0M164.8 386.7h0M161.8 387.2h0M162.4 383.6h0M160.3 385.4h0M161.6 389.5h0M158.4 380.3h0M160.2 394.9h0M163.1 391.3h0M160.9 383.4h0M166 383.5h0M162.5 383h0M162.4 391.6h0M161.1 377h0M161.7 384h0M162.8 386.9h0M161.1 382.2h0M160.6 378h0M163.5 387.3h0M161.2 386.4h0M164.7 382.6h0M164.1 391.2h0M159.4 391.6h0M162.6 391.8h0M161 385.2h0M165.7 382.3h0M162.3 383.4h0M164 390.6h0M162.3 382.4h0M162.9 382.6h0M166 376.5h0M157.3 382.8h0M162 387.5h0M158.5 393.2h0M158.7 383.9h0M163.1 380.5h0M163 388.5h0M161.2 380.4h0M165.5 378.1h0M163.8 377.7h0M162.8 376.5h0M158.3 386.2h0M167.6 383.2h0M165.9 390.6h0M166.3 381.7h0M162.1 389.8h0M160.6 386.5h0M165.6 377.8h0M165.4 387.6h0M160.3 378.1h0M162.3 382.8h0M160.1 389.3h0M163.1 388.2h0M160.2 383.5h0M158.7 386.6h0M162 387.9h0M158.9 383h0M163.7 385.6h0M163.1 376.5h0M166 391.4h0M165.8 388.3h0M161.2 379.3h0M159.5 394.8h0M158 380.9h0M164.2 392h0M161.1 390.3h0M163.9 380.7h0M160.7 384.6h0M165 377.6h0M163.6 392.4h0M162.3 380.4h0M164.2 384.1h0M157.8 388.5h0M163.4 380.4h0M164 377.5h0M163.8 377.9h0M161.9 390.5h0M160.1 392.1h0M163.4 396.1h0M163.2 399.9h0M164.7 395.4h0M164.2 397.9h0M161.1 395.8h0M166 400.6h0M161.4 399.5h0M160.2 400.7h0M164.1 397.1h0M162 396.3h0M157.6 401.1h0M164.3 395.3h0M162.3 400.1h0M165.7 396.4h0M160.9 395.4h0M162.6 399h0M159.2 399.9h0M160.8 395.7h0M166.4 395.7h0M161.2 396.7h0M160.6 395.9h0M164.3 396.7h0M162.1 401.2h0M163.7 400h0M164.9 398.5h0M161.9 398.2h0M165.4 410.8h0M163 429.4h0M163.2 438.2h0M161.1 426.7h0M165.1 402.2h0M162.7 406.4h0M164.1 411.6h0M159.6 415.6h0M160.5 435.5h0M161.8 438.6h0M164.4 420.8h0M163.8 401.4h0M160.2 403.9h0M160 416h0M164.6 413.8h0M160.1 423h0M163.3 433.2h0M161.3 403.3h0M162.4 404.6h0M162.5 424.8h0M160.6 438.3h0M165.6 423.1h0M161.6 424h0M165 437.4h0M164.8 410.6h0M160.5 436.1h0M163.3 414.9h0M162.4 405.7h0M161.8 403.9h0M163.1 437.8h0M165.2 419.6h0M161.7 414.2h0M160.5 439.6h0M162.5 404.4h0M162.6 417.1h0M161.9 415.9h0M160.2 418.5h0M161.3 408.2h0M164 432.4h0M161.6 422.2h0M163.4 413.2h0M159.9 422.9h0M160.6 418.7h0M164.8 433.1h0M161.2 416.7h0M164.9 410.6h0M162.7 436h0M163.5 417.2h0M161.6 425.2h0M163.6 421.2h0M160.1 427.1h0M162.1 439.7h0M159.2 402.5h0M162.8 437.1h0M160.6 404.3h0M163 403.7h0M163.4 438.6h0M166.7 423.3h0M162.6 438.3h0M161 408.1h0M161 433.9h0M163.3 407.5h0M163 426h0M162.4 404.2h0M162.4 416.8h0M162.6 415.6h0M159.2 409.6h0M162.7 429h0M162.7 405.2h0M164.6 423h0M163.7 432.3h0M161.5 427.8h0M163.1 461.6h0M161.5 441.3h0M161.4 459.9h0M160.1 444.3h0M161.5 459.1h0M162.6 455h0M160.5 440h0M162.7 459.7h0M163.1 441.2h0M162.9 464h0M164.1 450.5h0M163.1 462.8h0M162.7 449.1h0"/>
<path fill="none" stroke="#a58be6" stroke-width="2.4" stroke-linecap="round" d="M179.5 417.4h0M179.5 345.2h0M179.5 354.1h0M181.4 353h0M181.4 415.8h0M179.5 358h0M177.6 416.7h0M179.5 341.7h0M180.5 346.9h0M179.5 350.6h0M179.5 410.2h0M179.5 403.1h0M181.4 342.8h0M178.5 347h0M179.5 413h0M177.6 341.6h0M179.3 318.3h0M178.9 370h0M183.8 365.2h0M179.9 363h0M178.5 365.6h0M177.6 372.1h0M180 369.8h0M178.1 376.1h0M180.1 371.1h0M176.2 367.1h0M174.5 375.7h0M179.2 375.4h0M185.1 372.6h0M179.6 376.3h0M179.2 377.7h0M174.8 371.3h0M177.4 369.5h0M175.4 378.9h0M181.7 378.9h0M182.1 367.9h0M178.4 373.9h0M178 370.9h0M180.6 378.9h0M179.4 366.2h0M178.3 378.8h0M180.5 365.8h0M178.1 379.7h0M183.3 377.9h0M176.5 375.5h0M180.8 371.4h0M179.3 371.8h0M181.9 375.9h0M178.1 369.2h0M174.9 368.9h0M176.7 376.3h0M180.6 375.1h0M179.4 373h0M178.3 362.6h0M183.1 374.5h0M182.5 375.8h0M177 377.7h0M181.5 379.2h0M180.1 374.5h0M180.2 362.1h0M179.8 373.4h0M179.7 371.7h0M179 378.7h0M181.4 370h0M180.8 362.7h0M177.2 364.3h0M179.2 360.8h0M181.2 360.8h0M181.1 361.6h0M181.8 373.1h0M180.5 377.5h0M180.4 368.5h0M180.3 367.5h0M179.7 373.2h0M177.9 370.1h0M182 376.2h0M179.3 361.1h0M181.9 374.4h0M181.5 377.9h0M175.8 377.6h0M183.3 379.6h0M178.6 374.3h0M182 367.3h0M180.5 371h0M177.2 379.7h0M176.7 367.5h0M181.5 364.7h0M178.9 376.6h0M180.9 371.6h0M177 378.8h0M176.5 369.8h0M179.6 360.4h0M177.6 379.5h0M180.7 377.7h0M180 381.3h0M182 380.7h0M176 385.7h0M180.5 388.6h0M177.2 386.4h0M178.6 388.5h0M176.6 383.6h0M181 385.7h0M180.5 392h0M180.6 389.8h0M179.1 385.7h0M176 390.8h0M180.8 384.2h0M175.6 387.7h0M179.6 388.2h0M178.5 384.9h0M174.5 380.8h0M180.7 391.4h0M180.2 381.8h0M175.3 386.9h0M175.3 390h0M184.7 390.9h0M179.8 380.9h0M181.3 383.7h0M178.6 381.3h0M178.6 386.6h0M180.4 380.2h0M183.9 385.6h0M177.6 390.4h0M173.4 385.1h0M176.7 391.5h0M177.7 383.4h0M178 383.3h0M179.4 385.1h0M180.5 385.2h0M173.6 390.9h0M182.5 380.2h0M176.4 383h0M179.2 390.5h0M176 391.7h0M181.6 391.1h0M181.8 388.9h0M174.8 380.7h0M178 388.3h0M177.8 390.8h0M176.2 386.5h0M179.5 383h0M176.2 390.5h0M180.2 380.9h0M174.2 387.6h0M176.5 386.5h0M176.3 391.4h0M182.8 392.9h0M176.2 388.8h0M182.7 386.6h0M179.1 392.7h0M178.4 390.3h0M179 386.9h0M179.3 382.6h0M178.4 398.2h0M175.9 400.2h0M177.6 397.3h0M180.7 400h0M178.5 400.8h0M180.3 398.4h0M181.7 395.3h0M174.7 396.3h0M179 395.9h0M176.5 400.7h0M182.2 395.8h0M181.4 394.3h0M182.5 397.7h0M176.8 397.8h0M179.2 397.4h0M178.5 396.5h0M178.8 395.6h0M181.1 394h0M181.4 393.3h0M175.1 393.6h0M177.3 396.4h0M178.1 396.6h0M181.3 398h0M179.6 396.9h0M179 395.8h0M181.7 400.3h0M176.8 396.9h0M178.9 400.4h0M178.3 398h0M185.5 396h0M181 396.1h0M179.2 437.2h0M179.6 455.1h0"/>
<path fill="none" stroke="#2e8b62" stroke-width="2.4" stroke-linecap="round" d="M196.5 357.7h0M198.4 358.6h0M196.5 352h0M196.5 430.8h0M196.5 434h0M198.4 351.7h0M196.5 438.8h0M198.4 437.5h0M198.4 432.2h0M194.6 358h0M194.6 353.5h0M194.6 437.3h0M196.3 324.4h0M196.7 337.1h0M193.6 373.7h0M193.5 374.6h0M197.7 374.5h0M194.9 372.8h0M199.6 369.2h0M197.1 372.3h0M193.5 367.2h0M196.9 370.5h0M195.1 365.9h0M199.2 370.6h0M197 372.2h0M199.9 362.1h0M198.3 371.9h0M200.6 373.9h0M196.7 379.9h0M195.4 363.3h0M198.9 377.6h0M199.1 373.7h0M197.2 369.7h0M198.7 368.8h0M199 372.5h0M200.9 367h0M197.5 360h0M194.3 365.4h0M195.6 376.7h0M196.4 361.9h0M198.2 368.6h0M200.6 372h0M198.9 360.5h0M196.6 361h0M196.7 377.8h0M193.7 361.9h0M193.8 377.2h0M195.2 364.2h0M195.4 364.1h0M200.5 373.7h0M196.1 373.9h0M194.9 365.8h0M193.7 367.7h0M196.5 370.3h0M199.5 366.7h0M197.9 374h0M199.1 362.8h0M196.4 361.6h0M200.5 364.3h0M195 368.6h0M193.5 371.6h0M192.5 375.6h0M197.9 371.5h0M196.7 368.2h0M197.9 369.1h0M191.1 364.9h0M193.8 374.4h0M196.4 372.7h0M192 370.7h0M192.5 363.9h0M195.4 362.3h0M193.3 379.2h0M193.7 363.3h0M197.9 369.4h0M199.5 372h0M190.1 366.3h0M191.9 373.5h0M198.1 376.1h0M196.1 360.5h0M198.5 366.1h0M196.9 370.3h0M192.9 373.8h0M195.8 375.6h0M195.5 364.3h0M197.9 363h0M197.1 376.6h0M194.7 375.8h0M196.5 367.4h0M198.9 360.9h0M196.4 379.8h0M200.2 371.1h0M194.7 395.6h0M192.6 382.9h0M201.2 385.7h0M202.9 384.3h0M197.9 393h0M197.1 390.9h0M197.8 388.5h0M199.9 384.2h0M199.3 380.4h0M198.2 389.2h0M195.2 385.3h0M194.3 398.2h0M199.9 383.5h0M198.5 387.3h0M195.7 388.8h0M199.2 395.7h0M198.8 388.5h0M196.9 395h0M197 391h0M195.9 397.8h0M200.5 395.1h0M199.9 382.2h0M194.5 384h0M195.3 384.6h0M195.5 394.2h0M194.7 381.3h0M194.1 397.9h0M198.2 392.7h0M195.9 385.8h0M201.1 380.1h0M200.6 392.5h0M199.6 382h0M195.3 386.6h0M197.6 398.3h0M196 393.1h0M193.2 384.7h0M193.6 392.4h0M193.8 389.3h0M194.8 395.9h0M197.6 393.3h0M196.2 394.9h0M197.2 393.6h0M196.4 397.4h0M200.2 389.3h0M195.6 387.4h0M198.4 388.9h0M195.8 391.2h0M196.9 382.4h0M197.6 398.4h0M196.9 389.3h0M196.9 385.3h0M198.8 384.2h0M197.3 382.1h0M194.6 388.9h0M199.7 400.3h0M195.9 382.4h0M198.8 400.2h0M194.8 381.2h0M198.4 381.7h0M199 389.6h0M198.1 393.9h0M200.5 396.4h0M196.3 396.2h0M192.5 387h0M195.7 389.2h0M197.4 391.1h0M197.4 393h0M195.2 383.1h0M194.5 395.7h0M194.8 399.3h0M199.7 391.9h0M196 392.3h0M198 390.3h0M197.9 390.6h0M201 382.4h0M199.2 399.3h0M197 381.7h0M196.5 397.4h0M192.6 389.8h0M199.5 382.5h0M196.6 389.8h0M197.1 398.5h0M200.9 386h0M193.5 389.9h0M197.3 382h0M197.2 409.2h0M196.3 423.9h0M196.8 404.4h0M198.6 408h0M195.5 411.1h0M196.9 411.4h0M194.3 420.3h0M197.4 420.4h0M193.2 418.5h0M195.4 408.7h0M195.9 408.8h0M195.1 422.7h0M194.3 425.9h0M196.4 422.4h0M198.1 409.1h0M196.4 407.2h0M197.6 404.7h0M195.6 417.5h0M196.5 412.5h0M195.8 424.9h0M197.8 413.5h0M194.6 417.2h0M196.5 423.7h0M196.5 421h0M195.2 415.6h0M197.9 410.2h0M193.5 410.3h0M195.1 402.8h0M194.4 404.7h0M195 413.8h0M197.6 415.3h0M194.1 402.4h0M195.9 419.4h0M197.5 420.6h0M197 422.4h0M196.1 409.1h0M196.7 416.1h0M197 421.5h0M193.3 412.3h0M196.5 455.1h0"/>
<path d="M48.8 314.2 V518.6 H210" fill="none" stroke="#1a1a1a" stroke-width="1.7"/>
<line x1="46.2" y1="518.6" x2="48.8" y2="518.6" stroke="#1a1a1a" stroke-width="1.7"/>
<text x="42.4" y="520.5" font-size="5.8" text-anchor="end" font-weight="bold" textLength="7.6" lengthAdjust="spacingAndGlyphs">10</text>
<text x="43" y="519.3" font-size="3.2" text-anchor="start" font-weight="bold">0</text>
<line x1="46.2" y1="467.5" x2="48.8" y2="467.5" stroke="#1a1a1a" stroke-width="1.7"/>
<text x="42.4" y="469.4" font-size="5.8" text-anchor="end" font-weight="bold" textLength="7.6" lengthAdjust="spacingAndGlyphs">10</text>
<text x="43" y="468.2" font-size="3.2" text-anchor="start" font-weight="bold">1</text>
<line x1="46.2" y1="416.4" x2="48.8" y2="416.4" stroke="#1a1a1a" stroke-width="1.7"/>
<text x="42.4" y="418.3" font-size="5.8" text-anchor="end" font-weight="bold" textLength="7.6" lengthAdjust="spacingAndGlyphs">10</text>
<text x="43" y="417.1" font-size="3.2" text-anchor="start" font-weight="bold">2</text>
<line x1="46.2" y1="365.3" x2="48.8" y2="365.3" stroke="#1a1a1a" stroke-width="1.7"/>
<text x="42.4" y="367.2" font-size="5.8" text-anchor="end" font-weight="bold" textLength="7.6" lengthAdjust="spacingAndGlyphs">10</text>
<text x="43" y="366" font-size="3.2" text-anchor="start" font-weight="bold">3</text>
<line x1="46.2" y1="314.2" x2="48.8" y2="314.2" stroke="#1a1a1a" stroke-width="1.7"/>
<text x="42.4" y="316.1" font-size="5.8" text-anchor="end" font-weight="bold" textLength="7.6" lengthAdjust="spacingAndGlyphs">10</text>
<text x="43" y="314.9" font-size="3.2" text-anchor="start" font-weight="bold">4</text>
<line x1="60.5" y1="518.6" x2="60.5" y2="524.1" stroke="#1a1a1a" stroke-width="1.7"/>
<line x1="77.5" y1="518.6" x2="77.5" y2="524.1" stroke="#1a1a1a" stroke-width="1.7"/>
<line x1="94.5" y1="518.6" x2="94.5" y2="524.1" stroke="#1a1a1a" stroke-width="1.7"/>
<line x1="111.5" y1="518.6" x2="111.5" y2="524.1" stroke="#1a1a1a" stroke-width="1.7"/>
<line x1="128.5" y1="518.6" x2="128.5" y2="524.1" stroke="#1a1a1a" stroke-width="1.7"/>
<line x1="145.5" y1="518.6" x2="145.5" y2="524.1" stroke="#1a1a1a" stroke-width="1.7"/>
<line x1="162.5" y1="518.6" x2="162.5" y2="524.1" stroke="#1a1a1a" stroke-width="1.7"/>
<line x1="179.5" y1="518.6" x2="179.5" y2="524.1" stroke="#1a1a1a" stroke-width="1.7"/>
<line x1="196.5" y1="518.6" x2="196.5" y2="524.1" stroke="#1a1a1a" stroke-width="1.7"/>
<text x="0" y="0" font-size="9" text-anchor="end" font-weight="normal" stroke="#000" stroke-width="0.45" transform="translate(63 532.6) rotate(-48)">2023.8.8-8.10</text>
<text x="0" y="0" font-size="9" text-anchor="end" font-weight="normal" stroke="#000" stroke-width="0.45" transform="translate(80 532.6) rotate(-48)">2023.9.8-9.10</text>
<text x="0" y="0" font-size="9" text-anchor="end" font-weight="normal" stroke="#000" stroke-width="0.45" transform="translate(97 532.6) rotate(-48)">2023.10.8-10.10</text>
<text x="0" y="0" font-size="9" text-anchor="end" font-weight="normal" stroke="#000" stroke-width="0.45" transform="translate(114 532.6) rotate(-48)">2023.11.8-11.10</text>
<text x="0" y="0" font-size="9" text-anchor="end" font-weight="normal" stroke="#000" stroke-width="0.45" transform="translate(131 532.6) rotate(-48)">2023.12.8-12.10</text>
<text x="0" y="0" font-size="9" text-anchor="end" font-weight="normal" stroke="#000" stroke-width="0.45" transform="translate(148 532.6) rotate(-48)">2024.1.8-1.10</text>
<text x="0" y="0" font-size="9" text-anchor="end" font-weight="normal" stroke="#000" stroke-width="0.45" transform="translate(165 532.6) rotate(-48)">2024.2.8-2.10</text>
<text x="0" y="0" font-size="9" text-anchor="end" font-weight="normal" stroke="#000" stroke-width="0.45" transform="translate(182 532.6) rotate(-48)">2024.3.8-3.10</text>
<text x="0" y="0" font-size="9" text-anchor="end" font-weight="normal" stroke="#000" stroke-width="0.45" transform="translate(199 532.6) rotate(-48)">2024.4.8-4.10</text>
<text x="59.3" y="312" font-size="9" text-anchor="middle" font-weight="normal" fill="#555" textLength="11.7" lengthAdjust="spacingAndGlyphs" >121</text>
<text x="76.4" y="312" font-size="9" text-anchor="middle" font-weight="normal" fill="#555" textLength="11.7" lengthAdjust="spacingAndGlyphs" >126</text>
<text x="92.5" y="312" font-size="9" text-anchor="middle" font-weight="normal" fill="#555" textLength="11.7" lengthAdjust="spacingAndGlyphs" >101</text>
<text x="109.6" y="312" font-size="9" text-anchor="middle" font-weight="normal" fill="#555" textLength="7.8" lengthAdjust="spacingAndGlyphs" >92</text>
<text x="125.8" y="312" font-size="9" text-anchor="middle" font-weight="normal" fill="#555" textLength="11.7" lengthAdjust="spacingAndGlyphs" >247</text>
<text x="145.6" y="312" font-size="9" text-anchor="middle" font-weight="normal" fill="#555" textLength="11.7" lengthAdjust="spacingAndGlyphs" >220</text>
<text x="162" y="312" font-size="9" text-anchor="middle" font-weight="normal" fill="#555" textLength="11.7" lengthAdjust="spacingAndGlyphs" >723</text>
<text x="178.1" y="312" font-size="9" text-anchor="middle" font-weight="normal" fill="#555" textLength="11.7" lengthAdjust="spacingAndGlyphs" >703</text>
<text x="196.6" y="312" font-size="9" text-anchor="middle" font-weight="normal" fill="#555" textLength="11.7" lengthAdjust="spacingAndGlyphs" >519</text>
<line x1="62.9" y1="301.8" x2="75.9" y2="301.8" stroke="#4a72d0" stroke-width="2"/>
<text x="69.4" y="300" font-size="11.5" text-anchor="middle" font-weight="normal" fill="#444" textLength="13.5" lengthAdjust="spacingAndGlyphs" >n.s.</text>
<line x1="78.3" y1="291.9" x2="92.5" y2="291.9" stroke="#4a72d0" stroke-width="2"/>
<text x="85.4" y="290.1" font-size="11.5" text-anchor="middle" font-weight="normal" fill="#444" textLength="13.5" lengthAdjust="spacingAndGlyphs" >n.s.</text>
<line x1="95.4" y1="301.8" x2="109.2" y2="301.8" stroke="#4a72d0" stroke-width="2"/>
<text x="102.3" y="300" font-size="11.5" text-anchor="middle" font-weight="normal" fill="#444" textLength="13.5" lengthAdjust="spacingAndGlyphs" >n.s.</text>
<line x1="113.4" y1="291.9" x2="127" y2="291.9" stroke="#4a72d0" stroke-width="2"/>
<text x="120.2" y="290.1" font-size="11.5" text-anchor="middle" font-weight="normal" fill="#444" textLength="13.5" lengthAdjust="spacingAndGlyphs" >n.s.</text>
<line x1="129.3" y1="301.5" x2="142.5" y2="301.5" stroke="#4a72d0" stroke-width="2"/>
<text x="135.9" y="302.3" font-size="12.5" text-anchor="middle" font-weight="normal" fill="#444" textLength="15.2" lengthAdjust="spacingAndGlyphs" >****</text>
<line x1="145.6" y1="292.5" x2="158.5" y2="292.5" stroke="#4a72d0" stroke-width="2"/>
<text x="152.1" y="290.7" font-size="11.5" text-anchor="middle" font-weight="normal" fill="#444" textLength="13.5" lengthAdjust="spacingAndGlyphs" >n.s.</text>
<line x1="164.6" y1="301.3" x2="177.9" y2="301.3" stroke="#4a72d0" stroke-width="2"/>
<text x="171.2" y="302.1" font-size="12.5" text-anchor="middle" font-weight="normal" fill="#444" textLength="15.2" lengthAdjust="spacingAndGlyphs" >****</text>
<line x1="181.4" y1="291.8" x2="194.5" y2="291.8" stroke="#4a72d0" stroke-width="2"/>
<text x="187.9" y="290" font-size="11.5" text-anchor="middle" font-weight="normal" fill="#444" textLength="13.5" lengthAdjust="spacingAndGlyphs" >n.s.</text>
<text x="0" y="0" font-size="10" text-anchor="middle" font-weight="bold" textLength="188.6" lengthAdjust="spacingAndGlyphs" transform="translate(29.8 416.4) rotate(-90)">Serum EG.5 Neutralizing antibody titer  (IC50)</text>
<text x="11" y="294" font-size="18" text-anchor="start" font-weight="normal" fill="#222" >c</text>
<rect x="291.3" y="408" width="12" height="111.2" fill="#f8eee0"/>
<rect x="310.5" y="408.5" width="12" height="110.7" fill="#f8eee0"/>
<rect x="329.7" y="383.9" width="12" height="135.3" fill="#f8eee0"/>
<rect x="348.9" y="380.3" width="12" height="138.9" fill="#f8eee0"/>
<line x1="285" y1="464.2" x2="368" y2="464.2" stroke="#777" stroke-width="1" stroke-dasharray="1.2 2.2"/>
<rect x="291.3" y="408" width="12" height="111.2" fill="none" stroke="#1a1a1a" stroke-width="1.7"/>
<rect x="310.5" y="408.5" width="12" height="110.7" fill="none" stroke="#1a1a1a" stroke-width="1.7"/>
<rect x="329.7" y="383.9" width="12" height="135.3" fill="none" stroke="#1a1a1a" stroke-width="1.7"/>
<rect x="348.9" y="380.3" width="12" height="138.9" fill="none" stroke="#1a1a1a" stroke-width="1.7"/>
<path fill="none" stroke="#c86a1a" stroke-width="2.6" stroke-linecap="round" d="M297.3 462.1h0M299.4 462.5h0M295.2 462.3h0M301.5 462.9h0M293.1 462.3h0M297.3 385.1h0M298.5 386.8h0M292.8 463.5h0M297.3 382.8h0M293.9 463.3h0M298.1 383.3h0M298.6 386.9h0M293.7 462.4h0M302.4 462.4h0M292 462.6h0M301 462.1h0M293.7 462h0M297.4 348.4h0M297.4 365.6h0M297.3 399.1h0M294.7 399.9h0M295.4 396.2h0M300.8 396.4h0M297.3 393.1h0M300.2 407.4h0M296.6 403.4h0M294.9 388.8h0M298.7 398.1h0M298 399.8h0M299.7 388.1h0M300.1 400.6h0M297.5 390.9h0M298 401.6h0M295 402.7h0M294.2 397.5h0M296.9 390.6h0M295.6 401h0M301 404.9h0M293.7 403.5h0M296.8 402.9h0M294.1 401.6h0M295.8 394.1h0M294.7 394h0M296.5 396.6h0M298.9 397.6h0M298.2 390.8h0M299.8 401.3h0M298.4 397.9h0M298.4 404.8h0M298.7 402h0M300 403.3h0M300.8 398.3h0M295.8 435.4h0M292.5 448.5h0M301.9 459.4h0M293 436.5h0M297.2 408.2h0M293.3 460h0M295.1 412.4h0M298 437.1h0M292.4 454.3h0M300.1 444h0M297.8 443.1h0M301.4 459.7h0M293.9 455.2h0M298.2 444.8h0M301.6 418.9h0M299.6 412.3h0M301.2 433.4h0M296.1 439.1h0M294.3 447h0M298.1 440.8h0M295.3 446.6h0M299.8 411.3h0M294.4 456.3h0M295.4 421.7h0M298.6 457.7h0M296.8 432.3h0M295.3 455.1h0M296.3 432h0M293.1 459.6h0M295.2 462h0M293.8 426h0M299.3 440.3h0M298.8 426.8h0M292.8 460.2h0M298.9 454.3h0M298.4 423.3h0M296.8 455h0M293.1 441.2h0M294.7 434.9h0M294.6 443h0M300.9 459.6h0M292.5 454h0M299.9 430.6h0M300.2 416.1h0M297.6 434.7h0M294 433h0M298.8 429.4h0M295.3 433.6h0M296.9 410.9h0M299.3 429.7h0M301.5 426.3h0M292.8 423.1h0M299.3 431.5h0M294.4 416.5h0M299.5 456h0M300.7 444.2h0M299 453.1h0M301.6 453.9h0M293.5 411.8h0M299.6 421.7h0M295.7 447.7h0M297.4 456.9h0M301 409.8h0M296.7 459.1h0M293.5 420.4h0M301.9 426.9h0M295.8 422.2h0M295.1 461.7h0M298.9 456.8h0M297.1 409.1h0M294.6 443.5h0M301.3 417h0M295.1 438.8h0M295.5 417.8h0M296.7 426.9h0M295.2 416.4h0M296.6 435.3h0M300.1 452.9h0M296.2 433.2h0M292.7 455.5h0M294.3 419.5h0M293.2 457.9h0M293.2 456.1h0M293.2 437.3h0M301 413.1h0M296.3 426.7h0M295.5 425.7h0M299.3 442.7h0M300.5 412.2h0M296.5 429.4h0M300.3 435.9h0M300.7 418.9h0M297.8 418.7h0M296.9 453.1h0M301.9 455.7h0M302.1 449.1h0M298.1 418.3h0M297.7 462h0M299.1 451.7h0M301.8 439.7h0M297.9 421.1h0M297.8 438.1h0M297.4 460.1h0M296.5 458.3h0M294.5 456.5h0M298.4 443.1h0M296.5 449.7h0M294 455.7h0M299.5 430.2h0M301.5 461.9h0M295.6 424.7h0M298.7 414.5h0M293.8 418h0"/>
<path fill="none" stroke="#dc70d8" stroke-width="2.6" stroke-linecap="round" d="M316.5 404.1h0M316.5 382.6h0M318.6 383.7h0M316.5 400.8h0M318.6 403.6h0M316.5 391.3h0M314.4 402.8h0M318.6 390.3h0M316.5 388h0M314.4 382.6h0M314.4 391.5h0M316.5 395.6h0M316.9 359.9h0M316.6 365h0M316.7 373.6h0M319.6 409.8h0M318.4 417.8h0M312.2 414.4h0M318.7 409.9h0M315.8 412.4h0M317.2 418.8h0M315.6 407.8h0M312.6 412.4h0M313.6 416.9h0M318.6 409.6h0M320.4 409.9h0M312.7 413.3h0M312.3 418.5h0M318.1 416.5h0M312.3 410.9h0M315.8 418.8h0M319.7 414.6h0M317.6 406h0M315.5 415.8h0M312.5 415.7h0M319.1 413.8h0M312.5 415.4h0M319.5 411.8h0M316.3 413.5h0M319 412.4h0M316.7 416.4h0M312.6 408.7h0M320.4 417.9h0M316.1 406.6h0M318.7 413.6h0M314.7 419.9h0M320.1 426h0M313 420.3h0M320 421.5h0M319.2 425.1h0M312.1 430.9h0M317.2 433.4h0M319.1 433h0M316.3 420.9h0M320.6 425.9h0M321.6 429.4h0M321.7 425.2h0M313.7 428.9h0M318.1 424.1h0M312.9 430h0M313.9 429.1h0M312.9 422.7h0M314.6 421.4h0M321.8 426h0M317 431.6h0M317.6 422.5h0M312.8 424.8h0M317.3 421.6h0M315.8 432.2h0M315.9 427.7h0M318.1 427.9h0M315.5 428h0M313.1 430.6h0M318 424h0M316.5 421h0M311.6 431.8h0M318.6 433.2h0M314 436h0M316.7 456h0M314 445.6h0M318.5 459.4h0M313.2 449.7h0M318.5 437.4h0M315.4 459.8h0M316.8 458h0M318.8 442.5h0M315.2 451h0M315.5 436.5h0M313.1 441.7h0M313.1 438.2h0M314.9 448.2h0M317.9 435h0M317.5 448.8h0M314.8 456.5h0M318.1 455.6h0M314 434h0M318.2 453.7h0M315.8 436.8h0M313.8 443h0M315.2 439.3h0M318.4 444.1h0M319.9 435h0M316.2 455.8h0M318.9 437.6h0M317.5 455h0"/>
<path fill="none" stroke="#a58be6" stroke-width="2.6" stroke-linecap="round" d="M335.7 382.5h0M335.7 358.1h0M335.7 462.4h0M335.7 389.9h0M335.7 423.5h0M337.8 390.6h0M335.7 399.9h0M337.7 400.6h0M335.7 392.5h0M337.8 462.6h0M335.7 353.8h0M334.9 356.5h0M335.7 419.6h0M335.7 429.6h0M335.7 360.6h0M335.7 407.2h0M333.6 462.1h0M335.7 369.3h0M339.9 462.9h0M335 430.7h0M333.6 392.3h0M333.6 389.4h0M331.5 463.4h0M335.9 359.4h0M337.8 388.4h0M337.3 407.8h0M339.7 462.6h0M336.7 355.9h0M330.5 462.2h0M335.7 433.6h0M335.5 463.3h0M335.7 370.6h0M336.4 356.6h0M333.7 388.2h0M334.7 462.3h0M338 463.3h0M329.8 462.4h0M335.1 462.3h0M335.6 368.9h0M340.6 463.1h0M337.2 362.4h0M336.4 356.9h0M335.7 366h0M336.1 428.7h0M336.7 421.7h0M335.7 395.5h0M338 392.5h0M338.2 463h0M337.8 397.3h0M335.7 416h0M335.6 313.6h0M335.6 340.7h0M335.3 343.6h0M335.1 446.7h0M338 451.9h0M336.3 433.9h0M334.4 445.2h0M337.6 454h0M339.3 450.1h0M335 441.3h0M338 435.3h0M333 440h0M337 458.4h0M334.9 433.7h0M336.3 446.8h0M334.1 444.8h0M335.4 451.9h0M336 436.2h0M335.6 457.9h0M333 453.2h0M335.2 438.9h0M339 458.6h0M335.6 457.5h0M333.7 457.7h0M335.1 458.2h0M339.1 448.7h0M337.7 452.8h0M333 441.2h0M335.1 459h0M334.9 457.5h0M335.7 447.5h0M336.3 448.1h0M338.9 450.3h0M334.6 441h0M335.3 439.3h0M335.6 443h0M337.8 439.3h0M337.3 439.5h0M332.4 457.3h0M335.8 450.1h0M337.2 455.2h0M332.3 458.5h0M338.7 436h0M337.8 449.1h0M337.6 441.3h0M337 442.2h0M337.1 446.2h0M337.4 450.4h0M332.9 442.3h0M338.4 456.4h0M338.7 447.8h0M338.1 450.9h0M334.5 444.2h0M335.7 458.1h0M336.6 457.7h0M335.7 455.3h0"/>
<path fill="none" stroke="#2e8b62" stroke-width="2.6" stroke-linecap="round" d="M354.9 360.8h0M354.9 356.8h0M357 361.4h0M354.9 462.8h0M357 463.2h0M352.8 462.5h0M354.9 348.1h0M357 357.5h0M352.8 357.7h0M352.1 357.9h0M359.1 462.3h0M350.7 462h0M353.2 462.5h0M350.7 463h0M355.4 462.2h0M359.5 462.5h0M355 356.3h0M355 462h0M357 346.9h0M357 355.4h0M354.6 326.4h0M354.9 329.3h0M354.5 340.7h0M353.9 379.4h0M351 378.9h0M360 372.2h0M353.2 374.5h0M357.4 371.6h0M351.6 371.2h0M356.4 366.2h0M351 373.2h0M353.5 377.4h0M352 379.4h0M354.6 379.2h0M352.6 373.6h0M359.3 371.5h0M359.1 379.2h0M350.7 374.1h0M353.7 373.9h0M358.6 364.2h0M351.1 377.6h0M352.4 375h0M356.4 378.2h0M356 379.3h0M351 363.5h0M357.7 372h0M358.9 369.1h0M354.9 373.6h0M351.8 378.7h0M354.6 370.5h0M352.6 369.8h0M356.9 368.6h0M353.4 372.6h0M352.8 362h0M356.8 377.3h0M357.6 376.2h0M356.9 376.1h0M353.6 418h0M354.8 390.7h0M353.6 406.1h0M358.9 418.4h0M359.4 423.5h0M354.6 392h0M352.4 424.9h0M351.1 406.2h0M351 422.3h0M352.5 409.4h0M352.5 419.5h0M349.5 407.4h0M351.4 414.3h0M354.7 397.5h0M349.1 383.5h0M351.8 408.7h0M357.6 391.6h0M358 392.4h0M357.2 385.6h0M350.3 405.7h0M352.9 411.4h0M356.3 384.2h0M352.9 391.9h0M349.3 380.2h0M355.5 410.3h0M351 414.8h0M355.7 390.4h0M353.7 416.9h0M355.8 417h0M357.4 410.8h0M358.9 411.7h0M352.4 413.3h0M358.9 397.7h0M359.1 403.6h0M354.8 396.6h0M355.9 394h0M353.1 383.7h0M359 389h0M351.2 410.9h0M349.9 398.4h0M358.7 409.9h0M359 402.9h0M357.4 394.3h0M355 409.8h0M351.1 396.7h0M359.7 412.7h0M353.1 422.3h0M355 401.8h0M356.7 384.9h0M350.7 412.7h0M351.1 393.2h0M352.6 404.8h0M350.2 383.6h0M350.8 413.7h0M356 409.3h0M360.1 393.5h0M351.7 414.6h0M350.5 396.8h0M352.8 420.3h0M351.9 397.6h0M355.4 391.2h0M352.7 383.3h0M357.9 381.6h0M359.4 415.8h0M360.7 387.6h0M356.6 411.8h0M355.8 403.4h0M353.7 421.4h0M352.2 413.9h0M351.2 411h0M355.1 405.3h0M359.3 416.9h0M359.2 387.5h0M359.4 380.3h0M349.8 392.6h0M355.3 407.5h0M357.6 397.6h0M349.7 398.1h0M355.4 392.4h0M358.6 414.6h0M356.6 401.2h0M357.6 381.7h0M355.3 386.9h0M352 389h0M351 401.2h0M351.1 416h0M357.3 414.9h0M358.2 420h0M357.4 389.2h0M351.9 396.8h0M350.9 416.8h0M354.4 419.4h0M359.4 415.8h0M356.9 425.6h0M353.2 432.5h0M354 431.9h0M358.1 432h0M357.6 430.1h0M350.7 430.4h0M353 428.8h0M354.6 431.5h0M358.3 430.4h0M355 425.4h0M356.2 438.7h0M355.1 432.7h0M351.8 439.2h0M351.2 439.1h0M356.1 430.5h0M357.1 426.3h0M353.4 435.4h0M350.9 426h0M355.3 432.2h0M352.1 435.1h0M353.7 433.8h0M350.8 427.4h0M354.3 434.8h0M357.5 438.4h0M350.5 426.2h0M354.2 444.7h0M357.3 451.6h0M357.9 441.3h0M356.1 448.7h0M356.6 449h0M353.3 455.5h0M357.3 446.6h0M354.2 445.5h0M356.2 441.2h0M357.9 451.9h0M351.7 447.7h0M355.9 451.3h0M354.6 442.1h0"/>
<path d="M285 299.2 V519.2 H368" fill="none" stroke="#1a1a1a" stroke-width="1.6"/>
<line x1="280.8" y1="519.2" x2="285" y2="519.2" stroke="#1a1a1a" stroke-width="1.6"/>
<text x="277" y="521.4" font-size="6.6" text-anchor="end" font-weight="bold" textLength="9.2" lengthAdjust="spacingAndGlyphs">10</text>
<text x="277.6" y="519.9" font-size="3.6" text-anchor="start" font-weight="bold">0</text>
<line x1="280.8" y1="464.2" x2="285" y2="464.2" stroke="#1a1a1a" stroke-width="1.6"/>
<text x="277" y="466.4" font-size="6.6" text-anchor="end" font-weight="bold" textLength="9.2" lengthAdjust="spacingAndGlyphs">10</text>
<text x="277.6" y="464.9" font-size="3.6" text-anchor="start" font-weight="bold">1</text>
<line x1="280.8" y1="409.2" x2="285" y2="409.2" stroke="#1a1a1a" stroke-width="1.6"/>
<text x="277" y="411.4" font-size="6.6" text-anchor="end" font-weight="bold" textLength="9.2" lengthAdjust="spacingAndGlyphs">10</text>
<text x="277.6" y="409.9" font-size="3.6" text-anchor="start" font-weight="bold">2</text>
<line x1="280.8" y1="354.2" x2="285" y2="354.2" stroke="#1a1a1a" stroke-width="1.6"/>
<text x="277" y="356.4" font-size="6.6" text-anchor="end" font-weight="bold" textLength="9.2" lengthAdjust="spacingAndGlyphs">10</text>
<text x="277.6" y="354.9" font-size="3.6" text-anchor="start" font-weight="bold">3</text>
<line x1="280.8" y1="299.2" x2="285" y2="299.2" stroke="#1a1a1a" stroke-width="1.6"/>
<text x="277" y="301.4" font-size="6.6" text-anchor="end" font-weight="bold" textLength="9.2" lengthAdjust="spacingAndGlyphs">10</text>
<text x="277.6" y="299.9" font-size="3.6" text-anchor="start" font-weight="bold">4</text>
<line x1="297.3" y1="519.2" x2="297.3" y2="523.2" stroke="#1a1a1a" stroke-width="1.6"/>
<line x1="316.5" y1="519.2" x2="316.5" y2="523.2" stroke="#1a1a1a" stroke-width="1.6"/>
<line x1="335.7" y1="519.2" x2="335.7" y2="523.2" stroke="#1a1a1a" stroke-width="1.6"/>
<line x1="354.9" y1="519.2" x2="354.9" y2="523.2" stroke="#1a1a1a" stroke-width="1.6"/>
<text x="0" y="0" font-size="7.3" text-anchor="end" font-weight="bold" stroke="#000" stroke-width="0" transform="translate(299.3 530.2) rotate(-42)">2024.1.8-1.10</text>
<text x="0" y="0" font-size="7.3" text-anchor="end" font-weight="bold" stroke="#000" stroke-width="0" transform="translate(318.5 530.2) rotate(-42)">2024.2.8-2.10</text>
<text x="0" y="0" font-size="7.3" text-anchor="end" font-weight="bold" stroke="#000" stroke-width="0" transform="translate(337.7 530.2) rotate(-42)">2024.3.8-3.10</text>
<text x="0" y="0" font-size="7.3" text-anchor="end" font-weight="bold" stroke="#000" stroke-width="0" transform="translate(356.9 530.2) rotate(-42)">2024.4.8-4.10</text>
<text x="299.5" y="311.5" font-size="8" text-anchor="middle" font-weight="normal" fill="#555" textLength="10.8" lengthAdjust="spacingAndGlyphs" >105</text>
<text x="319.8" y="311.5" font-size="8" text-anchor="middle" font-weight="normal" fill="#555" textLength="10.8" lengthAdjust="spacingAndGlyphs" >103</text>
<text x="337" y="311.5" font-size="8" text-anchor="middle" font-weight="normal" fill="#555" textLength="10.8" lengthAdjust="spacingAndGlyphs" >289</text>
<text x="355" y="311.5" font-size="8" text-anchor="middle" font-weight="normal" fill="#555" textLength="10.8" lengthAdjust="spacingAndGlyphs" >336</text>
<line x1="295.1" y1="291.7" x2="318.2" y2="291.7" stroke="#4a72d0" stroke-width="2"/>
<text x="306.6" y="288.2" font-size="13" text-anchor="middle" font-weight="normal" fill="#444" textLength="15" lengthAdjust="spacingAndGlyphs" >n.s.</text>
<line x1="318.2" y1="297.2" x2="337.6" y2="297.2" stroke="#4a72d0" stroke-width="2"/>
<text x="327.9" y="299" font-size="13" text-anchor="middle" font-weight="normal" fill="#444" textLength="8.4" lengthAdjust="spacingAndGlyphs" >**</text>
<line x1="335.2" y1="291.7" x2="359" y2="291.7" stroke="#4a72d0" stroke-width="2"/>
<text x="347.1" y="288.2" font-size="13" text-anchor="middle" font-weight="normal" fill="#444" textLength="15" lengthAdjust="spacingAndGlyphs" >n.s.</text>
<text x="0" y="0" font-size="12" text-anchor="middle" font-weight="bold" textLength="181.4" lengthAdjust="spacingAndGlyphs" transform="translate(261 409) rotate(-90)">Serum JN.1 Neutralizing Antibody(IC50)</text>
<text x="249" y="294.3" font-size="18" text-anchor="start" font-weight="normal" fill="#222" >d</text>
<rect x="457.8" y="380.3" width="14.5" height="137.4" fill="#f8eee0"/>
<rect x="482.1" y="378.8" width="14.5" height="138.9" fill="#f8eee0"/>
<rect x="506.6" y="393.4" width="14.5" height="124.3" fill="#f8eee0"/>
<line x1="449" y1="467.9" x2="530.7" y2="467.9" stroke="#777" stroke-width="1" stroke-dasharray="1.2 2.2"/>
<rect x="457.8" y="380.3" width="14.5" height="137.4" fill="none" stroke="#1a1a1a" stroke-width="2"/>
<rect x="482.1" y="378.8" width="14.5" height="138.9" fill="none" stroke="#1a1a1a" stroke-width="2"/>
<rect x="506.6" y="393.4" width="14.5" height="124.3" fill="none" stroke="#1a1a1a" stroke-width="2"/>
<path fill="none" stroke="#ff1a1a" stroke-width="2.7" stroke-linecap="round" d="M465 404.4h0M467.4 403.3h0M465 401.9h0M462.6 403h0M469.8 402.3h0M460.2 403.7h0M459 402.2h0M467.4 401.4h0M462.6 404.9h0M468.6 404.9h0M465 351.3h0M471.9 401.9h0M461.4 401.6h0M459.3 402.7h0M470.6 401.5h0M467 401.3h0M471 404.8h0M463 403.9h0M465.4 402h0M468.2 401.7h0M462.7 401.7h0M462.7 404h0M465 356.4h0M458.1 403h0M465 353.9h0M463.8 355.8h0M465.1 324.4h0M465 335.3h0M464.9 341h0M465.2 343.5h0M465.3 346h0M463.8 362.1h0M465.8 364.9h0M464.4 359.3h0M463.8 361.1h0M462.9 363.4h0M468.9 364.1h0M464.9 361.1h0M465 362.9h0M465.8 362.8h0M466.6 361.7h0M467.1 364.4h0M462.7 363.9h0M467.8 364.9h0M467.1 361.9h0M468.9 363.8h0M464.7 364.1h0M461.2 391.9h0M466.3 395.2h0M469 395.7h0M466.8 390.7h0M462.7 365.4h0M460.6 376.1h0M468.4 374.5h0M467.9 391.5h0M461.2 365.2h0M461.9 373h0M467.2 386.2h0M460.6 366.9h0M468.5 387h0M460.6 376.8h0M460.9 379h0M466 368.9h0M461 384.9h0M465.3 372.2h0M467.9 394.8h0M464.7 392.3h0M462.8 377.3h0M466.5 365.1h0M463.6 392.4h0M462 399.5h0M464.9 375.5h0M463.8 396.8h0M468.8 396.6h0M460.5 381.4h0M463.1 373h0M464.4 387.8h0M462.3 394.1h0M469.2 369.9h0M469.7 399h0M468.8 380.8h0M466.8 398.5h0M468.5 371.3h0M464.9 380.3h0M461.8 399.7h0M465.1 377.1h0M464.4 386.7h0M469.7 386.9h0M462.7 366.7h0M468 373.5h0M462.8 371.2h0M462.6 376.7h0M468.8 394.4h0M468.7 400h0M465.8 397.6h0M464.2 379.8h0M469.8 399.7h0M465.5 383.6h0M461.8 395.2h0M467.3 380.7h0M465.8 375.3h0M460.8 381.4h0M465.3 374.6h0M461.6 382.5h0M465.8 371.1h0M463 387h0M461.6 398.6h0M461.6 372.1h0M465 393.4h0M462.4 369.9h0M468.4 365.6h0M463.6 373.9h0M461.7 392.9h0M469.2 397.1h0M468.3 398h0M468.1 365.6h0M464 382.9h0M465.6 377.2h0M462.7 399.8h0M469 367.9h0M465.5 365.4h0M468.2 370.4h0M467.9 376.9h0M467.1 386.7h0M461 388.5h0M462.2 367.7h0M465.3 376.4h0M465 397.5h0M460.6 390.6h0M462.3 371.2h0M463.8 368h0M462.9 385.7h0M461.7 386.8h0M461.1 395.2h0M460.8 397.6h0M462.5 397h0M463.3 370.6h0M463 373.9h0M467.5 399.2h0M466.5 374.3h0M467.3 394.1h0M463.4 369.5h0M463.8 386.2h0M462.4 384.9h0M466.8 385.9h0M464.8 368.2h0M462.7 371h0M466.5 383.2h0M465.7 366.4h0M460.8 383.7h0M467.4 397.1h0M468 383h0M464.3 378.7h0M464.8 374.2h0M466.5 382.1h0M462.2 386.6h0M460.5 373.5h0M465.7 366.6h0M460.6 396.9h0M462.4 399.3h0M462.4 371.1h0M468.3 378.2h0M468.2 373.8h0M466.9 376.6h0M463.6 392.4h0M469.1 375.3h0M464.7 366.9h0M462.3 390.1h0M467.2 369.2h0M463.3 374.2h0M466 387.1h0M468.4 397.5h0M460.5 368.7h0M463.5 381.1h0M462.5 378h0M465.7 391.9h0M467.4 376.8h0M469.6 389.1h0M463.9 374.7h0M464.2 387.5h0M466.9 402.3h0M464.8 402.8h0M465.4 403.7h0M464.6 400.3h0M462.9 404.7h0M466.8 400.2h0M462.2 400.8h0M461.9 402h0M463.5 404.7h0M468.6 404.7h0M464 403.7h0M464.2 404.3h0M462.8 402h0M468.7 403.1h0M464.4 400.5h0M461.6 400.7h0M461.8 402.8h0M462.3 402.2h0M469.3 403.6h0M466 415.6h0M467.1 412.5h0M462.2 416.5h0M468.8 414.3h0M462.6 410.9h0M461.9 417.8h0M467 412.6h0M461.4 411.6h0M462.3 407.9h0M468.3 422.3h0M466.2 425.5h0M464.9 414.9h0M462.4 412.1h0M463.4 417.6h0M463.6 409.2h0M463.8 405.2h0M462.3 420.1h0M460.8 407.5h0M465.4 423.7h0M462.9 422.8h0M463.6 426.3h0M467.4 419.8h0M463.6 424.2h0M461.4 408.9h0M463.5 413.7h0M465.7 417.8h0M466.9 420.7h0M465.2 415.2h0M461.7 411.2h0M463.7 415.2h0M465 408.1h0M466 426h0M465.9 409.3h0M465.3 421.7h0M468.3 409.3h0M466.1 410.9h0M468.3 410.8h0M464.4 408.6h0M463.9 415.5h0M467.3 409.2h0M464.7 419.8h0M465.4 412.1h0M464.4 421.5h0M461.5 411.7h0M463.8 410.7h0M462.4 412.4h0M463.4 422.9h0M462.4 423.1h0M461.8 410.7h0M463.9 417.4h0M464.5 425.4h0M464.2 418.3h0M466.2 418.8h0M462.6 415.1h0M464.2 422.4h0M465.3 409.5h0M463.9 414.5h0M463.6 422.8h0M462.5 413.8h0M463.6 415.3h0M463.9 421.5h0M467.1 419.5h0M465.7 412.9h0M465 425.2h0M464.4 406.7h0M462 424.7h0M465.1 433h0M465.3 438h0M464.8 446h0M465.2 452h0"/>
<path fill="none" stroke="#2222ee" stroke-width="2.7" stroke-linecap="round" d="M489.3 404.8h0M491.7 403.7h0M486.9 405.2h0M491.7 405.4h0M488.1 403.4h0M494.1 404.2h0M484.5 404.8h0M485.7 403.6h0M496.5 403.6h0M482.1 403.7h0M496.5 405.3h0M484.4 405.3h0M488.4 403.8h0M482.1 405.6h0M489.2 324.4h0M489.2 330.5h0M489 342h0M489.1 345.5h0M489.5 347.5h0M492.6 357.5h0M488 350.8h0M488.8 353.6h0M491.2 352h0M486.9 354.7h0M488.7 352.6h0M492 354.3h0M488.6 352.9h0M489.4 356.1h0M492.1 355.2h0M486.5 352.5h0M486.2 352.9h0M491.3 357.8h0M486.3 352.8h0M489.8 354.6h0M489 356.7h0M488.9 357.5h0M490.5 371.3h0M495.1 379.8h0M485.1 373.3h0M488.9 369h0M487.4 369.5h0M488.3 364.8h0M491.3 373.2h0M489.7 376h0M486.6 369.7h0M484.6 372.7h0M493.3 370.7h0M491.3 377.1h0M488.1 371.8h0M492.1 361.6h0M492.1 367h0M486.2 377.8h0M485.8 373.1h0M484.1 377h0M487.7 361.5h0M492.7 379.1h0M485.6 366h0M486.4 370.8h0M488.3 371.2h0M485.9 361.7h0M485 370.9h0M488.7 367.9h0M489.4 359.2h0M488.7 361.6h0M491.1 379.3h0M486.7 362.3h0M489.9 371.4h0M486.4 379.1h0M491.6 375.8h0M493.5 379.9h0M489.4 360.7h0M487 360.7h0M488.1 366.3h0M487.7 367.4h0M488.7 379.3h0M487.8 378.8h0M490.2 359.2h0M491.2 373.9h0M494.6 377.7h0M490.4 367.9h0M488.4 366.5h0M485.7 371.9h0M486.9 363.1h0M486.5 370.9h0M485.8 373.6h0M485.4 365.2h0M489.2 361.8h0M493.1 379.5h0M488.1 378.1h0M494.5 370.4h0M487.9 374.8h0M493.6 367.7h0M492.7 361.6h0M493.4 364.1h0M494.8 376.7h0M485.8 374.6h0M489.2 373.2h0M486.9 376.3h0M488.1 379.1h0M489 362.6h0M494.1 372h0M491.5 359.2h0M493.2 378.5h0M487.6 360.6h0M492.6 359.3h0M491.9 369.6h0M491.4 362.3h0M493.3 364.9h0M489.1 375.7h0M494.4 381.8h0M488.7 391.9h0M487.3 397h0M485 392.3h0M486.8 393.8h0M492.2 398.4h0M486.6 388.2h0M486.3 398.1h0M492.1 396.2h0M485.5 390.7h0M488 390.9h0M483 398.7h0M486.2 394.2h0M490.1 400.2h0M484.5 382.1h0M487.2 392.7h0M491.6 395.3h0M493.2 385.7h0M487 389.6h0M487.8 383.1h0M485 382.6h0M493.9 390.3h0M490.4 391.8h0M487 396.8h0M483.9 389.7h0M484.5 391.1h0M493.8 400.2h0M489.6 389.6h0M490 391.8h0M491.1 381.1h0M486.4 394.4h0M493.5 389.2h0M493.6 381.8h0M484.9 385.3h0M486.8 389.3h0M484.5 390.6h0M488.5 381.8h0M488.4 385.6h0M492.1 391.1h0M495.2 402.5h0M488.8 384.2h0M494 382.5h0M495.4 398.5h0M488 389.6h0M487.2 386.4h0M482.9 399.7h0M488.1 393.9h0M483.2 396.8h0M485.9 400h0M484.3 383.5h0M485 380h0M494 389.2h0M487.2 392.8h0M486.8 402.5h0M485.4 397.7h0M483.4 389.1h0M486.4 394.2h0M486 384.6h0M493.5 393.7h0M494.8 386.4h0M493.2 381.9h0M483.9 384.9h0M486.8 381.9h0M488.5 381.3h0M493.1 402h0M484.1 390.3h0M493.8 380.4h0M491.5 393.5h0M495.5 392.1h0M483.3 385h0M485.3 382.8h0M486.5 388.6h0M490.5 394.8h0M494.4 391.2h0M493.1 390.6h0M491.3 397.6h0M486.2 390.6h0M489.2 381.2h0M488.1 384.5h0M490.5 382.2h0M488.8 384.3h0M490.4 382h0M487.4 387.8h0M485.3 399.3h0M486.2 380.7h0M485.6 382.3h0M491.3 398.7h0M495.7 401.5h0M494.9 392.6h0M493.4 397.6h0M491.9 390h0M490.3 381.6h0M484.4 405.9h0M494.9 405.5h0M490.9 404.1h0M495.2 404h0M490 405.9h0M488.3 408.5h0M490.5 408h0M492.9 406.7h0M488.7 403.3h0M486.8 403.8h0M486.1 406.7h0M490.3 405.2h0M487.5 405.3h0M489.3 406.3h0M488.6 408.5h0M486.6 405.2h0M487.9 407.4h0M489.2 408.9h0M494.5 403.5h0M488.9 408.1h0M486.9 406.6h0M492.9 406.4h0M492.1 409.9h0M493.5 408.6h0M489.7 406.6h0M491.9 406.9h0M491.8 418.7h0M491.7 419.8h0M487.8 411.5h0M491 420.3h0M492.5 410.5h0M493.4 414.7h0M487.7 421.7h0M488.6 415.6h0M486.1 415.4h0M490.7 418.4h0M486 418.9h0M491.3 411.8h0M494.2 414h0M485.5 416.3h0M492.2 418.4h0M488.1 424.4h0M486 424.5h0M488.9 426.4h0M486.5 426.9h0M493.6 417.2h0M486.1 413h0M493.6 422.9h0M492.7 411.6h0M492.7 411.4h0M491.3 423.5h0M486.8 417.7h0M487.6 419.8h0M484.9 417.9h0M491.5 425.9h0M490 418.3h0M487.7 420h0M488.5 427h0M488.3 419.8h0M493.1 423.3h0M486.6 424.6h0M494.1 410.1h0M492.3 418.2h0M490.4 420.8h0M488.1 424h0M493.6 411.9h0M489.1 424.9h0M492.5 418.7h0M485.2 410.3h0M493 419.3h0M491.8 414h0M489.7 415.8h0M487.2 420.3h0M489.6 426.3h0M494.6 410.9h0M491.5 426.8h0M488.8 419.1h0M488.7 427h0M487.8 430.1h0M489.4 433.3h0M490.2 436.3h0M488 439.3h0M490.1 442.4h0M488.3 444.8h0M489.6 456h0"/>
<path fill="none" stroke="#86d8c4" stroke-width="2" stroke-linecap="round" d="M513.9 467.9h0M513.9 369.6h0M516.3 466.7h0M511.5 467.2h0M518.7 467.3h0M509.1 467.5h0M516.3 369.2h0M511.5 369.4h0M517.8 468.2h0M510.5 369.2h0M510.8 369.9h0M519.3 467.9h0M513.5 466.9h0M515.9 468.1h0M515.9 369.5h0M519.3 466.8h0M510.4 466.8h0M519.4 468.4h0M511.4 467.9h0M507.9 468.9h0M517.4 467.3h0M508.5 468.4h0M507.9 466.2h0M516.5 468h0M514 332h0M514.1 345h0M512.9 351.9h0M513 354.8h0M513.8 358.3h0M513.5 360.6h0M513.2 363.8h0M514.5 377.5h0M514.8 377h0M512 372.2h0M515.6 374.7h0M514.4 379.5h0M513.3 373.6h0M511.9 366.1h0M513.6 379.8h0M512.3 366.8h0M515.5 379.8h0M512.5 374h0M514.7 366.7h0M516.8 378.8h0M514.4 368.6h0M512.9 369.1h0M516.8 378.9h0M511.6 374.3h0M514.9 372.5h0M512.6 373.1h0M516 372.6h0M514.9 379h0M514.1 369h0M515.3 366.3h0M515.3 370.3h0M514.5 394.1h0M517.5 391.8h0M517.2 385.8h0M513.2 382.5h0M517.6 393.6h0M516.6 397.5h0M516.6 389.7h0M514 399.8h0M514.1 380.8h0M517.8 391.9h0M514.5 391h0M516.9 398.4h0M514 386.3h0M518 392.8h0M512.9 385.2h0M512.9 396.7h0M511.8 388.5h0M512.9 393.1h0M516.2 388.8h0M516.5 385.7h0M511.3 382.3h0M512 398.6h0M510.6 392.8h0M511.7 382.9h0M513.9 385.7h0M512.2 389h0M511.5 387.3h0M512.8 392.5h0M514.7 381.2h0M513.1 399.2h0M517.2 397.9h0M517.1 380.9h0M513 387.5h0M513.2 382.1h0M510.1 395.9h0M517.6 398.3h0M511.2 391.3h0M510 389.2h0M516.8 395h0M517 395.6h0M511.8 386h0M514.3 389h0M515.4 383.8h0M511.4 391.3h0M510.4 397.3h0M513.1 388h0M511.4 398.3h0M512.4 384.2h0M510.3 406.4h0M516.8 427.1h0M515.8 422.3h0M512.8 414.4h0M510.8 418.3h0M513.4 418.4h0M515.3 406.9h0M514.2 441.6h0M513.5 421.6h0M513.4 447.2h0M515.8 410.4h0M513.4 424.3h0M511.8 450.6h0M512.5 443.9h0M514.2 456.7h0M511.9 414.6h0M517.2 437.5h0M517.8 425h0M510.1 444.9h0M510.1 461h0M513.3 425.9h0M514.1 464.2h0M512 415.1h0M516.2 460.1h0M513.8 458.4h0M516.6 443.6h0M516.3 402.5h0M511.9 430.9h0M510.3 453.4h0M513.4 418.7h0M516.5 451.6h0M512.3 409.6h0M517.3 451.6h0M512.5 406.3h0M511.6 463.5h0M509.7 411h0M515.2 408.9h0M517.3 428.1h0M510 404.2h0M517.5 460.1h0M510.7 465.5h0M516.5 414.6h0M510.4 465.8h0M516.5 431.6h0M515.3 427.9h0M515.4 464.5h0M510.5 412.6h0M516.6 436.2h0M517.8 425.2h0M515.3 446.5h0M514.5 402.9h0M513.9 451h0M511.2 412.3h0M513.6 410.3h0M517.4 416.5h0M510.7 422.2h0M511 460.8h0M516 404.3h0M512.7 450.2h0M514.7 464.2h0M509.6 402.9h0M510.6 406.5h0M510.6 430.3h0M511.6 437.3h0M514.3 406.4h0M515.3 458.8h0M516.8 462.3h0M516.8 440.9h0M514.3 446h0M510.6 462.9h0M512.8 442.4h0M517.8 429.5h0M513.1 447.4h0M511.6 439.2h0M516.8 433.6h0M510.7 429.6h0M515.1 454.5h0M510.9 431.9h0M510.6 434.4h0M509.9 432.9h0M510.3 458.9h0M511 463.8h0M512.2 431.8h0M512.7 417.9h0M515.2 423.3h0M513 444.6h0M512.9 463.2h0M515.5 460.8h0M517.7 430.4h0M517.1 406.2h0M510.7 439.9h0M515.9 403.1h0M513.3 409.1h0M516.3 442.9h0M515.3 457.7h0M514.2 463.6h0M511.2 406.2h0M510.2 425.6h0M516.9 447.8h0M510.1 457.7h0M516.6 440.2h0M510.5 423.3h0M512.2 449.6h0M516.8 422.2h0M509.9 408.3h0M518 416.9h0M513.2 434.5h0M513.9 445.5h0M516.6 411.4h0M512.8 458.5h0M509.6 403.2h0M517.7 454.1h0M511.5 404.8h0M509.8 442.2h0M514 402.1h0M515 407.7h0M516.9 415.8h0M513 429.1h0M515.6 446.1h0M514.2 453h0M512.7 418h0M510.4 432.1h0M513.8 448.1h0M514.8 406.9h0M511.1 440.5h0M511.9 450.4h0M512.8 456h0M517.1 413.4h0M517.5 421.8h0M511.6 454.6h0M510.4 407.4h0M514 457.1h0M510 435.5h0M513.7 417.8h0M515.5 446.5h0M514.8 438.8h0M510.8 463.3h0M512.5 427.2h0M510.1 466h0M509.9 458h0M516.9 443.2h0M514.6 426.5h0M517.3 434.6h0M517.6 439.7h0M514.1 417.5h0M510.3 402.3h0M515.2 458.3h0M510.4 455.5h0M514.7 427.7h0M517.9 449.9h0M512 409.8h0M509.8 413.7h0M511.8 435.5h0M514.4 424.7h0M512.1 443.6h0M516.7 438h0M512.6 400.2h0M513 400.8h0M512.8 460.4h0M515.2 414.5h0M513.2 444.1h0M515.7 432.1h0M516.4 424.6h0M514.3 414.8h0M511.8 440h0M514.6 403.4h0M513.5 401.5h0M514 436.2h0"/>
<path d="M449 318.5 V517.7 H530.7" fill="none" stroke="#1a1a1a" stroke-width="2.2"/>
<line x1="446" y1="517.7" x2="449" y2="517.7" stroke="#1a1a1a" stroke-width="2.2"/>
<text x="440.2" y="520.5" font-size="8.4" text-anchor="end" font-weight="bold" textLength="13" lengthAdjust="spacingAndGlyphs">10</text>
<text x="440.8" y="518.3" font-size="5.5" text-anchor="start" font-weight="bold">0</text>
<line x1="446" y1="467.9" x2="449" y2="467.9" stroke="#1a1a1a" stroke-width="2.2"/>
<text x="440.2" y="470.7" font-size="8.4" text-anchor="end" font-weight="bold" textLength="13" lengthAdjust="spacingAndGlyphs">10</text>
<text x="440.8" y="468.5" font-size="5.5" text-anchor="start" font-weight="bold">1</text>
<line x1="446" y1="418.1" x2="449" y2="418.1" stroke="#1a1a1a" stroke-width="2.2"/>
<text x="440.2" y="420.9" font-size="8.4" text-anchor="end" font-weight="bold" textLength="13" lengthAdjust="spacingAndGlyphs">10</text>
<text x="440.8" y="418.7" font-size="5.5" text-anchor="start" font-weight="bold">2</text>
<line x1="446" y1="368.3" x2="449" y2="368.3" stroke="#1a1a1a" stroke-width="2.2"/>
<text x="440.2" y="371.1" font-size="8.4" text-anchor="end" font-weight="bold" textLength="13" lengthAdjust="spacingAndGlyphs">10</text>
<text x="440.8" y="368.9" font-size="5.5" text-anchor="start" font-weight="bold">3</text>
<line x1="446" y1="318.5" x2="449" y2="318.5" stroke="#1a1a1a" stroke-width="2.2"/>
<text x="440.2" y="321.3" font-size="8.4" text-anchor="end" font-weight="bold" textLength="13" lengthAdjust="spacingAndGlyphs">10</text>
<text x="440.8" y="319.1" font-size="5.5" text-anchor="start" font-weight="bold">4</text>
<line x1="465" y1="517.7" x2="465" y2="524.2" stroke="#1a1a1a" stroke-width="2.2"/>
<line x1="489.3" y1="517.7" x2="489.3" y2="524.2" stroke="#1a1a1a" stroke-width="2.2"/>
<line x1="513.9" y1="517.7" x2="513.9" y2="524.2" stroke="#1a1a1a" stroke-width="2.2"/>
<text x="0" y="0" font-size="9.8" text-anchor="end" font-weight="bold" stroke="#000" stroke-width="0" transform="translate(467 532.7) rotate(-42)">XBB1.5</text>
<text x="0" y="0" font-size="9.8" text-anchor="end" font-weight="bold" stroke="#000" stroke-width="0" transform="translate(491.3 532.7) rotate(-42)">EG.5</text>
<text x="0" y="0" font-size="9.8" text-anchor="end" font-weight="bold" stroke="#000" stroke-width="0" transform="translate(515.9 532.7) rotate(-42)">JN.1</text>
<text x="463.3" y="312.5" font-size="9" text-anchor="middle" font-weight="normal" fill="#555" textLength="12.3" lengthAdjust="spacingAndGlyphs" >574</text>
<text x="486.9" y="312.5" font-size="9" text-anchor="middle" font-weight="normal" fill="#555" textLength="12.3" lengthAdjust="spacingAndGlyphs" >614</text>
<text x="508.6" y="312.5" font-size="9" text-anchor="middle" font-weight="normal" fill="#555" textLength="12.3" lengthAdjust="spacingAndGlyphs" >313</text>
<line x1="460.4" y1="296.1" x2="483.6" y2="296.1" stroke="#4a72d0" stroke-width="2"/>
<text x="472" y="293.3" font-size="13" text-anchor="middle" font-weight="normal" fill="#444" textLength="15.6" lengthAdjust="spacingAndGlyphs" >n.s.</text>
<line x1="484.8" y1="301.8" x2="508" y2="301.8" stroke="#4a72d0" stroke-width="2"/>
<text x="496.4" y="302.6" font-size="13" text-anchor="middle" font-weight="normal" fill="#444" textLength="13.5" lengthAdjust="spacingAndGlyphs" >***</text>
<text x="0" y="0" font-size="12" text-anchor="middle" font-weight="bold" textLength="35" lengthAdjust="spacingAndGlyphs" transform="translate(423 412.7) rotate(-90)">pVNT50</text>
<text x="414" y="296" font-size="18" text-anchor="start" font-weight="normal" fill="#222" >e</text>
</svg>
</body></html>
